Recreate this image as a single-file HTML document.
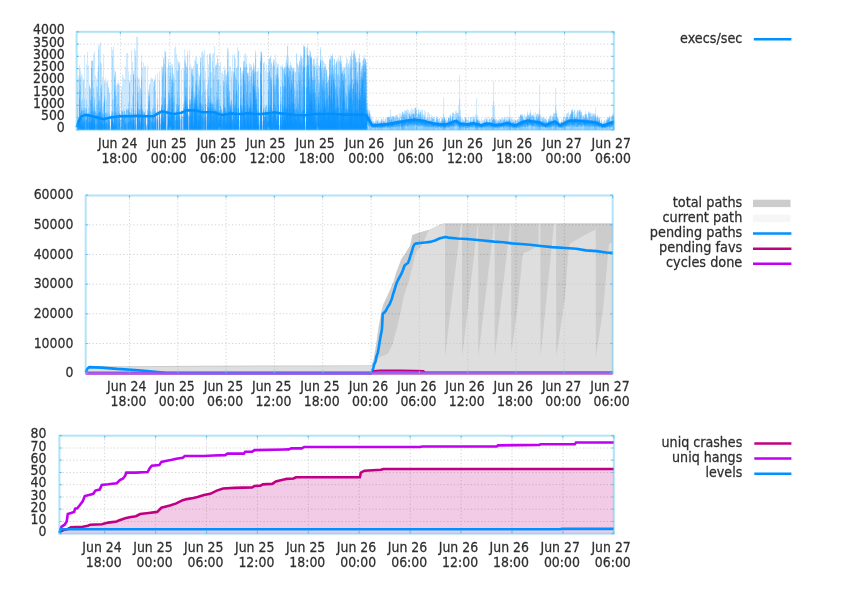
<!DOCTYPE html>
<html><head><meta charset="utf-8"><title>afl plots</title>
<style>html,body{margin:0;padding:0;background:#fff;overflow:hidden}svg{display:block}</style>
</head><body>
<svg width="846" height="592" viewBox="0 0 846 592">
<defs><filter id="tb" x="-5%" y="-20%" width="110%" height="140%"><feGaussianBlur stdDeviation="0.32"/></filter></defs>
<rect width="846" height="592" fill="#fff"/>
<path d="M120.4 31.8V129.8M169.8 31.8V129.8M219.1 31.8V129.8M268.5 31.8V129.8M317.8 31.8V129.8M367.2 31.8V129.8M416.6 31.8V129.8M465.9 31.8V129.8M515.3 31.8V129.8M564.6 31.8V129.8M76.6 117.6H613.8M76.6 105.3H613.8M76.6 93.1H613.8M76.6 80.8H613.8M76.6 68.6H613.8M76.6 56.3H613.8M76.6 44.1H613.8" stroke="#d6d6d6" stroke-width="1" stroke-dasharray="1.3 2.1" fill="none"/>
<path d="M77.1 129.8V78.9H78.1V75.8H79.1V64.7H80.1V70.4H81.1V74.1H82.1V77.2H83.1V79.2H84.1V54.5H85.1V88.1H86.1V64.5H87.1V52H88.1V65.4H89.1V84.5H90.1V87.7H91.1V60.3H92.1V60.3H93.1V54.1H94.1V51.5H95.1V75.5H96.1V78.8H97.1V71.4H98.1V45.6H99.1V44.5H100.1V42.5H101.1V63.4H102.1V77H103.1V54.1H104.1V81.3H105.1V78H106.1V81H107.1V81.3H108.1V87.3H109.1V92.6H110.1V126.3H111.1V47H112.1V50H113.1V46.3H114.1V70.3H115.1V71.5H116.1V85.2H117.1V83.1H118.1V82.1H119.1V85H120.1V118.6H121.1V85.9H122.1V74.1H123.1V77.1H124.1V79.3H125.1V66.3H126.1V53.2H127.1V53.1H128.1V71H129.1V80.5H130.1V74.5H131.1V50.2H132.1V61.7H133.1V70.8H134.1V48.6H135.1V50.7H136.1V36.7H137.1V36.7H138.1V78.3H139.1V79H140.1V88.1H141.1V55.2H142.1V67.5H143.1V62.5H144.1V66.3H145.1V66H146.1V124.8H147.1V65.5H148.1V89.6H149.1V83.6H150.1V78.9H151.1V77.5H152.1V78.5H153.1V81.2H154.1V78.5H155.1V74.9H156.1V116.4H157.1V72.9H158.1V119.2H159.1V71.3H160.1V118.3H161.1V66.1H162.1V67.1H163.1V57H164.1V50.5H165.1V51.5H166.1V113H167.1V67.4H168.1V59.2H169.1V65.5H170.1V61.4H171.1V64.6H172.1V64.2H173.1V74.2H174.1V48.2H175.1V46.1H176.1V54H177.1V59.2H178.1V61.7H179.1V61.6H180.1V115.9H181.1V69.3H182.1V115.7H183.1V68H184.1V48.9H185.1V56.3H186.1V65.9H187.1V50.7H188.1V115.1H189.1V50.1H190.1V64.7H191.1V66.9H192.1V69.3H193.1V66H194.1V59.9H195.1V56.8H196.1V56.4H197.1V63.4H198.1V73.8H199.1V75.5H200.1V57.4H201.1V52.3H202.1V50.5H203.1V53.4H204.1V49.8H205.1V70.9H206.1V114H207.1V54.8H208.1V64.5H209.1V53.5H210.1V53.1H211.1V72.4H212.1V54.3H213.1V52.9H214.1V46.1H215.1V64.8H216.1V63.3H217.1V55.1H218.1V63.7H219.1V66.1H220.1V61.9H221.1V72.9H222.1V71H223.1V74H224.1V66.5H225.1V69.6H226.1V73.7H227.1V47.4H228.1V48.9H229.1V66H230.1V66.6H231.1V71.1H232.1V54.9H233.1V70.7H234.1V53.7H235.1V59.1H236.1V67.9H237.1V47.1H238.1V50.7H239.1V120.5H240.1V67.1H241.1V72.7H242.1V70.7H243.1V61.2H244.1V54.8H245.1V52.9H246.1V57H247.1V72.5H248.1V72.5H249.1V63.2H250.1V64.1H251.1V65H252.1V69.8H253.1V62.3H254.1V66.2H255.1V50H256.1V71.8H257.1V70.9H258.1V67.9H259.1V114.2H260.1V51.1H261.1V51.8H262.1V121.2H263.1V62.7H264.1V61.8H265.1V70.9H266.1V64.4H267.1V72.2H268.1V59.4H269.1V57.6H270.1V55.4H271.1V62.3H272.1V66.5H273.1V58.8H274.1V59.5H275.1V54.6H276.1V62.1H277.1V64.2H278.1V63.8H279.1V125H280.1V65.6H281.1V66.4H282.1V64.3H283.1V68.3H284.1V66.6H285.1V62.8H286.1V55.2H287.1V45.7H288.1V57.1H289.1V65.5H290.1V61.8H291.1V65.2H292.1V67.2H293.1V67.3H294.1V70.2H295.1V71.8H296.1V53.6H297.1V63.2H298.1V65.7H299.1V59.9H300.1V54H301.1V56.2H302.1V58.2H303.1V44.6H304.1V46.2H305.1V121.7H306.1V47.7H307.1V43.8H308.1V56H309.1V49.7H310.1V51.3H311.1V56.9H312.1V64.5H313.1V58.8H314.1V57.5H315.1V63.5H316.1V57.4H317.1V57.1H318.1V64.6H319.1V65.9H320.1V47H321.1V59.6H322.1V56.8H323.1V61.3H324.1V63.2H325.1V64H326.1V69.6H327.1V76.5H328.1V76.3H329.1V58.2H330.1V54.8H331.1V55.9H332.1V53.5H333.1V65.2H334.1V59H335.1V63.6H336.1V60.9H337.1V58.9H338.1V57H339.1V59.8H340.1V55.3H341.1V60.9H342.1V69.8H343.1V66.2H344.1V67.5H345.1V64.6H346.1V56.9H347.1V59.1H348.1V63.2H349.1V60.2H350.1V56H351.1V50.9H352.1V59.3H353.1V50.8H354.1V49.8H355.1V56.7H356.1V61.3H357.1V61.9H358.1V57.9H359.1V53.7H360.1V62.6H361.1V65.5H362.1V60.8H363.1V57.5H364.1V54.9H365.1V58.9H366.1V62.1H367.1V112.9H368.1V115.5H369.1V118.6H370.1V119.8H371.1V121.6H372.1V124.4H373.1V123.9H374.1V124.3H375.1V124H376.1V123.6H377.1V124.1H378.1V124.7H379.1V124.4H380.1V124.8H381.1V123.3H382.1V123.3H383.1V123.9H384.1V123.6H385.1V124.3H386.1V122.9H387.1V123.2H388.1V122.4H389.1V120.3H390.1V109.3H391.1V120.4H392.1V121.6H393.1V122H394.1V122.8H395.1V121.6H396.1V122.3H397.1V121.6H398.1V120.8H399.1V121.4H400.1V121.2H401.1V119.3H402.1V112.2H403.1V120H404.1V119.1H405.1V119.8H406.1V120H407.1V118.8H408.1V118.4H409.1V118.4H410.1V118.7H411.1V120.3H412.1V119.8H413.1V117.4H414.1V118H415.1V118.2H416.1V117.2H417.1V118H418.1V119.6H419.1V118.6H420.1V118.8H421.1V120.3H422.1V118.6H423.1V118.6H424.1V118.8H425.1V120.4H426.1V119.7H427.1V120.7H428.1V122.4H429.1V120.4H430.1V120.9H431.1V121.2H432.1V122.1H433.1V123.2H434.1V122.7H435.1V123H436.1V122.5H437.1V123.2H438.1V123.7H439.1V122.9H440.1V122.8H441.1V124.1H442.1V119.8H443.1V97.4H444.1V116.9H445.1V122.9H446.1V123.5H447.1V122.9H448.1V121.8H449.1V123.1H450.1V122.3H451.1V121H452.1V121.8H453.1V121.4H454.1V119.5H455.1V119.4H456.1V118.4H457.1V119.7H458.1V105.8H459.1V75.3H460.1V110.3H461.1V122.6H462.1V122.1H463.1V122.2H464.1V122.4H465.1V123H466.1V124H467.1V123.2H468.1V123.5H469.1V122.6H470.1V122.7H471.1V122.1H472.1V121.9H473.1V122.9H474.1V121.5H475.1V114.2H476.1V98.3H477.1V115.5H478.1V123H479.1V123.1H480.1V124.5H481.1V124.3H482.1V124.5H483.1V123.1H484.1V122.9H485.1V122.6H486.1V122H487.1V122.1H488.1V122H489.1V122.9H490.1V123.1H491.1V123.5H492.1V105.6H493.1V81.2H494.1V106.3H495.1V124.9H496.1V123.8H497.1V124.3H498.1V124.5H499.1V123.3H500.1V123.9H501.1V123.1H502.1V123.6H503.1V122.6H504.1V123.2H505.1V122.4H506.1V121.4H507.1V121.1H508.1V118.7H509.1V105.4H510.1V120.1H511.1V124.1H512.1V123.7H513.1V124.2H514.1V124.1H515.1V124.9H516.1V124.1H517.1V124.3H518.1V123.4H519.1V122.4H520.1V121.1H521.1V121.4H522.1V122.1H523.1V119.9H524.1V120.2H525.1V120.3H526.1V119.2H527.1V120H528.1V118.4H529.1V119.3H530.1V119.6H531.1V119.4H532.1V119.6H533.1V119.1H534.1V119.9H535.1V120.8H536.1V120.8H537.1V120.7H538.1V113.5H539.1V84.7H540.1V114.7H541.1V122.1H542.1V123.1H543.1V123.7H544.1V124.1H545.1V124H546.1V123.9H547.1V124.3H548.1V123.9H549.1V122H550.1V122H551.1V122.1H552.1V121.5H553.1V121.6H554.1V113.1H555.1V88H556.1V109.5H557.1V122.6H558.1V123.6H559.1V123.6H560.1V124.2H561.1V123.7H562.1V124.2H563.1V122.3H564.1V122.4H565.1V120.8H566.1V121.3H567.1V119.7H568.1V119.1H569.1V120.2H570.1V119H571.1V118H572.1V119H573.1V119.1H574.1V119.2H575.1V118.2H576.1V119.3H577.1V119.2H578.1V118.4H579.1V120.1H580.1V120.6H581.1V119H582.1V118.7H583.1V119.5H584.1V119.9H585.1V119.4H586.1V120.5H587.1V119.3H588.1V120.7H589.1V121.2H590.1V120.7H591.1V120.6H592.1V120.8H593.1V121.6H594.1V119.4H595.1V107.2H596.1V120.2H597.1V121.7H598.1V122.3H599.1V122.5H600.1V124.4H601.1V124H602.1V125H603.1V125.2H604.1V124.1H605.1V124.1H606.1V122.9H607.1V122.4H608.1V122.9H609.1V122H610.1V121.3H611.1V120.9H612.1V120.8H613.1V120.1H614.1V129.8Z" fill="#0090ff" fill-opacity="0.2"/>
<path d="M77.1 129.8V107.7H78.1V118.3H79.1V69H80.1V76.5H81.1V100.9H82.1V99.2H83.1V81.8H84.1V98.6H85.1V108.1H86.1V99.4H87.1V113.8H88.1V107.3H89.1V86H90.1V89.3H91.1V61.1H92.1V61H93.1V88.3H94.1V97.1H95.1V110.8H96.1V86.4H97.1V87H98.1V48.9H99.1V95.8H100.1V62.2H101.1V84H102.1V109.4H103.1V102.5H104.1V83.1H105.1V112.8H106.1V99.4H107.1V83.4H108.1V87.7H109.1V93.3H110.1V129.8H111.1V111H112.1V55.9H113.1V99.5H114.1V76H115.1V72.6H116.1V95.6H117.1V84.5H118.1V84.3H119.1V106.8H120.1V120.1H121.1V91.7H122.1V110.5H123.1V108.8H124.1V111H125.1V114H126.1V108.3H127.1V108.9H128.1V102H129.1V81.9H130.1V112.1H131.1V108.1H132.1V94.8H133.1V74H134.1V113.5H135.1V56.8H136.1V125.2H137.1V76.5H138.1V93.2H139.1V86.7H140.1V89.5H141.1V61.9H142.1V108.2H143.1V110.8H144.1V111.7H145.1V109.4H146.1V125.5H147.1V109.3H148.1V93.7H149.1V85.1H150.1V110.9H151.1V112.2H152.1V108.2H153.1V86.3H154.1V80.4H155.1V91H156.1V119.1H157.1V98.4H158.1V129.8H159.1V81.1H160.1V123.2H161.1V96.9H162.1V68.9H163.1V59.3H164.1V63.8H165.1V52.3H166.1V129.8H167.1V104.2H168.1V63.6H169.1V75.7H170.1V67H171.1V77.8H172.1V67.5H173.1V76.7H174.1V79.3H175.1V111H176.1V69.9H177.1V71.3H178.1V63.3H179.1V64.5H180.1V119.1H181.1V110.2H182.1V116.1H183.1V103.2H184.1V60H185.1V62.5H186.1V67.2H187.1V54.4H188.1V116H189.1V86.2H190.1V99.2H191.1V69H192.1V69.6H193.1V76.3H194.1V92.2H195.1V61.6H196.1V63.7H197.1V64.4H198.1V84.7H199.1V76.8H200.1V57.7H201.1V95.4H202.1V57H203.1V65.9H204.1V79.1H205.1V89.5H206.1V118.7H207.1V84.6H208.1V76.5H209.1V54.3H210.1V57.1H211.1V87.8H212.1V61H213.1V68.5H214.1V75.2H215.1V66.8H216.1V65.2H217.1V59H218.1V79.2H219.1V99.1H220.1V84.8H221.1V108.8H222.1V111.6H223.1V80.9H224.1V70.5H225.1V75.6H226.1V76.1H227.1V51.8H228.1V71.7H229.1V90.3H230.1V100.7H231.1V76.8H232.1V104.2H233.1V71.9H234.1V57.2H235.1V76.2H236.1V68.7H237.1V66.2H238.1V51H239.1V126.6H240.1V67.4H241.1V78.8H242.1V73.8H243.1V61.4H244.1V61.3H245.1V67.1H246.1V64.1H247.1V73H248.1V75.9H249.1V67.7H250.1V75.7H251.1V67.3H252.1V70.5H253.1V64.2H254.1V70.7H255.1V52.9H256.1V86.1H257.1V71.4H258.1V87.3H259.1V121H260.1V58H261.1V52H262.1V125.1H263.1V63.5H264.1V107H265.1V105.2H266.1V105.2H267.1V107.3H268.1V65.5H269.1V59.2H270.1V58.3H271.1V63.7H272.1V108.6H273.1V61.2H274.1V65.3H275.1V75H276.1V68.8H277.1V66.5H278.1V76.7H279.1V129.8H280.1V86.5H281.1V97.1H282.1V67H283.1V70H284.1V68H285.1V66.9H286.1V59.9H287.1V46.2H288.1V68H289.1V67.5H290.1V64.7H291.1V67.6H292.1V68.9H293.1V68.3H294.1V87.4H295.1V72.8H296.1V54.1H297.1V64.2H298.1V68.8H299.1V61.7H300.1V56.2H301.1V58.3H302.1V66.3H303.1V46.8H304.1V46.3H305.1V126H306.1V65.1H307.1V47.8H308.1V56.4H309.1V54.7H310.1V52.6H311.1V57.1H312.1V76.8H313.1V59.5H314.1V65.5H315.1V77H316.1V65.7H317.1V67.9H318.1V80.7H319.1V66.9H320.1V49.8H321.1V68.2H322.1V61.1H323.1V67.2H324.1V66.8H325.1V66.2H326.1V70H327.1V81.7H328.1V80H329.1V60H330.1V59H331.1V56H332.1V56.6H333.1V69H334.1V59.1H335.1V73.4H336.1V61.6H337.1V74H338.1V61.4H339.1V61.4H340.1V55.7H341.1V64.1H342.1V70.8H343.1V69.6H344.1V67.5H345.1V78.2H346.1V63.1H347.1V66.9H348.1V64.4H349.1V69.2H350.1V56.6H351.1V53.8H352.1V79.2H353.1V53.4H354.1V53.5H355.1V57.7H356.1V62.8H357.1V71.8H358.1V65H359.1V58H360.1V71.2H361.1V68.8H362.1V65.3H363.1V59.1H364.1V58H365.1V59.7H366.1V68.7H367.1V117.2H368.1V118.2H369.1V119.6H370.1V119.8H371.1V122.2H372.1V125H373.1V123.9H374.1V125H375.1V124.1H376.1V124.7H377.1V124.7H378.1V124.8H379.1V124.6H380.1V124.9H381.1V123.8H382.1V124.1H383.1V124.6H384.1V124.4H385.1V124.5H386.1V123.1H387.1V123.5H388.1V123.7H389.1V123.4H390.1V121.4H391.1V122.2H392.1V122.4H393.1V122.2H394.1V123H395.1V121.7H396.1V122.9H397.1V122.6H398.1V120.8H399.1V121.7H400.1V121.6H401.1V120.8H402.1V120.9H403.1V121H404.1V120.7H405.1V121.2H406.1V120.6H407.1V120.8H408.1V118.7H409.1V119.5H410.1V118.7H411.1V120.4H412.1V119.8H413.1V118H414.1V118.5H415.1V119.9H416.1V119.1H417.1V120.4H418.1V119.8H419.1V120.1H420.1V119.4H421.1V120.9H422.1V118.9H423.1V119.1H424.1V119.2H425.1V121.8H426.1V121.4H427.1V121.5H428.1V122.6H429.1V120.4H430.1V121.4H431.1V122H432.1V122.9H433.1V123.7H434.1V123.6H435.1V123.6H436.1V123H437.1V123.9H438.1V124H439.1V124.1H440.1V124.1H441.1V124.3H442.1V122.8H443.1V114H444.1V123.6H445.1V123.2H446.1V124.2H447.1V124H448.1V123.8H449.1V123.4H450.1V122.4H451.1V121.3H452.1V122.4H453.1V122H454.1V119.8H455.1V120.6H456.1V119.6H457.1V120.6H458.1V121.8H459.1V99.1H460.1V122.8H461.1V123.6H462.1V122.5H463.1V122.7H464.1V123.5H465.1V123.4H466.1V124.4H467.1V123.9H468.1V124.5H469.1V123.8H470.1V123.5H471.1V123.5H472.1V122.3H473.1V123H474.1V123.5H475.1V123.6H476.1V115H477.1V123.8H478.1V124.5H479.1V124.1H480.1V124.7H481.1V124.9H482.1V124.6H483.1V124.8H484.1V124.2H485.1V124.2H486.1V122.1H487.1V122.4H488.1V123.1H489.1V123.8H490.1V123.3H491.1V124.3H492.1V123.8H493.1V101.1H494.1V123.6H495.1V125H496.1V124.6H497.1V124.9H498.1V124.6H499.1V124.9H500.1V124.6H501.1V123.6H502.1V123.8H503.1V123.6H504.1V123.4H505.1V123.5H506.1V123.2H507.1V121.6H508.1V122.2H509.1V119.1H510.1V123.1H511.1V124.2H512.1V124.6H513.1V124.7H514.1V124.9H515.1V125.4H516.1V124.9H517.1V124.7H518.1V123.9H519.1V123.4H520.1V122.6H521.1V122.3H522.1V122.5H523.1V120.5H524.1V121.6H525.1V120.4H526.1V121.4H527.1V121.2H528.1V120.6H529.1V119.4H530.1V121.1H531.1V120.5H532.1V121.5H533.1V120.6H534.1V121.2H535.1V120.9H536.1V121.6H537.1V120.8H538.1V120.8H539.1V108.7H540.1V121.4H541.1V122.6H542.1V123.5H543.1V124.1H544.1V124.4H545.1V124.4H546.1V124.4H547.1V124.7H548.1V124.1H549.1V123.1H550.1V122.4H551.1V123H552.1V122.6H553.1V122.4H554.1V120.2H555.1V105.4H556.1V122H557.1V123.2H558.1V123.7H559.1V124.6H560.1V124.5H561.1V124.2H562.1V124.6H563.1V122.7H564.1V123.6H565.1V123.1H566.1V122.3H567.1V119.9H568.1V120.2H569.1V120.6H570.1V119.8H571.1V120.6H572.1V120.1H573.1V120.3H574.1V120.6H575.1V118.9H576.1V120.4H577.1V120.1H578.1V119.5H579.1V121H580.1V120.9H581.1V120.7H582.1V119H583.1V120H584.1V120.1H585.1V121.3H586.1V121.3H587.1V119.9H588.1V122H589.1V121.4H590.1V121.6H591.1V120.8H592.1V121.6H593.1V122.5H594.1V121.7H595.1V116.6H596.1V121.1H597.1V122.9H598.1V122.6H599.1V123.7H600.1V124.4H601.1V125.1H602.1V125.1H603.1V125.5H604.1V125.1H605.1V124.8H606.1V124.5H607.1V123.1H608.1V124H609.1V123H610.1V122.8H611.1V121.9H612.1V121.6H613.1V122.2H614.1V129.8Z" fill="#0090ff" fill-opacity="0.2"/>
<path d="M77.1 129.8V124.6H78.1V119.2H79.1V78.3H80.1V85.1H81.1V107.4H82.1V110.2H83.1V107.7H84.1V107.7H85.1V109.9H86.1V107.4H87.1V113.9H88.1V111.7H89.1V87H90.1V99.6H91.1V67.7H92.1V80.8H93.1V106.8H94.1V99.5H95.1V111.7H96.1V104.8H97.1V93.3H98.1V65.8H99.1V99.4H100.1V87.9H101.1V85.7H102.1V112.8H103.1V106H104.1V94.9H105.1V112.8H106.1V112.5H107.1V112.9H108.1V111.6H109.1V114.2H110.1V129.8H111.1V113.2H112.1V99.6H113.1V111.4H114.1V77.4H115.1V90.6H116.1V106.9H117.1V104H118.1V92.5H119.1V112.8H120.1V126.8H121.1V110.9H122.1V111.6H123.1V114.4H124.1V111.1H125.1V114.5H126.1V109.4H127.1V110.6H128.1V108.6H129.1V83.3H130.1V113H131.1V108.2H132.1V113.7H133.1V74.1H134.1V114.6H135.1V77.9H136.1V129.8H137.1V86.3H138.1V108.1H139.1V108.8H140.1V105H141.1V76.5H142.1V110.1H143.1V112.5H144.1V111.9H145.1V114.8H146.1V126.9H147.1V110.3H148.1V96.3H149.1V94.3H150.1V111.2H151.1V115H152.1V109.1H153.1V106.2H154.1V82.2H155.1V107.4H156.1V121.2H157.1V104.8H158.1V129.8H159.1V110H160.1V124.4H161.1V104.8H162.1V72.5H163.1V65.6H164.1V90.4H165.1V56.8H166.1V129.8H167.1V108.8H168.1V91H169.1V91.8H170.1V73.4H171.1V80.2H172.1V72.7H173.1V82.8H174.1V95.2H175.1V113.6H176.1V104.1H177.1V90.9H178.1V70.8H179.1V97.9H180.1V129.8H181.1V114.1H182.1V129.8H183.1V107.4H184.1V70.5H185.1V63.5H186.1V73.5H187.1V68.2H188.1V123.9H189.1V99.2H190.1V99.5H191.1V72.9H192.1V74.7H193.1V95H194.1V96.8H195.1V81.3H196.1V69.6H197.1V94.7H198.1V87.5H199.1V81.5H200.1V62.6H201.1V103.7H202.1V92.7H203.1V81.4H204.1V91.4H205.1V98.8H206.1V129.8H207.1V89.3H208.1V80.7H209.1V96.1H210.1V72.3H211.1V101.8H212.1V102.2H213.1V79.3H214.1V96.4H215.1V102.6H216.1V92.1H217.1V80H218.1V80.5H219.1V111.5H220.1V105.7H221.1V109H222.1V111.8H223.1V81.7H224.1V82H225.1V107H226.1V81.8H227.1V59.5H228.1V76.3H229.1V91.6H230.1V102.7H231.1V99.4H232.1V108.9H233.1V74.3H234.1V67.7H235.1V78H236.1V79.8H237.1V95.6H238.1V82.8H239.1V129.8H240.1V68.5H241.1V85.5H242.1V97.5H243.1V66.2H244.1V67.7H245.1V67.4H246.1V65.7H247.1V73.3H248.1V81.6H249.1V80.6H250.1V83.5H251.1V72.3H252.1V83.7H253.1V68.9H254.1V72.4H255.1V58.6H256.1V92.6H257.1V79.4H258.1V89.1H259.1V125.4H260.1V61.4H261.1V53.2H262.1V129.8H263.1V106.8H264.1V115.7H265.1V107H266.1V105.8H267.1V111.1H268.1V74.5H269.1V70.4H270.1V76.4H271.1V77.6H272.1V110.9H273.1V62.5H274.1V83H275.1V84.9H276.1V74.8H277.1V68.6H278.1V78.6H279.1V129.8H280.1V86.5H281.1V112.9H282.1V67.6H283.1V86.1H284.1V69H285.1V74.6H286.1V66.4H287.1V63.2H288.1V68H289.1V70.6H290.1V68.9H291.1V75.1H292.1V71H293.1V69.3H294.1V89.8H295.1V96H296.1V81.2H297.1V84H298.1V72H299.1V63.7H300.1V65.1H301.1V61.3H302.1V71.7H303.1V55H304.1V46.7H305.1V129.8H306.1V66.2H307.1V54.4H308.1V60.4H309.1V76.4H310.1V56H311.1V58.6H312.1V79.9H313.1V66.3H314.1V67.1H315.1V92.4H316.1V70.5H317.1V75.5H318.1V83.5H319.1V83.2H320.1V60.1H321.1V70.2H322.1V76.7H323.1V70.2H324.1V68.4H325.1V82.9H326.1V70.1H327.1V83.5H328.1V80.7H329.1V60H330.1V60.1H331.1V67H332.1V59.1H333.1V73.2H334.1V65.5H335.1V86.7H336.1V62.5H337.1V75.8H338.1V74.2H339.1V76.8H340.1V62.8H341.1V67H342.1V72.5H343.1V75H344.1V73.5H345.1V92.7H346.1V93.8H347.1V84.8H348.1V74.1H349.1V82.5H350.1V63.8H351.1V59H352.1V88.5H353.1V55.8H354.1V53.8H355.1V58.6H356.1V76.2H357.1V73.5H358.1V83.9H359.1V61.9H360.1V77H361.1V69.1H362.1V65.9H363.1V59.8H364.1V62.2H365.1V59.8H366.1V81.5H367.1V129.8H368.1V129.8H369.1V121.2H370.1V125.7H371.1V124.3H372.1V129.8H373.1V129.8H374.1V126.2H375.1V125.6H376.1V129.8H377.1V124.8H378.1V126.8H379.1V126.4H380.1V126.5H381.1V124.7H382.1V125H383.1V129.8H384.1V129.8H385.1V129.8H386.1V129.8H387.1V124.1H388.1V129.8H389.1V123.7H390.1V122.3H391.1V123H392.1V125.3H393.1V125.8H394.1V129.8H395.1V125.7H396.1V123.3H397.1V123.5H398.1V123.7H399.1V124.7H400.1V129.8H401.1V122.8H402.1V121.8H403.1V121.8H404.1V124.3H405.1V125.1H406.1V129.8H407.1V123.7H408.1V121H409.1V120.7H410.1V124.1H411.1V122.4H412.1V120.1H413.1V123.4H414.1V121.7H415.1V129.8H416.1V121H417.1V123.6H418.1V129.8H419.1V129.8H420.1V124.8H421.1V129.8H422.1V124.1H423.1V125H424.1V123.2H425.1V124.8H426.1V123.5H427.1V124.6H428.1V124.5H429.1V122.3H430.1V129.8H431.1V124.4H432.1V123.6H433.1V124.7H434.1V125.9H435.1V129.8H436.1V129.8H437.1V125.6H438.1V124.4H439.1V129.8H440.1V129.8H441.1V125.4H442.1V124.1H443.1V122.8H444.1V123.7H445.1V126H446.1V129.8H447.1V129.8H448.1V129.8H449.1V124H450.1V125H451.1V122.3H452.1V125.1H453.1V125.1H454.1V129.8H455.1V129.8H456.1V129.8H457.1V124.5H458.1V122.4H459.1V121.5H460.1V122.9H461.1V126.7H462.1V126H463.1V124.7H464.1V129.8H465.1V124.4H466.1V129.8H467.1V129.8H468.1V126.3H469.1V124.2H470.1V129.8H471.1V129.8H472.1V129.8H473.1V129.8H474.1V129.8H475.1V123.9H476.1V122.1H477.1V124H478.1V126.7H479.1V129.8H480.1V126.9H481.1V125.6H482.1V126H483.1V129.8H484.1V126.7H485.1V124.3H486.1V124.1H487.1V126.6H488.1V124.1H489.1V124.4H490.1V125H491.1V126H492.1V124.1H493.1V123.9H494.1V124.8H495.1V129.8H496.1V125.1H497.1V127.1H498.1V124.7H499.1V127.2H500.1V129.8H501.1V129.8H502.1V129.8H503.1V124.4H504.1V126.5H505.1V129.8H506.1V123.7H507.1V125.3H508.1V123.1H509.1V121.8H510.1V123.3H511.1V129.8H512.1V125H513.1V125.8H514.1V126.1H515.1V126H516.1V125.2H517.1V129.8H518.1V124.7H519.1V123.6H520.1V123.9H521.1V124.2H522.1V123.6H523.1V129.8H524.1V124.7H525.1V124.8H526.1V129.8H527.1V121.3H528.1V129.8H529.1V129.8H530.1V129.8H531.1V121.8H532.1V124.3H533.1V129.8H534.1V129.8H535.1V125.6H536.1V125.2H537.1V122.9H538.1V121.5H539.1V121.1H540.1V122.3H541.1V129.8H542.1V124.5H543.1V129.8H544.1V129.8H545.1V126.6H546.1V129.8H547.1V125.3H548.1V126.5H549.1V124.4H550.1V124.8H551.1V126.3H552.1V129.8H553.1V123.5H554.1V121.1H555.1V120.8H556.1V122.4H557.1V129.8H558.1V126.5H559.1V129.8H560.1V129.8H561.1V126.7H562.1V125.9H563.1V124.3H564.1V124.7H565.1V124.9H566.1V129.8H567.1V129.8H568.1V129.8H569.1V129.8H570.1V124.8H571.1V124.5H572.1V123.7H573.1V129.8H574.1V125H575.1V129.8H576.1V129.8H577.1V124.8H578.1V129.8H579.1V129.8H580.1V123.3H581.1V129.8H582.1V129.8H583.1V129.8H584.1V124.7H585.1V121.9H586.1V123.1H587.1V123.9H588.1V122.3H589.1V121.8H590.1V125.7H591.1V129.8H592.1V122.2H593.1V129.8H594.1V121.9H595.1V120.5H596.1V122.5H597.1V126.1H598.1V129.8H599.1V124.1H600.1V129.8H601.1V127.4H602.1V127.2H603.1V129.8H604.1V129.8H605.1V126.4H606.1V129.8H607.1V126.1H608.1V129.8H609.1V123.4H610.1V129.8H611.1V129.8H612.1V129.8H613.1V123.2H614.1V129.8Z" fill="#0090ff" fill-opacity="0.2"/>
<path d="M77.1 129.8V124.8H78.1V119.9H79.1V90.2H80.1V111.5H81.1V109.8H82.1V110.6H83.1V111H84.1V110.4H85.1V116.9H86.1V108.5H87.1V113.9H88.1V114H89.1V112.7H90.1V100.1H91.1V68.4H92.1V96.6H93.1V110.7H94.1V106.7H95.1V111.7H96.1V113.6H97.1V107.1H98.1V100.5H99.1V108.1H100.1V102.2H101.1V92.8H102.1V113.6H103.1V114.7H104.1V97.6H105.1V116.6H106.1V114.3H107.1V116.1H108.1V118.6H109.1V114.7H110.1V129.8H111.1V114.6H112.1V111.2H113.1V117.9H114.1V85.2H115.1V96.1H116.1V111.9H117.1V113.2H118.1V110.9H119.1V113.8H120.1V129.8H121.1V111.3H122.1V112H123.1V116H124.1V111.3H125.1V114.5H126.1V110H127.1V116.8H128.1V108.9H129.1V112H130.1V115.1H131.1V113.7H132.1V115.2H133.1V74.9H134.1V120.2H135.1V110.1H136.1V129.8H137.1V92.6H138.1V111.2H139.1V110.1H140.1V109.5H141.1V81.3H142.1V111.6H143.1V114.7H144.1V113.2H145.1V115.2H146.1V129.8H147.1V112.5H148.1V101.2H149.1V96.8H150.1V111.5H151.1V116.7H152.1V111.8H153.1V111.5H154.1V108.8H155.1V111.3H156.1V129.8H157.1V115.6H158.1V129.8H159.1V110.6H160.1V129.8H161.1V105H162.1V76.2H163.1V100.2H164.1V98.3H165.1V71.3H166.1V129.8H167.1V109.7H168.1V93.1H169.1V95H170.1V98.8H171.1V87H172.1V80.7H173.1V101.6H174.1V112.6H175.1V119.8H176.1V104.6H177.1V98.3H178.1V104.5H179.1V112.5H180.1V129.8H181.1V114.8H182.1V129.8H183.1V107.5H184.1V81.3H185.1V87.6H186.1V87.6H187.1V99.4H188.1V129.8H189.1V101.2H190.1V103.8H191.1V88H192.1V75.9H193.1V102.3H194.1V98.7H195.1V85.6H196.1V80.7H197.1V100.2H198.1V92.4H199.1V90.1H200.1V73.3H201.1V104.9H202.1V105.7H203.1V103.9H204.1V110.7H205.1V103.9H206.1V129.8H207.1V101.9H208.1V95.7H209.1V101.9H210.1V87.9H211.1V103.9H212.1V103.5H213.1V104.2H214.1V104.6H215.1V109H216.1V99.6H217.1V97.1H218.1V102.4H219.1V111.5H220.1V105.9H221.1V110.4H222.1V113.5H223.1V85.9H224.1V98.3H225.1V108.3H226.1V85.2H227.1V72.1H228.1V84.6H229.1V97H230.1V105H231.1V100.6H232.1V113.5H233.1V83.2H234.1V72.9H235.1V94.1H236.1V81.1H237.1V108.1H238.1V85.6H239.1V129.8H240.1V86H241.1V105.1H242.1V105.6H243.1V70.4H244.1V80.3H245.1V84H246.1V91.9H247.1V75.6H248.1V97.1H249.1V92.9H250.1V92.2H251.1V76.5H252.1V86.3H253.1V69.5H254.1V80.3H255.1V72.1H256.1V95.8H257.1V110.5H258.1V93.6H259.1V129.8H260.1V61.8H261.1V55.2H262.1V129.8H263.1V109.2H264.1V115.9H265.1V108.5H266.1V112.4H267.1V113.1H268.1V89.6H269.1V71.5H270.1V77.8H271.1V80.2H272.1V111.6H273.1V65.6H274.1V86.3H275.1V89.1H276.1V78.3H277.1V73.4H278.1V93.2H279.1V129.8H280.1V101.2H281.1V113.3H282.1V81.9H283.1V86.3H284.1V72.7H285.1V75.4H286.1V69.5H287.1V65.3H288.1V76.5H289.1V71.1H290.1V72.1H291.1V80.4H292.1V75H293.1V72.3H294.1V104.1H295.1V98.7H296.1V91.2H297.1V90.1H298.1V101.5H299.1V74.1H300.1V77.1H301.1V84.3H302.1V86.9H303.1V64.4H304.1V49.6H305.1V129.8H306.1V72.7H307.1V55H308.1V64.3H309.1V78.7H310.1V57.5H311.1V59.3H312.1V80H313.1V79.8H314.1V70.2H315.1V94H316.1V84.9H317.1V94.4H318.1V92.4H319.1V86.9H320.1V60.3H321.1V73H322.1V81.7H323.1V79.5H324.1V73.7H325.1V87.7H326.1V72.8H327.1V87.8H328.1V95H329.1V63.8H330.1V75.3H331.1V73.3H332.1V65H333.1V76.2H334.1V78.2H335.1V88.9H336.1V65.2H337.1V85.9H338.1V98.9H339.1V87.3H340.1V64.2H341.1V73.2H342.1V73.5H343.1V76.3H344.1V73.7H345.1V102.3H346.1V95.5H347.1V108.8H348.1V86.4H349.1V85.3H350.1V68.2H351.1V66.7H352.1V88.7H353.1V83.1H354.1V67H355.1V62.1H356.1V80.7H357.1V79.6H358.1V93.1H359.1V62.3H360.1V79.5H361.1V73.2H362.1V71.2H363.1V64.8H364.1V64.2H365.1V64.7H366.1V103.7H367.1V129.8H368.1V129.8H369.1V129.8H370.1V129.8H371.1V129.8H372.1V129.8H373.1V129.8H374.1V129.8H375.1V129.8H376.1V129.8H377.1V129.8H378.1V129.8H379.1V129.8H380.1V129.8H381.1V129.8H382.1V129.8H383.1V129.8H384.1V129.8H385.1V129.8H386.1V129.8H387.1V129.8H388.1V129.8H389.1V129.8H390.1V122.5H391.1V129.8H392.1V129.8H393.1V129.8H394.1V129.8H395.1V129.8H396.1V129.8H397.1V129.8H398.1V129.8H399.1V129.8H400.1V129.8H401.1V124.8H402.1V121.9H403.1V124.2H404.1V129.8H405.1V129.8H406.1V129.8H407.1V129.8H408.1V129.8H409.1V129.8H410.1V129.8H411.1V129.8H412.1V129.8H413.1V129.8H414.1V129.8H415.1V129.8H416.1V129.8H417.1V129.8H418.1V129.8H419.1V129.8H420.1V129.8H421.1V129.8H422.1V129.8H423.1V129.8H424.1V129.8H425.1V129.8H426.1V129.8H427.1V129.8H428.1V129.8H429.1V129.8H430.1V129.8H431.1V129.8H432.1V129.8H433.1V129.8H434.1V129.8H435.1V129.8H436.1V129.8H437.1V129.8H438.1V129.8H439.1V129.8H440.1V129.8H441.1V129.8H442.1V129.8H443.1V124.2H444.1V126.4H445.1V129.8H446.1V129.8H447.1V129.8H448.1V129.8H449.1V129.8H450.1V129.8H451.1V129.8H452.1V129.8H453.1V129.8H454.1V129.8H455.1V129.8H456.1V129.8H457.1V129.8H458.1V129.8H459.1V122.4H460.1V124.1H461.1V129.8H462.1V129.8H463.1V129.8H464.1V129.8H465.1V129.8H466.1V129.8H467.1V129.8H468.1V129.8H469.1V129.8H470.1V129.8H471.1V129.8H472.1V129.8H473.1V129.8H474.1V129.8H475.1V124.4H476.1V123.2H477.1V125.8H478.1V129.8H479.1V129.8H480.1V129.8H481.1V129.8H482.1V129.8H483.1V129.8H484.1V129.8H485.1V129.8H486.1V129.8H487.1V129.8H488.1V129.8H489.1V129.8H490.1V129.8H491.1V129.8H492.1V124.3H493.1V124.1H494.1V129.8H495.1V129.8H496.1V129.8H497.1V129.8H498.1V129.8H499.1V129.8H500.1V129.8H501.1V129.8H502.1V129.8H503.1V129.8H504.1V129.8H505.1V129.8H506.1V129.8H507.1V129.8H508.1V129.8H509.1V122.1H510.1V125.5H511.1V129.8H512.1V129.8H513.1V129.8H514.1V129.8H515.1V129.8H516.1V129.8H517.1V129.8H518.1V129.8H519.1V129.8H520.1V129.8H521.1V129.8H522.1V129.8H523.1V129.8H524.1V129.8H525.1V129.8H526.1V129.8H527.1V129.8H528.1V129.8H529.1V129.8H530.1V129.8H531.1V129.8H532.1V129.8H533.1V129.8H534.1V129.8H535.1V129.8H536.1V129.8H537.1V129.8H538.1V129.8H539.1V121.9H540.1V129.8H541.1V129.8H542.1V129.8H543.1V129.8H544.1V129.8H545.1V129.8H546.1V129.8H547.1V129.8H548.1V129.8H549.1V129.8H550.1V129.8H551.1V129.8H552.1V129.8H553.1V129.8H554.1V129.8H555.1V121.2H556.1V129.8H557.1V129.8H558.1V129.8H559.1V129.8H560.1V129.8H561.1V129.8H562.1V129.8H563.1V129.8H564.1V129.8H565.1V129.8H566.1V129.8H567.1V129.8H568.1V129.8H569.1V129.8H570.1V129.8H571.1V129.8H572.1V129.8H573.1V129.8H574.1V129.8H575.1V129.8H576.1V129.8H577.1V129.8H578.1V129.8H579.1V129.8H580.1V129.8H581.1V129.8H582.1V129.8H583.1V129.8H584.1V129.8H585.1V129.8H586.1V129.8H587.1V129.8H588.1V129.8H589.1V129.8H590.1V129.8H591.1V129.8H592.1V129.8H593.1V129.8H594.1V125.2H595.1V121.7H596.1V129.8H597.1V129.8H598.1V129.8H599.1V129.8H600.1V129.8H601.1V129.8H602.1V129.8H603.1V129.8H604.1V129.8H605.1V129.8H606.1V129.8H607.1V129.8H608.1V129.8H609.1V129.8H610.1V129.8H611.1V129.8H612.1V129.8H613.1V129.8H614.1V129.8Z" fill="#0090ff" fill-opacity="0.2"/>
<path d="M77.1 129.8V126.5H78.1V121.8H79.1V97.8H80.1V113.2H81.1V110.7H82.1V118.5H83.1V111.2H84.1V113.1H85.1V120.8H86.1V119.3H87.1V114.5H88.1V114.5H89.1V114.4H90.1V108.6H91.1V96.1H92.1V102.5H93.1V110.8H94.1V108.6H95.1V116.5H96.1V113.7H97.1V113.9H98.1V101.3H99.1V111.1H100.1V107.5H101.1V106.7H102.1V113.9H103.1V116H104.1V100H105.1V118.6H106.1V119.7H107.1V120.1H108.1V119.4H109.1V121.1H110.1V129.8H111.1V115.2H112.1V113.2H113.1V122H114.1V91.4H115.1V111.6H116.1V115.6H117.1V117H118.1V118.2H119.1V114H120.1V129.8H121.1V119.2H122.1V114.1H123.1V116.5H124.1V113.6H125.1V117.7H126.1V114H127.1V118.1H128.1V110.5H129.1V112.2H130.1V115.8H131.1V115.4H132.1V115.7H133.1V96.7H134.1V120.5H135.1V113.2H136.1V129.8H137.1V101.5H138.1V113.5H139.1V110.4H140.1V121.7H141.1V93.9H142.1V112.5H143.1V116H144.1V113.5H145.1V117.4H146.1V129.8H147.1V114.2H148.1V105.3H149.1V101.4H150.1V117.6H151.1V121.1H152.1V114.7H153.1V114.6H154.1V110.8H155.1V112H156.1V129.8H157.1V117.4H158.1V129.8H159.1V112H160.1V129.8H161.1V106.7H162.1V104.6H163.1V109.9H164.1V98.8H165.1V74H166.1V129.8H167.1V123.3H168.1V100.9H169.1V98H170.1V103.5H171.1V92H172.1V82.3H173.1V102H174.1V115.1H175.1V119.8H176.1V110.4H177.1V105.9H178.1V105.5H179.1V115.1H180.1V129.8H181.1V117H182.1V129.8H183.1V115.1H184.1V100.6H185.1V95.5H186.1V97.2H187.1V103.9H188.1V129.8H189.1V103.8H190.1V104.6H191.1V90.9H192.1V85.4H193.1V105.2H194.1V99.3H195.1V95.1H196.1V84.2H197.1V105H198.1V106.1H199.1V96.7H200.1V80.3H201.1V112H202.1V105.8H203.1V107.9H204.1V112.9H205.1V104H206.1V129.8H207.1V106.2H208.1V99.5H209.1V102.9H210.1V99.5H211.1V104.5H212.1V104.5H213.1V107.2H214.1V108.5H215.1V109.6H216.1V106H217.1V97.6H218.1V107H219.1V112.1H220.1V106.5H221.1V113.7H222.1V115.3H223.1V104.4H224.1V107H225.1V110.9H226.1V111.7H227.1V87.5H228.1V93.4H229.1V105.3H230.1V106H231.1V104.5H232.1V119H233.1V89.6H234.1V105.2H235.1V102.8H236.1V89.8H237.1V113H238.1V106.3H239.1V129.8H240.1V96.9H241.1V106.3H242.1V108.1H243.1V71.4H244.1V82.5H245.1V106.3H246.1V95.1H247.1V84.8H248.1V105.7H249.1V107.5H250.1V93.3H251.1V102H252.1V104H253.1V74.3H254.1V85H255.1V90H256.1V99H257.1V114.1H258.1V108.5H259.1V129.8H260.1V73.4H261.1V57.9H262.1V129.8H263.1V109.4H264.1V116.9H265.1V110.4H266.1V113.7H267.1V113.7H268.1V91H269.1V105H270.1V82.2H271.1V84.1H272.1V112.2H273.1V78.3H274.1V92H275.1V105.3H276.1V79.5H277.1V74H278.1V104.4H279.1V129.8H280.1V104.3H281.1V116.2H282.1V86.8H283.1V107.2H284.1V73.9H285.1V78.3H286.1V87.3H287.1V66.2H288.1V76.5H289.1V79.4H290.1V88.2H291.1V82H292.1V84.5H293.1V72.4H294.1V106.9H295.1V109.6H296.1V106.4H297.1V98.6H298.1V104H299.1V81H300.1V91.5H301.1V111.4H302.1V97.5H303.1V67.6H304.1V67.1H305.1V129.8H306.1V86.4H307.1V55.6H308.1V65.8H309.1V86.5H310.1V58.8H311.1V71.1H312.1V83.3H313.1V81H314.1V79.9H315.1V97H316.1V96.9H317.1V105.8H318.1V97.1H319.1V91.4H320.1V62.6H321.1V83.7H322.1V84.7H323.1V81.1H324.1V87.1H325.1V102.1H326.1V82.8H327.1V91.4H328.1V96.1H329.1V74.8H330.1V89.5H331.1V76.7H332.1V74H333.1V78.8H334.1V83H335.1V98.9H336.1V87.6H337.1V93.9H338.1V106H339.1V88.1H340.1V81.6H341.1V73.6H342.1V80.8H343.1V79.8H344.1V87.4H345.1V108.1H346.1V97H347.1V109.1H348.1V88.8H349.1V89.8H350.1V84H351.1V78.8H352.1V91.9H353.1V83.5H354.1V79.6H355.1V68.6H356.1V93.4H357.1V81.1H358.1V99.4H359.1V63.2H360.1V88.3H361.1V75H362.1V76.4H363.1V68H364.1V72.3H365.1V65.8H366.1V108.1H367.1V129.8H368.1V129.8H369.1V129.8H370.1V129.8H371.1V129.8H372.1V129.8H373.1V129.8H374.1V129.8H375.1V129.8H376.1V129.8H377.1V129.8H378.1V129.8H379.1V129.8H380.1V129.8H381.1V129.8H382.1V129.8H383.1V129.8H384.1V129.8H385.1V129.8H386.1V129.8H387.1V129.8H388.1V129.8H389.1V129.8H390.1V129.8H391.1V129.8H392.1V129.8H393.1V129.8H394.1V129.8H395.1V129.8H396.1V129.8H397.1V129.8H398.1V129.8H399.1V129.8H400.1V129.8H401.1V129.8H402.1V123.1H403.1V129.8H404.1V129.8H405.1V129.8H406.1V129.8H407.1V129.8H408.1V129.8H409.1V129.8H410.1V129.8H411.1V129.8H412.1V129.8H413.1V129.8H414.1V129.8H415.1V129.8H416.1V129.8H417.1V129.8H418.1V129.8H419.1V129.8H420.1V129.8H421.1V129.8H422.1V129.8H423.1V129.8H424.1V129.8H425.1V129.8H426.1V129.8H427.1V129.8H428.1V129.8H429.1V129.8H430.1V129.8H431.1V129.8H432.1V129.8H433.1V129.8H434.1V129.8H435.1V129.8H436.1V129.8H437.1V129.8H438.1V129.8H439.1V129.8H440.1V129.8H441.1V129.8H442.1V129.8H443.1V125.4H444.1V129.8H445.1V129.8H446.1V129.8H447.1V129.8H448.1V129.8H449.1V129.8H450.1V129.8H451.1V129.8H452.1V129.8H453.1V129.8H454.1V129.8H455.1V129.8H456.1V129.8H457.1V129.8H458.1V129.8H459.1V124H460.1V129.8H461.1V129.8H462.1V129.8H463.1V129.8H464.1V129.8H465.1V129.8H466.1V129.8H467.1V129.8H468.1V129.8H469.1V129.8H470.1V129.8H471.1V129.8H472.1V129.8H473.1V129.8H474.1V129.8H475.1V129.8H476.1V129.8H477.1V129.8H478.1V129.8H479.1V129.8H480.1V129.8H481.1V129.8H482.1V129.8H483.1V129.8H484.1V129.8H485.1V129.8H486.1V129.8H487.1V129.8H488.1V129.8H489.1V129.8H490.1V129.8H491.1V129.8H492.1V129.8H493.1V129.8H494.1V129.8H495.1V129.8H496.1V129.8H497.1V129.8H498.1V129.8H499.1V129.8H500.1V129.8H501.1V129.8H502.1V129.8H503.1V129.8H504.1V129.8H505.1V129.8H506.1V129.8H507.1V129.8H508.1V129.8H509.1V123.9H510.1V129.8H511.1V129.8H512.1V129.8H513.1V129.8H514.1V129.8H515.1V129.8H516.1V129.8H517.1V129.8H518.1V129.8H519.1V129.8H520.1V129.8H521.1V129.8H522.1V129.8H523.1V129.8H524.1V129.8H525.1V129.8H526.1V129.8H527.1V129.8H528.1V129.8H529.1V129.8H530.1V129.8H531.1V129.8H532.1V129.8H533.1V129.8H534.1V129.8H535.1V129.8H536.1V129.8H537.1V129.8H538.1V129.8H539.1V123.6H540.1V129.8H541.1V129.8H542.1V129.8H543.1V129.8H544.1V129.8H545.1V129.8H546.1V129.8H547.1V129.8H548.1V129.8H549.1V129.8H550.1V129.8H551.1V129.8H552.1V129.8H553.1V129.8H554.1V129.8H555.1V125.6H556.1V129.8H557.1V129.8H558.1V129.8H559.1V129.8H560.1V129.8H561.1V129.8H562.1V129.8H563.1V129.8H564.1V129.8H565.1V129.8H566.1V129.8H567.1V129.8H568.1V129.8H569.1V129.8H570.1V129.8H571.1V129.8H572.1V129.8H573.1V129.8H574.1V129.8H575.1V129.8H576.1V129.8H577.1V129.8H578.1V129.8H579.1V129.8H580.1V129.8H581.1V129.8H582.1V129.8H583.1V129.8H584.1V129.8H585.1V129.8H586.1V129.8H587.1V129.8H588.1V129.8H589.1V129.8H590.1V129.8H591.1V129.8H592.1V129.8H593.1V129.8H594.1V129.8H595.1V129.8H596.1V129.8H597.1V129.8H598.1V129.8H599.1V129.8H600.1V129.8H601.1V129.8H602.1V129.8H603.1V129.8H604.1V129.8H605.1V129.8H606.1V129.8H607.1V129.8H608.1V129.8H609.1V129.8H610.1V129.8H611.1V129.8H612.1V129.8H613.1V129.8H614.1V129.8Z" fill="#0090ff" fill-opacity="0.2"/>
<path d="M77.1 129.8V126.6H78.1V122.9H79.1V98.9H80.1V113.2H81.1V111.2H82.1V118.5H83.1V118H84.1V118H85.1V121.7H86.1V119.4H87.1V115.4H88.1V121.8H89.1V116.5H90.1V112.2H91.1V103.8H92.1V110.8H93.1V112.5H94.1V112.6H95.1V124.1H96.1V116.6H97.1V114.9H98.1V112.2H99.1V112H100.1V112.1H101.1V116.4H102.1V120H103.1V118.1H104.1V102.1H105.1V122.1H106.1V122.4H107.1V122.7H108.1V119.9H109.1V121.1H110.1V129.8H111.1V116.8H112.1V116H113.1V122.9H114.1V112.5H115.1V112.7H116.1V117.1H117.1V118.6H118.1V118.6H119.1V114.8H120.1V129.8H121.1V120.3H122.1V115.7H123.1V118.5H124.1V115.9H125.1V121.8H126.1V123.5H127.1V121.8H128.1V113.6H129.1V118.7H130.1V115.9H131.1V119.4H132.1V116.7H133.1V109.2H134.1V125.2H135.1V117.6H136.1V129.8H137.1V102.1H138.1V114.8H139.1V113.6H140.1V122.2H141.1V96H142.1V113.8H143.1V116.1H144.1V121.4H145.1V117.5H146.1V129.8H147.1V123.6H148.1V111.5H149.1V108.6H150.1V120H151.1V121.3H152.1V115.2H153.1V115.2H154.1V120.8H155.1V115.4H156.1V129.8H157.1V118.3H158.1V129.8H159.1V112.7H160.1V129.8H161.1V106.9H162.1V111.4H163.1V110.9H164.1V104.8H165.1V97H166.1V129.8H167.1V125.4H168.1V106.9H169.1V99.8H170.1V112.5H171.1V96.4H172.1V96.9H173.1V113.8H174.1V115.8H175.1V120.4H176.1V112.1H177.1V109.3H178.1V107.6H179.1V115.7H180.1V129.8H181.1V118.9H182.1V129.8H183.1V116.5H184.1V102.7H185.1V96.3H186.1V103.3H187.1V106.1H188.1V129.8H189.1V110.7H190.1V104.8H191.1V95.9H192.1V90.9H193.1V111.4H194.1V100.7H195.1V97H196.1V85.8H197.1V109.6H198.1V106.8H199.1V101.7H200.1V102.7H201.1V112.5H202.1V109.5H203.1V117H204.1V116.3H205.1V107.6H206.1V129.8H207.1V106.8H208.1V107.1H209.1V106.8H210.1V102.5H211.1V106.9H212.1V107.2H213.1V108.3H214.1V111.4H215.1V110.5H216.1V110.5H217.1V101.2H218.1V110.6H219.1V113.9H220.1V109.7H221.1V114.9H222.1V117.9H223.1V107.3H224.1V107.5H225.1V111.5H226.1V113.4H227.1V96.7H228.1V102.4H229.1V106.5H230.1V106.4H231.1V107.3H232.1V119.4H233.1V94.9H234.1V105.8H235.1V105.1H236.1V91.2H237.1V116.3H238.1V107.7H239.1V129.8H240.1V99.6H241.1V106.6H242.1V109.9H243.1V75.2H244.1V100.4H245.1V114.7H246.1V99.9H247.1V103.3H248.1V111.6H249.1V107.7H250.1V98.7H251.1V108.2H252.1V108.5H253.1V74.3H254.1V85.5H255.1V92H256.1V99.1H257.1V116.2H258.1V111.7H259.1V129.8H260.1V73.9H261.1V81.2H262.1V129.8H263.1V109.4H264.1V117.1H265.1V112H266.1V115.3H267.1V114H268.1V100.4H269.1V109.6H270.1V94.5H271.1V86.8H272.1V113.9H273.1V85.5H274.1V103H275.1V107H276.1V117.9H277.1V84.6H278.1V104.6H279.1V129.8H280.1V105.4H281.1V119.4H282.1V94.4H283.1V109.3H284.1V86.7H285.1V84.9H286.1V105.8H287.1V72.4H288.1V97H289.1V84.7H290.1V90.7H291.1V83.1H292.1V94.2H293.1V80.8H294.1V108.8H295.1V110.2H296.1V108.6H297.1V107.2H298.1V110H299.1V82.2H300.1V106.7H301.1V112H302.1V109.9H303.1V68.1H304.1V67.6H305.1V129.8H306.1V88H307.1V65.9H308.1V72.2H309.1V90.5H310.1V85.7H311.1V71.7H312.1V88.7H313.1V89.6H314.1V87.2H315.1V105.2H316.1V104.8H317.1V109.4H318.1V98H319.1V103.5H320.1V63.5H321.1V88.5H322.1V86.3H323.1V91H324.1V91.4H325.1V106.4H326.1V82.9H327.1V98.5H328.1V106.3H329.1V75.6H330.1V95H331.1V79.9H332.1V97.9H333.1V80H334.1V85.5H335.1V106.4H336.1V91.1H337.1V95.7H338.1V106.8H339.1V115H340.1V86.1H341.1V74H342.1V81.2H343.1V80.4H344.1V98.4H345.1V109.2H346.1V106.9H347.1V109.8H348.1V92.3H349.1V91.4H350.1V84.3H351.1V79.5H352.1V100.3H353.1V84.8H354.1V92.7H355.1V79.6H356.1V93.8H357.1V83.2H358.1V99.7H359.1V80.5H360.1V95.2H361.1V79.6H362.1V77.8H363.1V71.7H364.1V72.6H365.1V72.5H366.1V108.2H367.1V129.8H368.1V129.8H369.1V129.8H370.1V129.8H371.1V129.8H372.1V129.8H373.1V129.8H374.1V129.8H375.1V129.8H376.1V129.8H377.1V129.8H378.1V129.8H379.1V129.8H380.1V129.8H381.1V129.8H382.1V129.8H383.1V129.8H384.1V129.8H385.1V129.8H386.1V129.8H387.1V129.8H388.1V129.8H389.1V129.8H390.1V129.8H391.1V129.8H392.1V129.8H393.1V129.8H394.1V129.8H395.1V129.8H396.1V129.8H397.1V129.8H398.1V129.8H399.1V129.8H400.1V129.8H401.1V129.8H402.1V129.8H403.1V129.8H404.1V129.8H405.1V129.8H406.1V129.8H407.1V129.8H408.1V129.8H409.1V129.8H410.1V129.8H411.1V129.8H412.1V129.8H413.1V129.8H414.1V129.8H415.1V129.8H416.1V129.8H417.1V129.8H418.1V129.8H419.1V129.8H420.1V129.8H421.1V129.8H422.1V129.8H423.1V129.8H424.1V129.8H425.1V129.8H426.1V129.8H427.1V129.8H428.1V129.8H429.1V129.8H430.1V129.8H431.1V129.8H432.1V129.8H433.1V129.8H434.1V129.8H435.1V129.8H436.1V129.8H437.1V129.8H438.1V129.8H439.1V129.8H440.1V129.8H441.1V129.8H442.1V129.8H443.1V129.8H444.1V129.8H445.1V129.8H446.1V129.8H447.1V129.8H448.1V129.8H449.1V129.8H450.1V129.8H451.1V129.8H452.1V129.8H453.1V129.8H454.1V129.8H455.1V129.8H456.1V129.8H457.1V129.8H458.1V129.8H459.1V129.8H460.1V129.8H461.1V129.8H462.1V129.8H463.1V129.8H464.1V129.8H465.1V129.8H466.1V129.8H467.1V129.8H468.1V129.8H469.1V129.8H470.1V129.8H471.1V129.8H472.1V129.8H473.1V129.8H474.1V129.8H475.1V129.8H476.1V129.8H477.1V129.8H478.1V129.8H479.1V129.8H480.1V129.8H481.1V129.8H482.1V129.8H483.1V129.8H484.1V129.8H485.1V129.8H486.1V129.8H487.1V129.8H488.1V129.8H489.1V129.8H490.1V129.8H491.1V129.8H492.1V129.8H493.1V129.8H494.1V129.8H495.1V129.8H496.1V129.8H497.1V129.8H498.1V129.8H499.1V129.8H500.1V129.8H501.1V129.8H502.1V129.8H503.1V129.8H504.1V129.8H505.1V129.8H506.1V129.8H507.1V129.8H508.1V129.8H509.1V129.8H510.1V129.8H511.1V129.8H512.1V129.8H513.1V129.8H514.1V129.8H515.1V129.8H516.1V129.8H517.1V129.8H518.1V129.8H519.1V129.8H520.1V129.8H521.1V129.8H522.1V129.8H523.1V129.8H524.1V129.8H525.1V129.8H526.1V129.8H527.1V129.8H528.1V129.8H529.1V129.8H530.1V129.8H531.1V129.8H532.1V129.8H533.1V129.8H534.1V129.8H535.1V129.8H536.1V129.8H537.1V129.8H538.1V129.8H539.1V129.8H540.1V129.8H541.1V129.8H542.1V129.8H543.1V129.8H544.1V129.8H545.1V129.8H546.1V129.8H547.1V129.8H548.1V129.8H549.1V129.8H550.1V129.8H551.1V129.8H552.1V129.8H553.1V129.8H554.1V129.8H555.1V129.8H556.1V129.8H557.1V129.8H558.1V129.8H559.1V129.8H560.1V129.8H561.1V129.8H562.1V129.8H563.1V129.8H564.1V129.8H565.1V129.8H566.1V129.8H567.1V129.8H568.1V129.8H569.1V129.8H570.1V129.8H571.1V129.8H572.1V129.8H573.1V129.8H574.1V129.8H575.1V129.8H576.1V129.8H577.1V129.8H578.1V129.8H579.1V129.8H580.1V129.8H581.1V129.8H582.1V129.8H583.1V129.8H584.1V129.8H585.1V129.8H586.1V129.8H587.1V129.8H588.1V129.8H589.1V129.8H590.1V129.8H591.1V129.8H592.1V129.8H593.1V129.8H594.1V129.8H595.1V129.8H596.1V129.8H597.1V129.8H598.1V129.8H599.1V129.8H600.1V129.8H601.1V129.8H602.1V129.8H603.1V129.8H604.1V129.8H605.1V129.8H606.1V129.8H607.1V129.8H608.1V129.8H609.1V129.8H610.1V129.8H611.1V129.8H612.1V129.8H613.1V129.8H614.1V129.8Z" fill="#0090ff" fill-opacity="0.2"/>
<path d="M77.1 129.8V127H78.1V123.2H79.1V107.2H80.1V119H81.1V113.9H82.1V120.3H83.1V120.4H84.1V119.5H85.1V129.8H86.1V119.6H87.1V116H88.1V122.6H89.1V116.6H90.1V121.6H91.1V111.6H92.1V111.3H93.1V117H94.1V115.2H95.1V129.8H96.1V123.6H97.1V116.5H98.1V113.1H99.1V113.2H100.1V112.3H101.1V116.5H102.1V120.5H103.1V120.6H104.1V113.7H105.1V122.3H106.1V122.6H107.1V124.4H108.1V120H109.1V122.7H110.1V129.8H111.1V117.2H112.1V118.2H113.1V123.6H114.1V115.6H115.1V118.3H116.1V118.6H117.1V123.9H118.1V120.5H119.1V118.5H120.1V129.8H121.1V125.5H122.1V116H123.1V119.7H124.1V117.7H125.1V123.4H126.1V129.8H127.1V124.3H128.1V122.2H129.1V118.9H130.1V116.7H131.1V121.6H132.1V119.9H133.1V109.7H134.1V129.8H135.1V123.9H136.1V129.8H137.1V107.7H138.1V120.6H139.1V116.3H140.1V122.8H141.1V103.4H142.1V114.3H143.1V119.1H144.1V129.8H145.1V117.7H146.1V129.8H147.1V124.1H148.1V113.4H149.1V114.6H150.1V123H151.1V121.5H152.1V116H153.1V122.4H154.1V121.7H155.1V116H156.1V129.8H157.1V120.3H158.1V129.8H159.1V114H160.1V129.8H161.1V109.3H162.1V111.6H163.1V117.1H164.1V105.7H165.1V104.1H166.1V129.8H167.1V126.3H168.1V111H169.1V112.2H170.1V114.5H171.1V107.9H172.1V97.9H173.1V115.2H174.1V116.7H175.1V121.3H176.1V113.7H177.1V115.8H178.1V111.3H179.1V117.5H180.1V129.8H181.1V120.5H182.1V129.8H183.1V118.7H184.1V107.7H185.1V99.7H186.1V106.3H187.1V107.2H188.1V129.8H189.1V116.3H190.1V107H191.1V100.6H192.1V99.9H193.1V121.8H194.1V103.2H195.1V99.5H196.1V95.4H197.1V111.5H198.1V108.2H199.1V109.2H200.1V102.9H201.1V115.3H202.1V110.5H203.1V118.4H204.1V118.7H205.1V112.2H206.1V129.8H207.1V109.8H208.1V107.6H209.1V108.9H210.1V103.3H211.1V109.9H212.1V108.8H213.1V112.1H214.1V114.1H215.1V110.6H216.1V110.8H217.1V110.7H218.1V112.8H219.1V118.3H220.1V110.9H221.1V115.2H222.1V119.2H223.1V109.4H224.1V108.2H225.1V119.4H226.1V115H227.1V97.8H228.1V110.9H229.1V107.2H230.1V108H231.1V111.1H232.1V120.3H233.1V107.1H234.1V108.2H235.1V107.7H236.1V92.9H237.1V116.8H238.1V108.3H239.1V129.8H240.1V105H241.1V110.3H242.1V110.9H243.1V75.8H244.1V105.6H245.1V117.2H246.1V110.5H247.1V105H248.1V112.6H249.1V107.8H250.1V100.2H251.1V110.5H252.1V112.3H253.1V83.1H254.1V88.7H255.1V98.8H256.1V104H257.1V116.9H258.1V118.6H259.1V129.8H260.1V105.5H261.1V85H262.1V129.8H263.1V111.6H264.1V119.3H265.1V112.8H266.1V115.9H267.1V121.2H268.1V107.8H269.1V113.4H270.1V106.2H271.1V98H272.1V115.2H273.1V103.2H274.1V109.5H275.1V107.7H276.1V118.5H277.1V114H278.1V105.8H279.1V129.8H280.1V109.6H281.1V120.3H282.1V104.2H283.1V111.8H284.1V88.6H285.1V105.7H286.1V108.1H287.1V75.2H288.1V104H289.1V85.3H290.1V101.8H291.1V86.7H292.1V101.7H293.1V94.7H294.1V110.4H295.1V114.9H296.1V109.8H297.1V108.8H298.1V112.3H299.1V96.7H300.1V106.9H301.1V116H302.1V110H303.1V78.7H304.1V85.9H305.1V129.8H306.1V88.6H307.1V77.8H308.1V80.9H309.1V91.4H310.1V90.9H311.1V77.5H312.1V93.7H313.1V92.4H314.1V93.1H315.1V109H316.1V118.6H317.1V113.7H318.1V101.2H319.1V106.6H320.1V95.7H321.1V107.9H322.1V89.1H323.1V91.1H324.1V96.7H325.1V107.3H326.1V99.3H327.1V98.8H328.1V107.3H329.1V81.9H330.1V98.4H331.1V82.3H332.1V99.8H333.1V81H334.1V88.7H335.1V108.1H336.1V107H337.1V97.3H338.1V107.9H339.1V115.5H340.1V93.5H341.1V90.1H342.1V98.1H343.1V85.2H344.1V99.6H345.1V109.5H346.1V108.5H347.1V111.6H348.1V99.8H349.1V93.8H350.1V87.9H351.1V88.4H352.1V100.7H353.1V85.3H354.1V94.7H355.1V82.7H356.1V98.8H357.1V83.9H358.1V104.7H359.1V91.1H360.1V95.6H361.1V84.8H362.1V78.7H363.1V91.5H364.1V88.5H365.1V93H366.1V110.1H367.1V129.8H368.1V129.8H369.1V129.8H370.1V129.8H371.1V129.8H372.1V129.8H373.1V129.8H374.1V129.8H375.1V129.8H376.1V129.8H377.1V129.8H378.1V129.8H379.1V129.8H380.1V129.8H381.1V129.8H382.1V129.8H383.1V129.8H384.1V129.8H385.1V129.8H386.1V129.8H387.1V129.8H388.1V129.8H389.1V129.8H390.1V129.8H391.1V129.8H392.1V129.8H393.1V129.8H394.1V129.8H395.1V129.8H396.1V129.8H397.1V129.8H398.1V129.8H399.1V129.8H400.1V129.8H401.1V129.8H402.1V129.8H403.1V129.8H404.1V129.8H405.1V129.8H406.1V129.8H407.1V129.8H408.1V129.8H409.1V129.8H410.1V129.8H411.1V129.8H412.1V129.8H413.1V129.8H414.1V129.8H415.1V129.8H416.1V129.8H417.1V129.8H418.1V129.8H419.1V129.8H420.1V129.8H421.1V129.8H422.1V129.8H423.1V129.8H424.1V129.8H425.1V129.8H426.1V129.8H427.1V129.8H428.1V129.8H429.1V129.8H430.1V129.8H431.1V129.8H432.1V129.8H433.1V129.8H434.1V129.8H435.1V129.8H436.1V129.8H437.1V129.8H438.1V129.8H439.1V129.8H440.1V129.8H441.1V129.8H442.1V129.8H443.1V129.8H444.1V129.8H445.1V129.8H446.1V129.8H447.1V129.8H448.1V129.8H449.1V129.8H450.1V129.8H451.1V129.8H452.1V129.8H453.1V129.8H454.1V129.8H455.1V129.8H456.1V129.8H457.1V129.8H458.1V129.8H459.1V129.8H460.1V129.8H461.1V129.8H462.1V129.8H463.1V129.8H464.1V129.8H465.1V129.8H466.1V129.8H467.1V129.8H468.1V129.8H469.1V129.8H470.1V129.8H471.1V129.8H472.1V129.8H473.1V129.8H474.1V129.8H475.1V129.8H476.1V129.8H477.1V129.8H478.1V129.8H479.1V129.8H480.1V129.8H481.1V129.8H482.1V129.8H483.1V129.8H484.1V129.8H485.1V129.8H486.1V129.8H487.1V129.8H488.1V129.8H489.1V129.8H490.1V129.8H491.1V129.8H492.1V129.8H493.1V129.8H494.1V129.8H495.1V129.8H496.1V129.8H497.1V129.8H498.1V129.8H499.1V129.8H500.1V129.8H501.1V129.8H502.1V129.8H503.1V129.8H504.1V129.8H505.1V129.8H506.1V129.8H507.1V129.8H508.1V129.8H509.1V129.8H510.1V129.8H511.1V129.8H512.1V129.8H513.1V129.8H514.1V129.8H515.1V129.8H516.1V129.8H517.1V129.8H518.1V129.8H519.1V129.8H520.1V129.8H521.1V129.8H522.1V129.8H523.1V129.8H524.1V129.8H525.1V129.8H526.1V129.8H527.1V129.8H528.1V129.8H529.1V129.8H530.1V129.8H531.1V129.8H532.1V129.8H533.1V129.8H534.1V129.8H535.1V129.8H536.1V129.8H537.1V129.8H538.1V129.8H539.1V129.8H540.1V129.8H541.1V129.8H542.1V129.8H543.1V129.8H544.1V129.8H545.1V129.8H546.1V129.8H547.1V129.8H548.1V129.8H549.1V129.8H550.1V129.8H551.1V129.8H552.1V129.8H553.1V129.8H554.1V129.8H555.1V129.8H556.1V129.8H557.1V129.8H558.1V129.8H559.1V129.8H560.1V129.8H561.1V129.8H562.1V129.8H563.1V129.8H564.1V129.8H565.1V129.8H566.1V129.8H567.1V129.8H568.1V129.8H569.1V129.8H570.1V129.8H571.1V129.8H572.1V129.8H573.1V129.8H574.1V129.8H575.1V129.8H576.1V129.8H577.1V129.8H578.1V129.8H579.1V129.8H580.1V129.8H581.1V129.8H582.1V129.8H583.1V129.8H584.1V129.8H585.1V129.8H586.1V129.8H587.1V129.8H588.1V129.8H589.1V129.8H590.1V129.8H591.1V129.8H592.1V129.8H593.1V129.8H594.1V129.8H595.1V129.8H596.1V129.8H597.1V129.8H598.1V129.8H599.1V129.8H600.1V129.8H601.1V129.8H602.1V129.8H603.1V129.8H604.1V129.8H605.1V129.8H606.1V129.8H607.1V129.8H608.1V129.8H609.1V129.8H610.1V129.8H611.1V129.8H612.1V129.8H613.1V129.8H614.1V129.8Z" fill="#0090ff" fill-opacity="0.2"/>
<path d="M77.1 129.8V127.4H78.1V124.1H79.1V115.5H80.1V119.1H81.1V115H82.1V121.7H83.1V121.7H84.1V120.2H85.1V129.8H86.1V121.6H87.1V118H88.1V122.6H89.1V118.1H90.1V121.9H91.1V115.9H92.1V116H93.1V117.2H94.1V118.4H95.1V129.8H96.1V124.7H97.1V117.2H98.1V114.4H99.1V114.5H100.1V113.5H101.1V119H102.1V122.1H103.1V125.2H104.1V115.5H105.1V125.1H106.1V122.8H107.1V124.7H108.1V120.1H109.1V129.8H110.1V129.8H111.1V117.5H112.1V120.6H113.1V124H114.1V117.3H115.1V118.9H116.1V119.1H117.1V129.8H118.1V123.3H119.1V122.3H120.1V129.8H121.1V126H122.1V118.3H123.1V129.8H124.1V122.2H125.1V124H126.1V129.8H127.1V129.8H128.1V122.6H129.1V122.2H130.1V118.7H131.1V122.6H132.1V120.5H133.1V119.3H134.1V129.8H135.1V124.1H136.1V129.8H137.1V109H138.1V120.7H139.1V117.1H140.1V125.3H141.1V110H142.1V116.3H143.1V123.5H144.1V129.8H145.1V122.5H146.1V129.8H147.1V129.8H148.1V114H149.1V117.5H150.1V129.8H151.1V123H152.1V122H153.1V125.9H154.1V122.1H155.1V119.4H156.1V129.8H157.1V120.7H158.1V129.8H159.1V115.7H160.1V129.8H161.1V117.6H162.1V112.6H163.1V118.5H164.1V110.3H165.1V107H166.1V129.8H167.1V129.8H168.1V112.2H169.1V116.9H170.1V115.7H171.1V108.8H172.1V103.2H173.1V116.3H174.1V116.8H175.1V129.8H176.1V115.4H177.1V116.5H178.1V115.5H179.1V118.3H180.1V129.8H181.1V129.8H182.1V129.8H183.1V129.8H184.1V108.6H185.1V101.4H186.1V110.2H187.1V110.8H188.1V129.8H189.1V117.2H190.1V113.7H191.1V102.4H192.1V107.2H193.1V122.8H194.1V104.1H195.1V102.5H196.1V97.4H197.1V119.4H198.1V114.8H199.1V111.7H200.1V104H201.1V117.7H202.1V118.5H203.1V129.8H204.1V121.6H205.1V117.7H206.1V129.8H207.1V111.4H208.1V107.7H209.1V111H210.1V104.5H211.1V110.7H212.1V115.6H213.1V112.5H214.1V114.6H215.1V111H216.1V111.3H217.1V112.9H218.1V114.7H219.1V118.9H220.1V111.6H221.1V115.4H222.1V119.3H223.1V113.3H224.1V109.2H225.1V120.8H226.1V115.6H227.1V108.6H228.1V113H229.1V111H230.1V108.7H231.1V111.5H232.1V120.5H233.1V114.8H234.1V109.6H235.1V111.8H236.1V106.5H237.1V119.2H238.1V109.2H239.1V129.8H240.1V105.5H241.1V110.6H242.1V118.2H243.1V86H244.1V106.7H245.1V117.7H246.1V113.6H247.1V107.8H248.1V113.6H249.1V108.1H250.1V105.8H251.1V111H252.1V112.5H253.1V86.7H254.1V92.8H255.1V99.7H256.1V107.6H257.1V117.1H258.1V123.6H259.1V129.8H260.1V111.3H261.1V95H262.1V129.8H263.1V112.5H264.1V120H265.1V116.1H266.1V117.7H267.1V121.3H268.1V115.5H269.1V113.6H270.1V106.5H271.1V108.3H272.1V115.4H273.1V104.7H274.1V110.6H275.1V110.6H276.1V118.9H277.1V114.2H278.1V114.3H279.1V129.8H280.1V117.1H281.1V121.9H282.1V106.1H283.1V117.4H284.1V97.2H285.1V108.9H286.1V108.4H287.1V82.5H288.1V111.8H289.1V93.5H290.1V104.2H291.1V89.4H292.1V102.3H293.1V99.9H294.1V111.1H295.1V115.3H296.1V116.9H297.1V111.9H298.1V113.1H299.1V116.3H300.1V112.9H301.1V116.2H302.1V111.2H303.1V106.5H304.1V87.2H305.1V129.8H306.1V104.6H307.1V86H308.1V80.9H309.1V95.6H310.1V93H311.1V93.7H312.1V100.2H313.1V93.6H314.1V99.2H315.1V109.3H316.1V122.7H317.1V114H318.1V104.1H319.1V111.2H320.1V106.7H321.1V110.9H322.1V98.4H323.1V106.5H324.1V99H325.1V110.4H326.1V99.4H327.1V104.3H328.1V108.4H329.1V86.6H330.1V101.4H331.1V84.1H332.1V101H333.1V84.1H334.1V91.5H335.1V110H336.1V107.8H337.1V98.8H338.1V108.6H339.1V115.6H340.1V96.6H341.1V108.1H342.1V100.5H343.1V89.1H344.1V103.1H345.1V112H346.1V110.7H347.1V114.5H348.1V105.9H349.1V94.3H350.1V94.2H351.1V96.8H352.1V104.5H353.1V89.2H354.1V97.6H355.1V83H356.1V108.4H357.1V96.6H358.1V109.3H359.1V91.3H360.1V97.5H361.1V86.5H362.1V79.8H363.1V97.2H364.1V92.6H365.1V98.8H366.1V114.8H367.1V129.8H368.1V129.8H369.1V129.8H370.1V129.8H371.1V129.8H372.1V129.8H373.1V129.8H374.1V129.8H375.1V129.8H376.1V129.8H377.1V129.8H378.1V129.8H379.1V129.8H380.1V129.8H381.1V129.8H382.1V129.8H383.1V129.8H384.1V129.8H385.1V129.8H386.1V129.8H387.1V129.8H388.1V129.8H389.1V129.8H390.1V129.8H391.1V129.8H392.1V129.8H393.1V129.8H394.1V129.8H395.1V129.8H396.1V129.8H397.1V129.8H398.1V129.8H399.1V129.8H400.1V129.8H401.1V129.8H402.1V129.8H403.1V129.8H404.1V129.8H405.1V129.8H406.1V129.8H407.1V129.8H408.1V129.8H409.1V129.8H410.1V129.8H411.1V129.8H412.1V129.8H413.1V129.8H414.1V129.8H415.1V129.8H416.1V129.8H417.1V129.8H418.1V129.8H419.1V129.8H420.1V129.8H421.1V129.8H422.1V129.8H423.1V129.8H424.1V129.8H425.1V129.8H426.1V129.8H427.1V129.8H428.1V129.8H429.1V129.8H430.1V129.8H431.1V129.8H432.1V129.8H433.1V129.8H434.1V129.8H435.1V129.8H436.1V129.8H437.1V129.8H438.1V129.8H439.1V129.8H440.1V129.8H441.1V129.8H442.1V129.8H443.1V129.8H444.1V129.8H445.1V129.8H446.1V129.8H447.1V129.8H448.1V129.8H449.1V129.8H450.1V129.8H451.1V129.8H452.1V129.8H453.1V129.8H454.1V129.8H455.1V129.8H456.1V129.8H457.1V129.8H458.1V129.8H459.1V129.8H460.1V129.8H461.1V129.8H462.1V129.8H463.1V129.8H464.1V129.8H465.1V129.8H466.1V129.8H467.1V129.8H468.1V129.8H469.1V129.8H470.1V129.8H471.1V129.8H472.1V129.8H473.1V129.8H474.1V129.8H475.1V129.8H476.1V129.8H477.1V129.8H478.1V129.8H479.1V129.8H480.1V129.8H481.1V129.8H482.1V129.8H483.1V129.8H484.1V129.8H485.1V129.8H486.1V129.8H487.1V129.8H488.1V129.8H489.1V129.8H490.1V129.8H491.1V129.8H492.1V129.8H493.1V129.8H494.1V129.8H495.1V129.8H496.1V129.8H497.1V129.8H498.1V129.8H499.1V129.8H500.1V129.8H501.1V129.8H502.1V129.8H503.1V129.8H504.1V129.8H505.1V129.8H506.1V129.8H507.1V129.8H508.1V129.8H509.1V129.8H510.1V129.8H511.1V129.8H512.1V129.8H513.1V129.8H514.1V129.8H515.1V129.8H516.1V129.8H517.1V129.8H518.1V129.8H519.1V129.8H520.1V129.8H521.1V129.8H522.1V129.8H523.1V129.8H524.1V129.8H525.1V129.8H526.1V129.8H527.1V129.8H528.1V129.8H529.1V129.8H530.1V129.8H531.1V129.8H532.1V129.8H533.1V129.8H534.1V129.8H535.1V129.8H536.1V129.8H537.1V129.8H538.1V129.8H539.1V129.8H540.1V129.8H541.1V129.8H542.1V129.8H543.1V129.8H544.1V129.8H545.1V129.8H546.1V129.8H547.1V129.8H548.1V129.8H549.1V129.8H550.1V129.8H551.1V129.8H552.1V129.8H553.1V129.8H554.1V129.8H555.1V129.8H556.1V129.8H557.1V129.8H558.1V129.8H559.1V129.8H560.1V129.8H561.1V129.8H562.1V129.8H563.1V129.8H564.1V129.8H565.1V129.8H566.1V129.8H567.1V129.8H568.1V129.8H569.1V129.8H570.1V129.8H571.1V129.8H572.1V129.8H573.1V129.8H574.1V129.8H575.1V129.8H576.1V129.8H577.1V129.8H578.1V129.8H579.1V129.8H580.1V129.8H581.1V129.8H582.1V129.8H583.1V129.8H584.1V129.8H585.1V129.8H586.1V129.8H587.1V129.8H588.1V129.8H589.1V129.8H590.1V129.8H591.1V129.8H592.1V129.8H593.1V129.8H594.1V129.8H595.1V129.8H596.1V129.8H597.1V129.8H598.1V129.8H599.1V129.8H600.1V129.8H601.1V129.8H602.1V129.8H603.1V129.8H604.1V129.8H605.1V129.8H606.1V129.8H607.1V129.8H608.1V129.8H609.1V129.8H610.1V129.8H611.1V129.8H612.1V129.8H613.1V129.8H614.1V129.8Z" fill="#0090ff" fill-opacity="0.2"/>
<path d="M77.1 129.8V127.7H78.1V125.1H79.1V117.7H80.1V119.6H81.1V119.1H82.1V121.9H83.1V123.7H84.1V120.6H85.1V129.8H86.1V123.2H87.1V118.9H88.1V129.8H89.1V118.5H90.1V122.2H91.1V119.1H92.1V116.2H93.1V120.5H94.1V119.7H95.1V129.8H96.1V129.8H97.1V122.7H98.1V116.6H99.1V120.8H100.1V121.6H101.1V121.3H102.1V123.6H103.1V129.8H104.1V117.4H105.1V127H106.1V122.9H107.1V129.8H108.1V124.4H109.1V129.8H110.1V129.8H111.1V118.5H112.1V121H113.1V124.9H114.1V119H115.1V124.3H116.1V121.9H117.1V129.8H118.1V129.8H119.1V123.3H120.1V129.8H121.1V129.8H122.1V119.1H123.1V129.8H124.1V123.4H125.1V124.4H126.1V129.8H127.1V129.8H128.1V122.6H129.1V129.8H130.1V119.7H131.1V122.8H132.1V125.9H133.1V119.4H134.1V129.8H135.1V129.8H136.1V129.8H137.1V111.4H138.1V129.8H139.1V118H140.1V126.2H141.1V110.4H142.1V116.5H143.1V129.8H144.1V129.8H145.1V124.2H146.1V129.8H147.1V129.8H148.1V115.1H149.1V120.5H150.1V129.8H151.1V129.8H152.1V122.7H153.1V126.6H154.1V126.8H155.1V119.7H156.1V129.8H157.1V122.4H158.1V129.8H159.1V119.6H160.1V129.8H161.1V118.2H162.1V117.2H163.1V120.4H164.1V114.3H165.1V110.9H166.1V129.8H167.1V129.8H168.1V114.8H169.1V118.4H170.1V116.3H171.1V113.5H172.1V108.6H173.1V122.5H174.1V121.6H175.1V129.8H176.1V117.5H177.1V120H178.1V117.1H179.1V120H180.1V129.8H181.1V129.8H182.1V129.8H183.1V129.8H184.1V109.2H185.1V105.2H186.1V114.1H187.1V114H188.1V129.8H189.1V119.5H190.1V115.4H191.1V111.7H192.1V111H193.1V125.1H194.1V106.7H195.1V104.6H196.1V102.7H197.1V120.9H198.1V115.3H199.1V116H200.1V105.7H201.1V121.9H202.1V119.7H203.1V129.8H204.1V129.8H205.1V120H206.1V129.8H207.1V112.3H208.1V108.9H209.1V119.6H210.1V107.3H211.1V115.8H212.1V119.2H213.1V113.7H214.1V115.3H215.1V111.1H216.1V114.7H217.1V118.1H218.1V118.4H219.1V119.1H220.1V115.1H221.1V119.8H222.1V123.8H223.1V114.2H224.1V111.5H225.1V121.3H226.1V116H227.1V112.6H228.1V113.1H229.1V112.3H230.1V109.5H231.1V117.3H232.1V121.5H233.1V114.8H234.1V116.2H235.1V112.9H236.1V108.1H237.1V120.2H238.1V109.3H239.1V129.8H240.1V114.1H241.1V111.7H242.1V120.4H243.1V94.9H244.1V107.7H245.1V118.1H246.1V114.3H247.1V108.7H248.1V114.5H249.1V108.4H250.1V106.3H251.1V117.9H252.1V119.4H253.1V86.9H254.1V99H255.1V104H256.1V108.9H257.1V118.6H258.1V125.3H259.1V129.8H260.1V114.8H261.1V95.1H262.1V129.8H263.1V112.7H264.1V121.6H265.1V116.1H266.1V118H267.1V122H268.1V116.9H269.1V114.1H270.1V106.7H271.1V114.2H272.1V116.9H273.1V111.8H274.1V111.1H275.1V113.5H276.1V121.4H277.1V117.5H278.1V114.5H279.1V129.8H280.1V117.5H281.1V124.9H282.1V106.7H283.1V120H284.1V106.2H285.1V113.5H286.1V109H287.1V93.5H288.1V111.9H289.1V105.3H290.1V108.7H291.1V108.8H292.1V102.6H293.1V103.3H294.1V113H295.1V116.5H296.1V117.6H297.1V115.3H298.1V115.5H299.1V118.2H300.1V113.2H301.1V120.7H302.1V112.2H303.1V109H304.1V100.8H305.1V129.8H306.1V107.8H307.1V99H308.1V109.4H309.1V98.2H310.1V99.9H311.1V95.3H312.1V108.7H313.1V104.9H314.1V99.4H315.1V117.8H316.1V122.8H317.1V114.8H318.1V109.2H319.1V111.8H320.1V108.9H321.1V112.9H322.1V103.7H323.1V107.1H324.1V100.9H325.1V118.3H326.1V106.3H327.1V113.7H328.1V111.8H329.1V86.6H330.1V102.9H331.1V85.3H332.1V104H333.1V92.8H334.1V92.9H335.1V110.3H336.1V109.2H337.1V105H338.1V115.2H339.1V120.4H340.1V108H341.1V111.6H342.1V102.9H343.1V91.3H344.1V113.2H345.1V112.4H346.1V111.8H347.1V115.7H348.1V109.6H349.1V97.9H350.1V96.5H351.1V98.3H352.1V109.5H353.1V113.3H354.1V109.8H355.1V91.1H356.1V109.5H357.1V106.5H358.1V112H359.1V97.5H360.1V100.1H361.1V90.3H362.1V80.4H363.1V97.8H364.1V94.7H365.1V110.9H366.1V116.4H367.1V129.8H368.1V129.8H369.1V129.8H370.1V129.8H371.1V129.8H372.1V129.8H373.1V129.8H374.1V129.8H375.1V129.8H376.1V129.8H377.1V129.8H378.1V129.8H379.1V129.8H380.1V129.8H381.1V129.8H382.1V129.8H383.1V129.8H384.1V129.8H385.1V129.8H386.1V129.8H387.1V129.8H388.1V129.8H389.1V129.8H390.1V129.8H391.1V129.8H392.1V129.8H393.1V129.8H394.1V129.8H395.1V129.8H396.1V129.8H397.1V129.8H398.1V129.8H399.1V129.8H400.1V129.8H401.1V129.8H402.1V129.8H403.1V129.8H404.1V129.8H405.1V129.8H406.1V129.8H407.1V129.8H408.1V129.8H409.1V129.8H410.1V129.8H411.1V129.8H412.1V129.8H413.1V129.8H414.1V129.8H415.1V129.8H416.1V129.8H417.1V129.8H418.1V129.8H419.1V129.8H420.1V129.8H421.1V129.8H422.1V129.8H423.1V129.8H424.1V129.8H425.1V129.8H426.1V129.8H427.1V129.8H428.1V129.8H429.1V129.8H430.1V129.8H431.1V129.8H432.1V129.8H433.1V129.8H434.1V129.8H435.1V129.8H436.1V129.8H437.1V129.8H438.1V129.8H439.1V129.8H440.1V129.8H441.1V129.8H442.1V129.8H443.1V129.8H444.1V129.8H445.1V129.8H446.1V129.8H447.1V129.8H448.1V129.8H449.1V129.8H450.1V129.8H451.1V129.8H452.1V129.8H453.1V129.8H454.1V129.8H455.1V129.8H456.1V129.8H457.1V129.8H458.1V129.8H459.1V129.8H460.1V129.8H461.1V129.8H462.1V129.8H463.1V129.8H464.1V129.8H465.1V129.8H466.1V129.8H467.1V129.8H468.1V129.8H469.1V129.8H470.1V129.8H471.1V129.8H472.1V129.8H473.1V129.8H474.1V129.8H475.1V129.8H476.1V129.8H477.1V129.8H478.1V129.8H479.1V129.8H480.1V129.8H481.1V129.8H482.1V129.8H483.1V129.8H484.1V129.8H485.1V129.8H486.1V129.8H487.1V129.8H488.1V129.8H489.1V129.8H490.1V129.8H491.1V129.8H492.1V129.8H493.1V129.8H494.1V129.8H495.1V129.8H496.1V129.8H497.1V129.8H498.1V129.8H499.1V129.8H500.1V129.8H501.1V129.8H502.1V129.8H503.1V129.8H504.1V129.8H505.1V129.8H506.1V129.8H507.1V129.8H508.1V129.8H509.1V129.8H510.1V129.8H511.1V129.8H512.1V129.8H513.1V129.8H514.1V129.8H515.1V129.8H516.1V129.8H517.1V129.8H518.1V129.8H519.1V129.8H520.1V129.8H521.1V129.8H522.1V129.8H523.1V129.8H524.1V129.8H525.1V129.8H526.1V129.8H527.1V129.8H528.1V129.8H529.1V129.8H530.1V129.8H531.1V129.8H532.1V129.8H533.1V129.8H534.1V129.8H535.1V129.8H536.1V129.8H537.1V129.8H538.1V129.8H539.1V129.8H540.1V129.8H541.1V129.8H542.1V129.8H543.1V129.8H544.1V129.8H545.1V129.8H546.1V129.8H547.1V129.8H548.1V129.8H549.1V129.8H550.1V129.8H551.1V129.8H552.1V129.8H553.1V129.8H554.1V129.8H555.1V129.8H556.1V129.8H557.1V129.8H558.1V129.8H559.1V129.8H560.1V129.8H561.1V129.8H562.1V129.8H563.1V129.8H564.1V129.8H565.1V129.8H566.1V129.8H567.1V129.8H568.1V129.8H569.1V129.8H570.1V129.8H571.1V129.8H572.1V129.8H573.1V129.8H574.1V129.8H575.1V129.8H576.1V129.8H577.1V129.8H578.1V129.8H579.1V129.8H580.1V129.8H581.1V129.8H582.1V129.8H583.1V129.8H584.1V129.8H585.1V129.8H586.1V129.8H587.1V129.8H588.1V129.8H589.1V129.8H590.1V129.8H591.1V129.8H592.1V129.8H593.1V129.8H594.1V129.8H595.1V129.8H596.1V129.8H597.1V129.8H598.1V129.8H599.1V129.8H600.1V129.8H601.1V129.8H602.1V129.8H603.1V129.8H604.1V129.8H605.1V129.8H606.1V129.8H607.1V129.8H608.1V129.8H609.1V129.8H610.1V129.8H611.1V129.8H612.1V129.8H613.1V129.8H614.1V129.8Z" fill="#0090ff" fill-opacity="0.2"/>
<path d="M77.1 129.8V128H78.1V126.1H79.1V118.1H80.1V123.7H81.1V120.3H82.1V123.5H83.1V124H84.1V123.5H85.1V129.8H86.1V126.2H87.1V123.8H88.1V129.8H89.1V123H90.1V123.1H91.1V120.2H92.1V117H93.1V121.8H94.1V123.1H95.1V129.8H96.1V129.8H97.1V124H98.1V117.4H99.1V125H100.1V122.6H101.1V125.7H102.1V124.3H103.1V129.8H104.1V118.5H105.1V129.8H106.1V129.8H107.1V129.8H108.1V129.8H109.1V129.8H110.1V129.8H111.1V121.3H112.1V121.3H113.1V125.4H114.1V124.2H115.1V126.2H116.1V123.8H117.1V129.8H118.1V129.8H119.1V129.8H120.1V129.8H121.1V129.8H122.1V129.8H123.1V129.8H124.1V124.2H125.1V129.8H126.1V129.8H127.1V129.8H128.1V123.3H129.1V129.8H130.1V129.8H131.1V129.8H132.1V129.8H133.1V119.8H134.1V129.8H135.1V129.8H136.1V129.8H137.1V112.7H138.1V129.8H139.1V120.2H140.1V129.8H141.1V115.3H142.1V129.8H143.1V129.8H144.1V129.8H145.1V129.8H146.1V129.8H147.1V129.8H148.1V120.2H149.1V126.8H150.1V129.8H151.1V129.8H152.1V123.9H153.1V129.8H154.1V129.8H155.1V123.3H156.1V129.8H157.1V123.7H158.1V129.8H159.1V119.7H160.1V129.8H161.1V121.1H162.1V119.7H163.1V122.1H164.1V121.8H165.1V111.1H166.1V129.8H167.1V129.8H168.1V115.8H169.1V118.7H170.1V118.6H171.1V114.4H172.1V109.3H173.1V123.7H174.1V129.8H175.1V129.8H176.1V118.2H177.1V121.3H178.1V125.5H179.1V120.7H180.1V129.8H181.1V129.8H182.1V129.8H183.1V129.8H184.1V109.2H185.1V106.7H186.1V114.2H187.1V116H188.1V129.8H189.1V122.4H190.1V116.3H191.1V112.4H192.1V112H193.1V125.5H194.1V106.9H195.1V110.9H196.1V103.7H197.1V124.5H198.1V115.4H199.1V120.2H200.1V108.9H201.1V129.8H202.1V121.2H203.1V129.8H204.1V129.8H205.1V120.3H206.1V129.8H207.1V117.3H208.1V122.6H209.1V121.5H210.1V109.1H211.1V120.2H212.1V122.2H213.1V113.7H214.1V119.6H215.1V118.1H216.1V115.2H217.1V119.9H218.1V122.6H219.1V120.1H220.1V116.5H221.1V123H222.1V129.8H223.1V115.5H224.1V112.9H225.1V123.5H226.1V121.5H227.1V118.4H228.1V116.2H229.1V113.9H230.1V109.9H231.1V120H232.1V129.8H233.1V123H234.1V118.8H235.1V119.5H236.1V112.9H237.1V120.5H238.1V112.9H239.1V129.8H240.1V115.8H241.1V113.6H242.1V122H243.1V95H244.1V111.8H245.1V122.3H246.1V120.9H247.1V109.1H248.1V118.1H249.1V121.5H250.1V108H251.1V118.4H252.1V125.2H253.1V89.5H254.1V114.6H255.1V105.3H256.1V110.1H257.1V120.1H258.1V125.8H259.1V129.8H260.1V116.2H261.1V95.7H262.1V129.8H263.1V115.8H264.1V129.8H265.1V117.6H266.1V122.1H267.1V122.1H268.1V120.4H269.1V115.2H270.1V111.7H271.1V118H272.1V122H273.1V112.5H274.1V111.5H275.1V114.3H276.1V121.4H277.1V117.6H278.1V122.2H279.1V129.8H280.1V118.1H281.1V125.7H282.1V111.5H283.1V120.2H284.1V106.7H285.1V114.6H286.1V109.9H287.1V106.5H288.1V117.1H289.1V105.9H290.1V112H291.1V112H292.1V105.6H293.1V103.9H294.1V113.3H295.1V118.5H296.1V119.1H297.1V116.8H298.1V117.1H299.1V119.9H300.1V121.1H301.1V120.9H302.1V121.2H303.1V110.7H304.1V108.8H305.1V129.8H306.1V111.7H307.1V103.7H308.1V109.4H309.1V98.2H310.1V102.6H311.1V95.6H312.1V112.4H313.1V109.5H314.1V115.4H315.1V118.5H316.1V129.8H317.1V122.7H318.1V111H319.1V115.6H320.1V110.3H321.1V113.5H322.1V113.9H323.1V108.4H324.1V105.5H325.1V118.4H326.1V113.1H327.1V116.2H328.1V111.9H329.1V95.9H330.1V114.5H331.1V88.5H332.1V108.6H333.1V95H334.1V108.3H335.1V112.8H336.1V113.4H337.1V107.9H338.1V117.1H339.1V121.9H340.1V114.2H341.1V115.1H342.1V113.4H343.1V94.9H344.1V117H345.1V120.8H346.1V114.3H347.1V117.2H348.1V111.7H349.1V106.7H350.1V110.5H351.1V105.7H352.1V115.7H353.1V115.8H354.1V111.3H355.1V97.8H356.1V110.4H357.1V114.4H358.1V118.2H359.1V99.9H360.1V107.3H361.1V100.4H362.1V81H363.1V102.6H364.1V100.6H365.1V115.6H366.1V117.1H367.1V129.8H368.1V129.8H369.1V129.8H370.1V129.8H371.1V129.8H372.1V129.8H373.1V129.8H374.1V129.8H375.1V129.8H376.1V129.8H377.1V129.8H378.1V129.8H379.1V129.8H380.1V129.8H381.1V129.8H382.1V129.8H383.1V129.8H384.1V129.8H385.1V129.8H386.1V129.8H387.1V129.8H388.1V129.8H389.1V129.8H390.1V129.8H391.1V129.8H392.1V129.8H393.1V129.8H394.1V129.8H395.1V129.8H396.1V129.8H397.1V129.8H398.1V129.8H399.1V129.8H400.1V129.8H401.1V129.8H402.1V129.8H403.1V129.8H404.1V129.8H405.1V129.8H406.1V129.8H407.1V129.8H408.1V129.8H409.1V129.8H410.1V129.8H411.1V129.8H412.1V129.8H413.1V129.8H414.1V129.8H415.1V129.8H416.1V129.8H417.1V129.8H418.1V129.8H419.1V129.8H420.1V129.8H421.1V129.8H422.1V129.8H423.1V129.8H424.1V129.8H425.1V129.8H426.1V129.8H427.1V129.8H428.1V129.8H429.1V129.8H430.1V129.8H431.1V129.8H432.1V129.8H433.1V129.8H434.1V129.8H435.1V129.8H436.1V129.8H437.1V129.8H438.1V129.8H439.1V129.8H440.1V129.8H441.1V129.8H442.1V129.8H443.1V129.8H444.1V129.8H445.1V129.8H446.1V129.8H447.1V129.8H448.1V129.8H449.1V129.8H450.1V129.8H451.1V129.8H452.1V129.8H453.1V129.8H454.1V129.8H455.1V129.8H456.1V129.8H457.1V129.8H458.1V129.8H459.1V129.8H460.1V129.8H461.1V129.8H462.1V129.8H463.1V129.8H464.1V129.8H465.1V129.8H466.1V129.8H467.1V129.8H468.1V129.8H469.1V129.8H470.1V129.8H471.1V129.8H472.1V129.8H473.1V129.8H474.1V129.8H475.1V129.8H476.1V129.8H477.1V129.8H478.1V129.8H479.1V129.8H480.1V129.8H481.1V129.8H482.1V129.8H483.1V129.8H484.1V129.8H485.1V129.8H486.1V129.8H487.1V129.8H488.1V129.8H489.1V129.8H490.1V129.8H491.1V129.8H492.1V129.8H493.1V129.8H494.1V129.8H495.1V129.8H496.1V129.8H497.1V129.8H498.1V129.8H499.1V129.8H500.1V129.8H501.1V129.8H502.1V129.8H503.1V129.8H504.1V129.8H505.1V129.8H506.1V129.8H507.1V129.8H508.1V129.8H509.1V129.8H510.1V129.8H511.1V129.8H512.1V129.8H513.1V129.8H514.1V129.8H515.1V129.8H516.1V129.8H517.1V129.8H518.1V129.8H519.1V129.8H520.1V129.8H521.1V129.8H522.1V129.8H523.1V129.8H524.1V129.8H525.1V129.8H526.1V129.8H527.1V129.8H528.1V129.8H529.1V129.8H530.1V129.8H531.1V129.8H532.1V129.8H533.1V129.8H534.1V129.8H535.1V129.8H536.1V129.8H537.1V129.8H538.1V129.8H539.1V129.8H540.1V129.8H541.1V129.8H542.1V129.8H543.1V129.8H544.1V129.8H545.1V129.8H546.1V129.8H547.1V129.8H548.1V129.8H549.1V129.8H550.1V129.8H551.1V129.8H552.1V129.8H553.1V129.8H554.1V129.8H555.1V129.8H556.1V129.8H557.1V129.8H558.1V129.8H559.1V129.8H560.1V129.8H561.1V129.8H562.1V129.8H563.1V129.8H564.1V129.8H565.1V129.8H566.1V129.8H567.1V129.8H568.1V129.8H569.1V129.8H570.1V129.8H571.1V129.8H572.1V129.8H573.1V129.8H574.1V129.8H575.1V129.8H576.1V129.8H577.1V129.8H578.1V129.8H579.1V129.8H580.1V129.8H581.1V129.8H582.1V129.8H583.1V129.8H584.1V129.8H585.1V129.8H586.1V129.8H587.1V129.8H588.1V129.8H589.1V129.8H590.1V129.8H591.1V129.8H592.1V129.8H593.1V129.8H594.1V129.8H595.1V129.8H596.1V129.8H597.1V129.8H598.1V129.8H599.1V129.8H600.1V129.8H601.1V129.8H602.1V129.8H603.1V129.8H604.1V129.8H605.1V129.8H606.1V129.8H607.1V129.8H608.1V129.8H609.1V129.8H610.1V129.8H611.1V129.8H612.1V129.8H613.1V129.8H614.1V129.8Z" fill="#0090ff" fill-opacity="0.2"/>
<path d="M77.1 129.8V129.8H78.1V129.8H79.1V121.4H80.1V124.1H81.1V126.8H82.1V126H83.1V127.1H84.1V129.8H85.1V129.8H86.1V129.8H87.1V129.8H88.1V129.8H89.1V123.7H90.1V126.3H91.1V120.8H92.1V120.1H93.1V122.4H94.1V123.9H95.1V129.8H96.1V129.8H97.1V129.8H98.1V117.8H99.1V125.3H100.1V122.7H101.1V125.7H102.1V124.3H103.1V129.8H104.1V123.9H105.1V129.8H106.1V129.8H107.1V129.8H108.1V129.8H109.1V129.8H110.1V129.8H111.1V122.5H112.1V121.4H113.1V129.8H114.1V126.3H115.1V129.8H116.1V129.8H117.1V129.8H118.1V129.8H119.1V129.8H120.1V129.8H121.1V129.8H122.1V129.8H123.1V129.8H124.1V129.8H125.1V129.8H126.1V129.8H127.1V129.8H128.1V129.8H129.1V129.8H130.1V129.8H131.1V129.8H132.1V129.8H133.1V121.9H134.1V129.8H135.1V129.8H136.1V129.8H137.1V117.2H138.1V129.8H139.1V124.2H140.1V129.8H141.1V116.1H142.1V129.8H143.1V129.8H144.1V129.8H145.1V129.8H146.1V129.8H147.1V129.8H148.1V123.4H149.1V129.8H150.1V129.8H151.1V129.8H152.1V129.8H153.1V129.8H154.1V129.8H155.1V125.1H156.1V129.8H157.1V129.8H158.1V129.8H159.1V122.7H160.1V129.8H161.1V124.9H162.1V121H163.1V122.1H164.1V122.4H165.1V116.9H166.1V129.8H167.1V129.8H168.1V117.6H169.1V120.4H170.1V121.9H171.1V122.7H172.1V114.6H173.1V125.3H174.1V129.8H175.1V129.8H176.1V120.3H177.1V123H178.1V129.8H179.1V122.5H180.1V129.8H181.1V129.8H182.1V129.8H183.1V129.8H184.1V116.1H185.1V118.5H186.1V114.3H187.1V118H188.1V129.8H189.1V129.8H190.1V125.8H191.1V115.6H192.1V116.7H193.1V126H194.1V107.9H195.1V116H196.1V110.5H197.1V125.7H198.1V119.9H199.1V120.8H200.1V116.6H201.1V129.8H202.1V129.8H203.1V129.8H204.1V129.8H205.1V121.2H206.1V129.8H207.1V122.5H208.1V124.4H209.1V121.9H210.1V110.8H211.1V121.3H212.1V129.8H213.1V116.4H214.1V124.1H215.1V120.6H216.1V115.5H217.1V121.8H218.1V123.7H219.1V120.7H220.1V116.7H221.1V129.8H222.1V129.8H223.1V119.4H224.1V115.8H225.1V124.9H226.1V123H227.1V121.9H228.1V119.9H229.1V120.5H230.1V111.8H231.1V122H232.1V129.8H233.1V123.9H234.1V119.5H235.1V123.7H236.1V117.7H237.1V129.8H238.1V113.6H239.1V129.8H240.1V119.5H241.1V121.7H242.1V124.4H243.1V111.8H244.1V118.9H245.1V122.6H246.1V124.4H247.1V117.8H248.1V119.1H249.1V123.6H250.1V109.6H251.1V120.2H252.1V126.4H253.1V92.1H254.1V118.7H255.1V113.4H256.1V110.7H257.1V122H258.1V126.4H259.1V129.8H260.1V117.3H261.1V105.5H262.1V129.8H263.1V115.9H264.1V129.8H265.1V118.4H266.1V123.1H267.1V129.8H268.1V122.3H269.1V115.6H270.1V113.5H271.1V119.4H272.1V123.4H273.1V112.7H274.1V112.4H275.1V118.7H276.1V124.6H277.1V120.2H278.1V124.9H279.1V129.8H280.1V118.7H281.1V125.9H282.1V114.2H283.1V121.3H284.1V116.8H285.1V121.2H286.1V115.4H287.1V107.6H288.1V118.9H289.1V107.4H290.1V112H291.1V113.3H292.1V121.9H293.1V109H294.1V118.8H295.1V120H296.1V120.5H297.1V121.9H298.1V117.4H299.1V122H300.1V123.6H301.1V121.9H302.1V122.5H303.1V110.9H304.1V119.2H305.1V129.8H306.1V111.7H307.1V106.5H308.1V111.9H309.1V103.7H310.1V103.7H311.1V101.8H312.1V114.1H313.1V115.9H314.1V116.2H315.1V119H316.1V129.8H317.1V129.8H318.1V111.7H319.1V121.2H320.1V114.1H321.1V117.7H322.1V117.9H323.1V110.8H324.1V105.6H325.1V118.8H326.1V117.7H327.1V116.6H328.1V113H329.1V96.4H330.1V118H331.1V102.5H332.1V113.1H333.1V109.1H334.1V116.1H335.1V113.4H336.1V114.4H337.1V118.9H338.1V117.1H339.1V129.8H340.1V116.4H341.1V117.5H342.1V114.6H343.1V102.2H344.1V118.9H345.1V122.6H346.1V119.3H347.1V118.9H348.1V118H349.1V109.1H350.1V117.8H351.1V111.2H352.1V117.8H353.1V119.8H354.1V111.6H355.1V116.5H356.1V110.8H357.1V114.5H358.1V121.4H359.1V100.2H360.1V108.5H361.1V102.4H362.1V110.9H363.1V108.3H364.1V104.5H365.1V115.8H366.1V117.9H367.1V129.8H368.1V129.8H369.1V129.8H370.1V129.8H371.1V129.8H372.1V129.8H373.1V129.8H374.1V129.8H375.1V129.8H376.1V129.8H377.1V129.8H378.1V129.8H379.1V129.8H380.1V129.8H381.1V129.8H382.1V129.8H383.1V129.8H384.1V129.8H385.1V129.8H386.1V129.8H387.1V129.8H388.1V129.8H389.1V129.8H390.1V129.8H391.1V129.8H392.1V129.8H393.1V129.8H394.1V129.8H395.1V129.8H396.1V129.8H397.1V129.8H398.1V129.8H399.1V129.8H400.1V129.8H401.1V129.8H402.1V129.8H403.1V129.8H404.1V129.8H405.1V129.8H406.1V129.8H407.1V129.8H408.1V129.8H409.1V129.8H410.1V129.8H411.1V129.8H412.1V129.8H413.1V129.8H414.1V129.8H415.1V129.8H416.1V129.8H417.1V129.8H418.1V129.8H419.1V129.8H420.1V129.8H421.1V129.8H422.1V129.8H423.1V129.8H424.1V129.8H425.1V129.8H426.1V129.8H427.1V129.8H428.1V129.8H429.1V129.8H430.1V129.8H431.1V129.8H432.1V129.8H433.1V129.8H434.1V129.8H435.1V129.8H436.1V129.8H437.1V129.8H438.1V129.8H439.1V129.8H440.1V129.8H441.1V129.8H442.1V129.8H443.1V129.8H444.1V129.8H445.1V129.8H446.1V129.8H447.1V129.8H448.1V129.8H449.1V129.8H450.1V129.8H451.1V129.8H452.1V129.8H453.1V129.8H454.1V129.8H455.1V129.8H456.1V129.8H457.1V129.8H458.1V129.8H459.1V129.8H460.1V129.8H461.1V129.8H462.1V129.8H463.1V129.8H464.1V129.8H465.1V129.8H466.1V129.8H467.1V129.8H468.1V129.8H469.1V129.8H470.1V129.8H471.1V129.8H472.1V129.8H473.1V129.8H474.1V129.8H475.1V129.8H476.1V129.8H477.1V129.8H478.1V129.8H479.1V129.8H480.1V129.8H481.1V129.8H482.1V129.8H483.1V129.8H484.1V129.8H485.1V129.8H486.1V129.8H487.1V129.8H488.1V129.8H489.1V129.8H490.1V129.8H491.1V129.8H492.1V129.8H493.1V129.8H494.1V129.8H495.1V129.8H496.1V129.8H497.1V129.8H498.1V129.8H499.1V129.8H500.1V129.8H501.1V129.8H502.1V129.8H503.1V129.8H504.1V129.8H505.1V129.8H506.1V129.8H507.1V129.8H508.1V129.8H509.1V129.8H510.1V129.8H511.1V129.8H512.1V129.8H513.1V129.8H514.1V129.8H515.1V129.8H516.1V129.8H517.1V129.8H518.1V129.8H519.1V129.8H520.1V129.8H521.1V129.8H522.1V129.8H523.1V129.8H524.1V129.8H525.1V129.8H526.1V129.8H527.1V129.8H528.1V129.8H529.1V129.8H530.1V129.8H531.1V129.8H532.1V129.8H533.1V129.8H534.1V129.8H535.1V129.8H536.1V129.8H537.1V129.8H538.1V129.8H539.1V129.8H540.1V129.8H541.1V129.8H542.1V129.8H543.1V129.8H544.1V129.8H545.1V129.8H546.1V129.8H547.1V129.8H548.1V129.8H549.1V129.8H550.1V129.8H551.1V129.8H552.1V129.8H553.1V129.8H554.1V129.8H555.1V129.8H556.1V129.8H557.1V129.8H558.1V129.8H559.1V129.8H560.1V129.8H561.1V129.8H562.1V129.8H563.1V129.8H564.1V129.8H565.1V129.8H566.1V129.8H567.1V129.8H568.1V129.8H569.1V129.8H570.1V129.8H571.1V129.8H572.1V129.8H573.1V129.8H574.1V129.8H575.1V129.8H576.1V129.8H577.1V129.8H578.1V129.8H579.1V129.8H580.1V129.8H581.1V129.8H582.1V129.8H583.1V129.8H584.1V129.8H585.1V129.8H586.1V129.8H587.1V129.8H588.1V129.8H589.1V129.8H590.1V129.8H591.1V129.8H592.1V129.8H593.1V129.8H594.1V129.8H595.1V129.8H596.1V129.8H597.1V129.8H598.1V129.8H599.1V129.8H600.1V129.8H601.1V129.8H602.1V129.8H603.1V129.8H604.1V129.8H605.1V129.8H606.1V129.8H607.1V129.8H608.1V129.8H609.1V129.8H610.1V129.8H611.1V129.8H612.1V129.8H613.1V129.8H614.1V129.8Z" fill="#0090ff" fill-opacity="0.2"/>
<path d="M77.1 129.8V129.8H78.1V129.8H79.1V129.8H80.1V125.7H81.1V129.8H82.1V126.1H83.1V129.8H84.1V129.8H85.1V129.8H86.1V129.8H87.1V129.8H88.1V129.8H89.1V129.8H90.1V127.4H91.1V121.5H92.1V125.8H93.1V125H94.1V124.4H95.1V129.8H96.1V129.8H97.1V129.8H98.1V125.4H99.1V129.8H100.1V124.6H101.1V129.8H102.1V124.6H103.1V129.8H104.1V124.6H105.1V129.8H106.1V129.8H107.1V129.8H108.1V129.8H109.1V129.8H110.1V129.8H111.1V123.8H112.1V123.8H113.1V129.8H114.1V126.4H115.1V129.8H116.1V129.8H117.1V129.8H118.1V129.8H119.1V129.8H120.1V129.8H121.1V129.8H122.1V129.8H123.1V129.8H124.1V129.8H125.1V129.8H126.1V129.8H127.1V129.8H128.1V129.8H129.1V129.8H130.1V129.8H131.1V129.8H132.1V129.8H133.1V123.1H134.1V129.8H135.1V129.8H136.1V129.8H137.1V117.5H138.1V129.8H139.1V129.8H140.1V129.8H141.1V121.9H142.1V129.8H143.1V129.8H144.1V129.8H145.1V129.8H146.1V129.8H147.1V129.8H148.1V124.7H149.1V129.8H150.1V129.8H151.1V129.8H152.1V129.8H153.1V129.8H154.1V129.8H155.1V129.8H156.1V129.8H157.1V129.8H158.1V129.8H159.1V129.8H160.1V129.8H161.1V125.1H162.1V121.9H163.1V129.8H164.1V122.4H165.1V129.8H166.1V129.8H167.1V129.8H168.1V117.8H169.1V124.6H170.1V122H171.1V129.8H172.1V115.7H173.1V129.8H174.1V129.8H175.1V129.8H176.1V129.8H177.1V129.8H178.1V129.8H179.1V129.8H180.1V129.8H181.1V129.8H182.1V129.8H183.1V129.8H184.1V120H185.1V129.8H186.1V120.3H187.1V119.4H188.1V129.8H189.1V129.8H190.1V129.8H191.1V116.7H192.1V121H193.1V129.8H194.1V112.2H195.1V117.8H196.1V118.3H197.1V125.8H198.1V120.5H199.1V126H200.1V125.8H201.1V129.8H202.1V129.8H203.1V129.8H204.1V129.8H205.1V126.2H206.1V129.8H207.1V124.9H208.1V129.8H209.1V122.2H210.1V110.8H211.1V129.8H212.1V129.8H213.1V120.4H214.1V124.8H215.1V129.8H216.1V116.7H217.1V129.8H218.1V124.3H219.1V126.3H220.1V117.5H221.1V129.8H222.1V129.8H223.1V121.6H224.1V122.8H225.1V125H226.1V123.3H227.1V123.1H228.1V124.3H229.1V121.9H230.1V120.3H231.1V125.2H232.1V129.8H233.1V129.8H234.1V121.7H235.1V126.1H236.1V121.6H237.1V129.8H238.1V116.6H239.1V129.8H240.1V122.3H241.1V125.9H242.1V129.8H243.1V115H244.1V119.3H245.1V125.4H246.1V125.8H247.1V118.4H248.1V124.9H249.1V124.7H250.1V117H251.1V129.8H252.1V129.8H253.1V98.4H254.1V119.6H255.1V117.4H256.1V112.9H257.1V125.2H258.1V129.8H259.1V129.8H260.1V121.5H261.1V106.3H262.1V129.8H263.1V122H264.1V129.8H265.1V129.8H266.1V129.8H267.1V129.8H268.1V122.5H269.1V119.8H270.1V115.3H271.1V121.8H272.1V125.3H273.1V119H274.1V113.5H275.1V119.5H276.1V124.7H277.1V123.3H278.1V125.1H279.1V129.8H280.1V126H281.1V129.8H282.1V117.9H283.1V124.9H284.1V118.2H285.1V121.8H286.1V117.6H287.1V109.7H288.1V123.1H289.1V109.7H290.1V112.7H291.1V120H292.1V122H293.1V119.1H294.1V119.6H295.1V120.3H296.1V121.6H297.1V122.6H298.1V117.5H299.1V125H300.1V123.8H301.1V122.9H302.1V123.9H303.1V113.3H304.1V120.2H305.1V129.8H306.1V118.4H307.1V109.9H308.1V111.9H309.1V111.3H310.1V106H311.1V105.5H312.1V120.3H313.1V119.6H314.1V124.9H315.1V120H316.1V129.8H317.1V129.8H318.1V112.2H319.1V122.2H320.1V114.7H321.1V119.9H322.1V118.8H323.1V114.9H324.1V107.9H325.1V119.7H326.1V119.5H327.1V117.9H328.1V116.4H329.1V115.9H330.1V120.1H331.1V108.9H332.1V114.8H333.1V110.2H334.1V118.6H335.1V116.3H336.1V114.5H337.1V121.2H338.1V118.4H339.1V129.8H340.1V120.4H341.1V119H342.1V117.3H343.1V111.2H344.1V121H345.1V122.9H346.1V120H347.1V122.2H348.1V122.7H349.1V117H350.1V118.2H351.1V111.6H352.1V121.5H353.1V129.8H354.1V115.3H355.1V117.4H356.1V115.5H357.1V115.6H358.1V123.1H359.1V104.6H360.1V112.8H361.1V107.3H362.1V112.1H363.1V117.2H364.1V121.9H365.1V117.1H366.1V118.5H367.1V129.8H368.1V129.8H369.1V129.8H370.1V129.8H371.1V129.8H372.1V129.8H373.1V129.8H374.1V129.8H375.1V129.8H376.1V129.8H377.1V129.8H378.1V129.8H379.1V129.8H380.1V129.8H381.1V129.8H382.1V129.8H383.1V129.8H384.1V129.8H385.1V129.8H386.1V129.8H387.1V129.8H388.1V129.8H389.1V129.8H390.1V129.8H391.1V129.8H392.1V129.8H393.1V129.8H394.1V129.8H395.1V129.8H396.1V129.8H397.1V129.8H398.1V129.8H399.1V129.8H400.1V129.8H401.1V129.8H402.1V129.8H403.1V129.8H404.1V129.8H405.1V129.8H406.1V129.8H407.1V129.8H408.1V129.8H409.1V129.8H410.1V129.8H411.1V129.8H412.1V129.8H413.1V129.8H414.1V129.8H415.1V129.8H416.1V129.8H417.1V129.8H418.1V129.8H419.1V129.8H420.1V129.8H421.1V129.8H422.1V129.8H423.1V129.8H424.1V129.8H425.1V129.8H426.1V129.8H427.1V129.8H428.1V129.8H429.1V129.8H430.1V129.8H431.1V129.8H432.1V129.8H433.1V129.8H434.1V129.8H435.1V129.8H436.1V129.8H437.1V129.8H438.1V129.8H439.1V129.8H440.1V129.8H441.1V129.8H442.1V129.8H443.1V129.8H444.1V129.8H445.1V129.8H446.1V129.8H447.1V129.8H448.1V129.8H449.1V129.8H450.1V129.8H451.1V129.8H452.1V129.8H453.1V129.8H454.1V129.8H455.1V129.8H456.1V129.8H457.1V129.8H458.1V129.8H459.1V129.8H460.1V129.8H461.1V129.8H462.1V129.8H463.1V129.8H464.1V129.8H465.1V129.8H466.1V129.8H467.1V129.8H468.1V129.8H469.1V129.8H470.1V129.8H471.1V129.8H472.1V129.8H473.1V129.8H474.1V129.8H475.1V129.8H476.1V129.8H477.1V129.8H478.1V129.8H479.1V129.8H480.1V129.8H481.1V129.8H482.1V129.8H483.1V129.8H484.1V129.8H485.1V129.8H486.1V129.8H487.1V129.8H488.1V129.8H489.1V129.8H490.1V129.8H491.1V129.8H492.1V129.8H493.1V129.8H494.1V129.8H495.1V129.8H496.1V129.8H497.1V129.8H498.1V129.8H499.1V129.8H500.1V129.8H501.1V129.8H502.1V129.8H503.1V129.8H504.1V129.8H505.1V129.8H506.1V129.8H507.1V129.8H508.1V129.8H509.1V129.8H510.1V129.8H511.1V129.8H512.1V129.8H513.1V129.8H514.1V129.8H515.1V129.8H516.1V129.8H517.1V129.8H518.1V129.8H519.1V129.8H520.1V129.8H521.1V129.8H522.1V129.8H523.1V129.8H524.1V129.8H525.1V129.8H526.1V129.8H527.1V129.8H528.1V129.8H529.1V129.8H530.1V129.8H531.1V129.8H532.1V129.8H533.1V129.8H534.1V129.8H535.1V129.8H536.1V129.8H537.1V129.8H538.1V129.8H539.1V129.8H540.1V129.8H541.1V129.8H542.1V129.8H543.1V129.8H544.1V129.8H545.1V129.8H546.1V129.8H547.1V129.8H548.1V129.8H549.1V129.8H550.1V129.8H551.1V129.8H552.1V129.8H553.1V129.8H554.1V129.8H555.1V129.8H556.1V129.8H557.1V129.8H558.1V129.8H559.1V129.8H560.1V129.8H561.1V129.8H562.1V129.8H563.1V129.8H564.1V129.8H565.1V129.8H566.1V129.8H567.1V129.8H568.1V129.8H569.1V129.8H570.1V129.8H571.1V129.8H572.1V129.8H573.1V129.8H574.1V129.8H575.1V129.8H576.1V129.8H577.1V129.8H578.1V129.8H579.1V129.8H580.1V129.8H581.1V129.8H582.1V129.8H583.1V129.8H584.1V129.8H585.1V129.8H586.1V129.8H587.1V129.8H588.1V129.8H589.1V129.8H590.1V129.8H591.1V129.8H592.1V129.8H593.1V129.8H594.1V129.8H595.1V129.8H596.1V129.8H597.1V129.8H598.1V129.8H599.1V129.8H600.1V129.8H601.1V129.8H602.1V129.8H603.1V129.8H604.1V129.8H605.1V129.8H606.1V129.8H607.1V129.8H608.1V129.8H609.1V129.8H610.1V129.8H611.1V129.8H612.1V129.8H613.1V129.8H614.1V129.8Z" fill="#0090ff" fill-opacity="0.2"/>
<path d="M77.1 129.8V129.8H78.1V129.8H79.1V129.8H80.1V129.8H81.1V129.8H82.1V129.8H83.1V129.8H84.1V129.8H85.1V129.8H86.1V129.8H87.1V129.8H88.1V129.8H89.1V129.8H90.1V129.8H91.1V122.6H92.1V125.9H93.1V129.8H94.1V125.6H95.1V129.8H96.1V129.8H97.1V129.8H98.1V129.8H99.1V129.8H100.1V129.8H101.1V129.8H102.1V129.8H103.1V129.8H104.1V129.8H105.1V129.8H106.1V129.8H107.1V129.8H108.1V129.8H109.1V129.8H110.1V129.8H111.1V129.8H112.1V129.8H113.1V129.8H114.1V129.8H115.1V129.8H116.1V129.8H117.1V129.8H118.1V129.8H119.1V129.8H120.1V129.8H121.1V129.8H122.1V129.8H123.1V129.8H124.1V129.8H125.1V129.8H126.1V129.8H127.1V129.8H128.1V129.8H129.1V129.8H130.1V129.8H131.1V129.8H132.1V129.8H133.1V123.5H134.1V129.8H135.1V129.8H136.1V129.8H137.1V123.2H138.1V129.8H139.1V129.8H140.1V129.8H141.1V122H142.1V129.8H143.1V129.8H144.1V129.8H145.1V129.8H146.1V129.8H147.1V129.8H148.1V126.6H149.1V129.8H150.1V129.8H151.1V129.8H152.1V129.8H153.1V129.8H154.1V129.8H155.1V129.8H156.1V129.8H157.1V129.8H158.1V129.8H159.1V129.8H160.1V129.8H161.1V129.8H162.1V122.3H163.1V129.8H164.1V125H165.1V129.8H166.1V129.8H167.1V129.8H168.1V120.5H169.1V129.8H170.1V129.8H171.1V129.8H172.1V115.9H173.1V129.8H174.1V129.8H175.1V129.8H176.1V129.8H177.1V129.8H178.1V129.8H179.1V129.8H180.1V129.8H181.1V129.8H182.1V129.8H183.1V129.8H184.1V125.4H185.1V129.8H186.1V129.8H187.1V129.8H188.1V129.8H189.1V129.8H190.1V129.8H191.1V124.4H192.1V126.1H193.1V129.8H194.1V122H195.1V118.7H196.1V129.8H197.1V129.8H198.1V126.9H199.1V126.7H200.1V125.9H201.1V129.8H202.1V129.8H203.1V129.8H204.1V129.8H205.1V126.7H206.1V129.8H207.1V125.2H208.1V129.8H209.1V125.6H210.1V112.1H211.1V129.8H212.1V129.8H213.1V122.3H214.1V129.8H215.1V129.8H216.1V126.3H217.1V129.8H218.1V124.8H219.1V129.8H220.1V125.5H221.1V129.8H222.1V129.8H223.1V122.9H224.1V129.8H225.1V129.8H226.1V129.8H227.1V129.8H228.1V124.9H229.1V123.1H230.1V120.6H231.1V129.8H232.1V129.8H233.1V129.8H234.1V129.8H235.1V126.2H236.1V123.9H237.1V129.8H238.1V129.8H239.1V129.8H240.1V126.4H241.1V129.8H242.1V129.8H243.1V120.1H244.1V122.1H245.1V129.8H246.1V129.8H247.1V119.8H248.1V125.5H249.1V129.8H250.1V121.2H251.1V129.8H252.1V129.8H253.1V106.6H254.1V120.6H255.1V123.1H256.1V119.9H257.1V125.3H258.1V129.8H259.1V129.8H260.1V125.5H261.1V119.5H262.1V129.8H263.1V122.1H264.1V129.8H265.1V129.8H266.1V129.8H267.1V129.8H268.1V129.8H269.1V121.8H270.1V120.5H271.1V122.5H272.1V129.8H273.1V129.8H274.1V129.8H275.1V123H276.1V125.9H277.1V125.4H278.1V126.1H279.1V129.8H280.1V129.8H281.1V129.8H282.1V124.1H283.1V125.1H284.1V120.9H285.1V122.7H286.1V123H287.1V115.2H288.1V123.8H289.1V115.1H290.1V120.1H291.1V120.2H292.1V123.4H293.1V123H294.1V129.8H295.1V120.4H296.1V123.8H297.1V129.8H298.1V119H299.1V125H300.1V124.9H301.1V129.8H302.1V129.8H303.1V114H304.1V122.9H305.1V129.8H306.1V119.1H307.1V123.4H308.1V116H309.1V119.1H310.1V119.9H311.1V106H312.1V121.7H313.1V121.6H314.1V124.9H315.1V120.8H316.1V129.8H317.1V129.8H318.1V117.2H319.1V122.3H320.1V120.1H321.1V121.4H322.1V118.9H323.1V116.6H324.1V109.5H325.1V123.6H326.1V121.3H327.1V121.9H328.1V117H329.1V116.9H330.1V122.1H331.1V118H332.1V115.3H333.1V119.7H334.1V121.5H335.1V119.3H336.1V123.3H337.1V124H338.1V119H339.1V129.8H340.1V121.8H341.1V120.7H342.1V120.8H343.1V114.3H344.1V126.3H345.1V123.7H346.1V120.1H347.1V129.8H348.1V122.8H349.1V121.3H350.1V119H351.1V114.1H352.1V121.9H353.1V129.8H354.1V115.5H355.1V122.1H356.1V123.7H357.1V115.8H358.1V123.5H359.1V119.9H360.1V123.7H361.1V113H362.1V117.1H363.1V120.5H364.1V123.8H365.1V119H366.1V120.5H367.1V129.8H368.1V129.8H369.1V129.8H370.1V129.8H371.1V129.8H372.1V129.8H373.1V129.8H374.1V129.8H375.1V129.8H376.1V129.8H377.1V129.8H378.1V129.8H379.1V129.8H380.1V129.8H381.1V129.8H382.1V129.8H383.1V129.8H384.1V129.8H385.1V129.8H386.1V129.8H387.1V129.8H388.1V129.8H389.1V129.8H390.1V129.8H391.1V129.8H392.1V129.8H393.1V129.8H394.1V129.8H395.1V129.8H396.1V129.8H397.1V129.8H398.1V129.8H399.1V129.8H400.1V129.8H401.1V129.8H402.1V129.8H403.1V129.8H404.1V129.8H405.1V129.8H406.1V129.8H407.1V129.8H408.1V129.8H409.1V129.8H410.1V129.8H411.1V129.8H412.1V129.8H413.1V129.8H414.1V129.8H415.1V129.8H416.1V129.8H417.1V129.8H418.1V129.8H419.1V129.8H420.1V129.8H421.1V129.8H422.1V129.8H423.1V129.8H424.1V129.8H425.1V129.8H426.1V129.8H427.1V129.8H428.1V129.8H429.1V129.8H430.1V129.8H431.1V129.8H432.1V129.8H433.1V129.8H434.1V129.8H435.1V129.8H436.1V129.8H437.1V129.8H438.1V129.8H439.1V129.8H440.1V129.8H441.1V129.8H442.1V129.8H443.1V129.8H444.1V129.8H445.1V129.8H446.1V129.8H447.1V129.8H448.1V129.8H449.1V129.8H450.1V129.8H451.1V129.8H452.1V129.8H453.1V129.8H454.1V129.8H455.1V129.8H456.1V129.8H457.1V129.8H458.1V129.8H459.1V129.8H460.1V129.8H461.1V129.8H462.1V129.8H463.1V129.8H464.1V129.8H465.1V129.8H466.1V129.8H467.1V129.8H468.1V129.8H469.1V129.8H470.1V129.8H471.1V129.8H472.1V129.8H473.1V129.8H474.1V129.8H475.1V129.8H476.1V129.8H477.1V129.8H478.1V129.8H479.1V129.8H480.1V129.8H481.1V129.8H482.1V129.8H483.1V129.8H484.1V129.8H485.1V129.8H486.1V129.8H487.1V129.8H488.1V129.8H489.1V129.8H490.1V129.8H491.1V129.8H492.1V129.8H493.1V129.8H494.1V129.8H495.1V129.8H496.1V129.8H497.1V129.8H498.1V129.8H499.1V129.8H500.1V129.8H501.1V129.8H502.1V129.8H503.1V129.8H504.1V129.8H505.1V129.8H506.1V129.8H507.1V129.8H508.1V129.8H509.1V129.8H510.1V129.8H511.1V129.8H512.1V129.8H513.1V129.8H514.1V129.8H515.1V129.8H516.1V129.8H517.1V129.8H518.1V129.8H519.1V129.8H520.1V129.8H521.1V129.8H522.1V129.8H523.1V129.8H524.1V129.8H525.1V129.8H526.1V129.8H527.1V129.8H528.1V129.8H529.1V129.8H530.1V129.8H531.1V129.8H532.1V129.8H533.1V129.8H534.1V129.8H535.1V129.8H536.1V129.8H537.1V129.8H538.1V129.8H539.1V129.8H540.1V129.8H541.1V129.8H542.1V129.8H543.1V129.8H544.1V129.8H545.1V129.8H546.1V129.8H547.1V129.8H548.1V129.8H549.1V129.8H550.1V129.8H551.1V129.8H552.1V129.8H553.1V129.8H554.1V129.8H555.1V129.8H556.1V129.8H557.1V129.8H558.1V129.8H559.1V129.8H560.1V129.8H561.1V129.8H562.1V129.8H563.1V129.8H564.1V129.8H565.1V129.8H566.1V129.8H567.1V129.8H568.1V129.8H569.1V129.8H570.1V129.8H571.1V129.8H572.1V129.8H573.1V129.8H574.1V129.8H575.1V129.8H576.1V129.8H577.1V129.8H578.1V129.8H579.1V129.8H580.1V129.8H581.1V129.8H582.1V129.8H583.1V129.8H584.1V129.8H585.1V129.8H586.1V129.8H587.1V129.8H588.1V129.8H589.1V129.8H590.1V129.8H591.1V129.8H592.1V129.8H593.1V129.8H594.1V129.8H595.1V129.8H596.1V129.8H597.1V129.8H598.1V129.8H599.1V129.8H600.1V129.8H601.1V129.8H602.1V129.8H603.1V129.8H604.1V129.8H605.1V129.8H606.1V129.8H607.1V129.8H608.1V129.8H609.1V129.8H610.1V129.8H611.1V129.8H612.1V129.8H613.1V129.8H614.1V129.8Z" fill="#0090ff" fill-opacity="0.2"/>
<path d="M77.1 129.8V129.8H78.1V129.8H79.1V129.8H80.1V129.8H81.1V129.8H82.1V129.8H83.1V129.8H84.1V129.8H85.1V129.8H86.1V129.8H87.1V129.8H88.1V129.8H89.1V129.8H90.1V129.8H91.1V124.7H92.1V129.8H93.1V129.8H94.1V129.8H95.1V129.8H96.1V129.8H97.1V129.8H98.1V129.8H99.1V129.8H100.1V129.8H101.1V129.8H102.1V129.8H103.1V129.8H104.1V129.8H105.1V129.8H106.1V129.8H107.1V129.8H108.1V129.8H109.1V129.8H110.1V129.8H111.1V129.8H112.1V129.8H113.1V129.8H114.1V129.8H115.1V129.8H116.1V129.8H117.1V129.8H118.1V129.8H119.1V129.8H120.1V129.8H121.1V129.8H122.1V129.8H123.1V129.8H124.1V129.8H125.1V129.8H126.1V129.8H127.1V129.8H128.1V129.8H129.1V129.8H130.1V129.8H131.1V129.8H132.1V129.8H133.1V124.1H134.1V129.8H135.1V129.8H136.1V129.8H137.1V129.8H138.1V129.8H139.1V129.8H140.1V129.8H141.1V123.3H142.1V129.8H143.1V129.8H144.1V129.8H145.1V129.8H146.1V129.8H147.1V129.8H148.1V129.8H149.1V129.8H150.1V129.8H151.1V129.8H152.1V129.8H153.1V129.8H154.1V129.8H155.1V129.8H156.1V129.8H157.1V129.8H158.1V129.8H159.1V129.8H160.1V129.8H161.1V129.8H162.1V129.8H163.1V129.8H164.1V129.8H165.1V129.8H166.1V129.8H167.1V129.8H168.1V129.8H169.1V129.8H170.1V129.8H171.1V129.8H172.1V129.8H173.1V129.8H174.1V129.8H175.1V129.8H176.1V129.8H177.1V129.8H178.1V129.8H179.1V129.8H180.1V129.8H181.1V129.8H182.1V129.8H183.1V129.8H184.1V129.8H185.1V129.8H186.1V129.8H187.1V129.8H188.1V129.8H189.1V129.8H190.1V129.8H191.1V129.8H192.1V129.8H193.1V129.8H194.1V129.8H195.1V122.1H196.1V129.8H197.1V129.8H198.1V129.8H199.1V126.9H200.1V129.8H201.1V129.8H202.1V129.8H203.1V129.8H204.1V129.8H205.1V129.8H206.1V129.8H207.1V129.8H208.1V129.8H209.1V129.8H210.1V129.8H211.1V129.8H212.1V129.8H213.1V129.8H214.1V129.8H215.1V129.8H216.1V129.8H217.1V129.8H218.1V129.8H219.1V129.8H220.1V129.8H221.1V129.8H222.1V129.8H223.1V126.1H224.1V129.8H225.1V129.8H226.1V129.8H227.1V129.8H228.1V129.8H229.1V129.8H230.1V123.4H231.1V129.8H232.1V129.8H233.1V129.8H234.1V129.8H235.1V129.8H236.1V126H237.1V129.8H238.1V129.8H239.1V129.8H240.1V129.8H241.1V129.8H242.1V129.8H243.1V124.3H244.1V123.3H245.1V129.8H246.1V129.8H247.1V120.6H248.1V126.2H249.1V129.8H250.1V122.7H251.1V129.8H252.1V129.8H253.1V121.9H254.1V126.4H255.1V124.9H256.1V129.8H257.1V129.8H258.1V129.8H259.1V129.8H260.1V129.8H261.1V120.7H262.1V129.8H263.1V129.8H264.1V129.8H265.1V129.8H266.1V129.8H267.1V129.8H268.1V129.8H269.1V129.8H270.1V125.5H271.1V124.8H272.1V129.8H273.1V129.8H274.1V129.8H275.1V129.8H276.1V126H277.1V125.6H278.1V129.8H279.1V129.8H280.1V129.8H281.1V129.8H282.1V129.8H283.1V126H284.1V124H285.1V123.2H286.1V129.8H287.1V121.6H288.1V125.3H289.1V120.6H290.1V123.4H291.1V129.8H292.1V129.8H293.1V126.2H294.1V129.8H295.1V123.9H296.1V124.3H297.1V129.8H298.1V129.8H299.1V129.8H300.1V125.3H301.1V129.8H302.1V129.8H303.1V129.8H304.1V129.8H305.1V129.8H306.1V121.7H307.1V129.8H308.1V121H309.1V122.1H310.1V120.2H311.1V115.1H312.1V122.6H313.1V129.8H314.1V125.1H315.1V121.6H316.1V129.8H317.1V129.8H318.1V120.9H319.1V123.5H320.1V120.9H321.1V121.8H322.1V125H323.1V124.6H324.1V125.5H325.1V124.5H326.1V121.6H327.1V123H328.1V126.6H329.1V129.8H330.1V125.7H331.1V120.4H332.1V122.5H333.1V120.3H334.1V122.8H335.1V121.9H336.1V126H337.1V129.8H338.1V129.8H339.1V129.8H340.1V129.8H341.1V123.3H342.1V125.5H343.1V129.8H344.1V129.8H345.1V129.8H346.1V129.8H347.1V129.8H348.1V129.8H349.1V125.3H350.1V129.8H351.1V114.8H352.1V124.2H353.1V129.8H354.1V120.1H355.1V129.8H356.1V124.3H357.1V124H358.1V125.7H359.1V129.8H360.1V125.2H361.1V118.4H362.1V129.8H363.1V121.6H364.1V129.8H365.1V123.5H366.1V125.4H367.1V129.8H368.1V129.8H369.1V129.8H370.1V129.8H371.1V129.8H372.1V129.8H373.1V129.8H374.1V129.8H375.1V129.8H376.1V129.8H377.1V129.8H378.1V129.8H379.1V129.8H380.1V129.8H381.1V129.8H382.1V129.8H383.1V129.8H384.1V129.8H385.1V129.8H386.1V129.8H387.1V129.8H388.1V129.8H389.1V129.8H390.1V129.8H391.1V129.8H392.1V129.8H393.1V129.8H394.1V129.8H395.1V129.8H396.1V129.8H397.1V129.8H398.1V129.8H399.1V129.8H400.1V129.8H401.1V129.8H402.1V129.8H403.1V129.8H404.1V129.8H405.1V129.8H406.1V129.8H407.1V129.8H408.1V129.8H409.1V129.8H410.1V129.8H411.1V129.8H412.1V129.8H413.1V129.8H414.1V129.8H415.1V129.8H416.1V129.8H417.1V129.8H418.1V129.8H419.1V129.8H420.1V129.8H421.1V129.8H422.1V129.8H423.1V129.8H424.1V129.8H425.1V129.8H426.1V129.8H427.1V129.8H428.1V129.8H429.1V129.8H430.1V129.8H431.1V129.8H432.1V129.8H433.1V129.8H434.1V129.8H435.1V129.8H436.1V129.8H437.1V129.8H438.1V129.8H439.1V129.8H440.1V129.8H441.1V129.8H442.1V129.8H443.1V129.8H444.1V129.8H445.1V129.8H446.1V129.8H447.1V129.8H448.1V129.8H449.1V129.8H450.1V129.8H451.1V129.8H452.1V129.8H453.1V129.8H454.1V129.8H455.1V129.8H456.1V129.8H457.1V129.8H458.1V129.8H459.1V129.8H460.1V129.8H461.1V129.8H462.1V129.8H463.1V129.8H464.1V129.8H465.1V129.8H466.1V129.8H467.1V129.8H468.1V129.8H469.1V129.8H470.1V129.8H471.1V129.8H472.1V129.8H473.1V129.8H474.1V129.8H475.1V129.8H476.1V129.8H477.1V129.8H478.1V129.8H479.1V129.8H480.1V129.8H481.1V129.8H482.1V129.8H483.1V129.8H484.1V129.8H485.1V129.8H486.1V129.8H487.1V129.8H488.1V129.8H489.1V129.8H490.1V129.8H491.1V129.8H492.1V129.8H493.1V129.8H494.1V129.8H495.1V129.8H496.1V129.8H497.1V129.8H498.1V129.8H499.1V129.8H500.1V129.8H501.1V129.8H502.1V129.8H503.1V129.8H504.1V129.8H505.1V129.8H506.1V129.8H507.1V129.8H508.1V129.8H509.1V129.8H510.1V129.8H511.1V129.8H512.1V129.8H513.1V129.8H514.1V129.8H515.1V129.8H516.1V129.8H517.1V129.8H518.1V129.8H519.1V129.8H520.1V129.8H521.1V129.8H522.1V129.8H523.1V129.8H524.1V129.8H525.1V129.8H526.1V129.8H527.1V129.8H528.1V129.8H529.1V129.8H530.1V129.8H531.1V129.8H532.1V129.8H533.1V129.8H534.1V129.8H535.1V129.8H536.1V129.8H537.1V129.8H538.1V129.8H539.1V129.8H540.1V129.8H541.1V129.8H542.1V129.8H543.1V129.8H544.1V129.8H545.1V129.8H546.1V129.8H547.1V129.8H548.1V129.8H549.1V129.8H550.1V129.8H551.1V129.8H552.1V129.8H553.1V129.8H554.1V129.8H555.1V129.8H556.1V129.8H557.1V129.8H558.1V129.8H559.1V129.8H560.1V129.8H561.1V129.8H562.1V129.8H563.1V129.8H564.1V129.8H565.1V129.8H566.1V129.8H567.1V129.8H568.1V129.8H569.1V129.8H570.1V129.8H571.1V129.8H572.1V129.8H573.1V129.8H574.1V129.8H575.1V129.8H576.1V129.8H577.1V129.8H578.1V129.8H579.1V129.8H580.1V129.8H581.1V129.8H582.1V129.8H583.1V129.8H584.1V129.8H585.1V129.8H586.1V129.8H587.1V129.8H588.1V129.8H589.1V129.8H590.1V129.8H591.1V129.8H592.1V129.8H593.1V129.8H594.1V129.8H595.1V129.8H596.1V129.8H597.1V129.8H598.1V129.8H599.1V129.8H600.1V129.8H601.1V129.8H602.1V129.8H603.1V129.8H604.1V129.8H605.1V129.8H606.1V129.8H607.1V129.8H608.1V129.8H609.1V129.8H610.1V129.8H611.1V129.8H612.1V129.8H613.1V129.8H614.1V129.8Z" fill="#0090ff" fill-opacity="0.2"/>
<path d="M367.1 124.5V117.4h1V124.5zM368.1 125.5V117.4h1V125.5zM369.1 126.7V120.1h1V126.7zM370.1 125.4V120.9h1V125.4zM371.1 127.5V122.8h1V127.5zM372.1 128.1V125.1h1V128.1zM373.1 128.3V124.6h1V128.3zM374.1 128V124.6h1V128zM375.1 128.2V124.5h1V128.2zM376.1 127.9V124.6h1V127.9zM377.1 128.2V124.9h1V128.2zM378.1 127.7V125.2h1V127.7zM379.1 128.2V124.6h1V128.2zM380.1 127.5V124h1V127.5zM381.1 127.7V124.3h1V127.7zM382.1 128V123.9h1V128zM383.1 127.4V123.7h1V127.4zM384.1 128.1V124.5h1V128.1zM385.1 127V123.8h1V127zM386.1 126.8V124h1V126.8zM387.1 128V123.6h1V128zM388.1 127.4V123.3h1V127.4zM389.1 127.8V122.8h1V127.8zM390.1 126.8V123.3h1V126.8zM391.1 127V122.8h1V127zM392.1 127V123.7h1V127zM393.1 127.1V122.9h1V127.1zM394.1 127V121.7h1V127zM395.1 127.6V121.6h1V127.6zM396.1 126.3V121.3h1V126.3zM397.1 127.3V121.8h1V127.3zM398.1 125.9V120.8h1V125.9zM399.1 127.4V121.8h1V127.4zM400.1 126.2V121.8h1V126.2zM401.1 127.4V122h1V127.4zM402.1 126.4V120.9h1V126.4zM403.1 125.2V120.8h1V125.2zM404.1 126.7V121.8h1V126.7zM405.1 126.7V119.8h1V126.7zM406.1 125.2V120.4h1V125.2zM407.1 126.6V119.9h1V126.6zM408.1 127V119.8h1V127zM409.1 125.2V120.1h1V125.2zM410.1 126.4V120.8h1V126.4zM411.1 124.8V120.9h1V124.8zM412.1 125.3V119.3h1V125.3zM413.1 126V120.5h1V126zM414.1 124.7V119.9h1V124.7zM415.1 125.1V118h1V125.1zM416.1 125.5V119.4h1V125.5zM417.1 126.2V118.3h1V126.2zM418.1 125.8V119.4h1V125.8zM419.1 126.6V118.5h1V126.6zM420.1 125.3V121.2h1V125.3zM421.1 126.5V119.9h1V126.5zM422.1 125V121.2h1V125zM423.1 125.7V119.8h1V125.7zM424.1 126.8V120.3h1V126.8zM425.1 127.2V120.4h1V127.2zM426.1 125.6V120.3h1V125.6zM427.1 126.7V122.2h1V126.7zM428.1 127.1V122.6h1V127.1zM429.1 126.9V121.7h1V126.9zM430.1 127.3V123.2h1V127.3zM431.1 127.5V123.1h1V127.5zM432.1 126.5V123h1V126.5zM433.1 126.7V123h1V126.7zM434.1 126.4V122.6h1V126.4zM435.1 127.2V122.5h1V127.2zM436.1 127.9V123.6h1V127.9zM437.1 128V123.9h1V128zM438.1 127.8V123.1h1V127.8zM439.1 127V124.1h1V127zM440.1 128.2V123.5h1V128.2zM441.1 127.1V123.6h1V127.1zM442.1 127.2V124h1V127.2zM443.1 127.9V124.3h1V127.9zM444.1 128.1V124.8h1V128.1zM445.1 127.2V124.8h1V127.2zM446.1 127.8V124.2h1V127.8zM447.1 127.6V123.4h1V127.6zM448.1 127.2V122.6h1V127.2zM449.1 127.5V123.3h1V127.5zM450.1 126V121.7h1V126zM451.1 127.1V121.6h1V127.1zM452.1 126.7V120.7h1V126.7zM453.1 126.8V121.2h1V126.8zM454.1 125.8V122.2h1V125.8zM455.1 125.6V120.6h1V125.6zM456.1 126.5V120.9h1V126.5zM457.1 126.3V120.4h1V126.3zM458.1 126.5V122.2h1V126.5zM459.1 127.5V122.7h1V127.5zM460.1 126.7V123.3h1V126.7zM461.1 127.6V122.8h1V127.6zM462.1 127.9V122.9h1V127.9zM463.1 126.9V123.3h1V126.9zM464.1 127.4V122.9h1V127.4zM465.1 128.1V124.4h1V128.1zM466.1 127.7V123.3h1V127.7zM467.1 128.1V124.8h1V128.1zM468.1 127.4V123.3h1V127.4zM469.1 126.7V124.5h1V126.7zM470.1 126.7V122.9h1V126.7zM471.1 127.8V122.8h1V127.8zM472.1 127.4V122.7h1V127.4zM473.1 126.5V123.2h1V126.5zM474.1 127.4V123.7h1V127.4zM475.1 127.5V123.4h1V127.5zM476.1 127.6V123.9h1V127.6zM477.1 127.2V124.4h1V127.2zM478.1 126.9V124.5h1V126.9zM479.1 127.3V125.1h1V127.3zM480.1 127.2V125h1V127.2zM481.1 127.8V125.2h1V127.8zM482.1 127.3V124.6h1V127.3zM483.1 127.3V124.7h1V127.3zM484.1 127.8V123.6h1V127.8zM485.1 127.8V123.5h1V127.8zM486.1 127.5V123.3h1V127.5zM487.1 127V122.9h1V127zM488.1 127.5V122.6h1V127.5zM489.1 127V122.6h1V127zM490.1 127.5V124.1h1V127.5zM491.1 127V123.8h1V127zM492.1 126.9V123.7h1V126.9zM493.1 127.2V123.8h1V127.2zM494.1 127.2V124.2h1V127.2zM495.1 128.3V125.4h1V128.3zM496.1 127.2V124h1V127.2zM497.1 128V124.6h1V128zM498.1 127.6V125.1h1V127.6zM499.1 127.5V123.8h1V127.5zM500.1 127.1V125.1h1V127.1zM501.1 127.1V124.6h1V127.1zM502.1 127.3V124.2h1V127.3zM503.1 127.9V124.2h1V127.9zM504.1 126.6V123h1V126.6zM505.1 127.8V122.8h1V127.8zM506.1 126.5V123h1V126.5zM507.1 127.3V122.5h1V127.3zM508.1 127.1V123.6h1V127.1zM509.1 126.8V122.7h1V126.8zM510.1 127.4V123.2h1V127.4zM511.1 127.4V123.4h1V127.4zM512.1 128.1V124.5h1V128.1zM513.1 127.4V124.2h1V127.4zM514.1 127.3V125.3h1V127.3zM515.1 128.1V124.5h1V128.1zM516.1 127.7V125.3h1V127.7zM517.1 127.6V125h1V127.6zM518.1 127.1V123.3h1V127.1zM519.1 127.9V122.7h1V127.9zM520.1 127.2V123.2h1V127.2zM521.1 126.7V121.7h1V126.7zM522.1 126.5V121.3h1V126.5zM523.1 127V121.2h1V127zM524.1 126.8V120.6h1V126.8zM525.1 126.4V121.6h1V126.4zM526.1 126.6V121h1V126.6zM527.1 126.2V121.5h1V126.2zM528.1 126.5V120.2h1V126.5zM529.1 125V121.7h1V125zM530.1 126.3V120.4h1V126.3zM531.1 125.7V121.2h1V125.7zM532.1 126.2V120.4h1V126.2zM533.1 126.6V119.9h1V126.6zM534.1 126.7V122.2h1V126.7zM535.1 125.4V121.5h1V125.4zM536.1 125.6V121.7h1V125.6zM537.1 127.2V122.7h1V127.2zM538.1 126.9V121.3h1V126.9zM539.1 126.1V121.9h1V126.1zM540.1 127.4V121.7h1V127.4zM541.1 127.2V122.7h1V127.2zM542.1 126.6V122.8h1V126.6zM543.1 127.8V123.9h1V127.8zM544.1 127.1V124.2h1V127.1zM545.1 128.1V124h1V128.1zM546.1 127.9V124.7h1V127.9zM547.1 127V123.5h1V127zM548.1 127.5V124.4h1V127.5zM549.1 127.2V123.8h1V127.2zM550.1 127.8V123h1V127.8zM551.1 126.8V122.2h1V126.8zM552.1 126.9V122.4h1V126.9zM553.1 125.8V122.6h1V125.8zM554.1 126.1V122h1V126.1zM555.1 126.8V122.1h1V126.8zM556.1 127.4V121.6h1V127.4zM557.1 127.6V121.9h1V127.6zM558.1 127.8V123.8h1V127.8zM559.1 128.1V125.1h1V128.1zM560.1 128.1V125.1h1V128.1zM561.1 128.3V125h1V128.3zM562.1 127.2V123.9h1V127.2zM563.1 127.2V123.3h1V127.2zM564.1 126.6V122.5h1V126.6zM565.1 127.2V123.3h1V127.2zM566.1 126V123h1V126zM567.1 125.9V121.9h1V125.9zM568.1 126.8V120.8h1V126.8zM569.1 126.8V120.5h1V126.8zM570.1 125.1V121.5h1V125.1zM571.1 125V121.4h1V125zM572.1 127.1V119.9h1V127.1zM573.1 127V120.3h1V127zM574.1 126.3V120.4h1V126.3zM575.1 126.2V120.8h1V126.2zM576.1 126.8V119h1V126.8zM577.1 127V119.3h1V127zM578.1 127V119.4h1V127zM579.1 127.1V120h1V127.1zM580.1 125.9V119.6h1V125.9zM581.1 126.8V120.2h1V126.8zM582.1 126.5V120.2h1V126.5zM583.1 125.1V120.6h1V125.1zM584.1 126.1V121h1V126.1zM585.1 125.3V121.5h1V125.3zM586.1 125.7V120.4h1V125.7zM587.1 126.9V121.6h1V126.9zM588.1 126.7V122.1h1V126.7zM589.1 126.9V120.8h1V126.9zM590.1 125.9V122.2h1V125.9zM591.1 127V120.4h1V127zM592.1 126.6V122.5h1V126.6zM593.1 126.4V122.4h1V126.4zM594.1 127.2V122.4h1V127.2zM595.1 126.6V121.8h1V126.6zM596.1 126.9V122.9h1V126.9zM597.1 126.4V122.5h1V126.4zM598.1 126.7V122.4h1V126.7zM599.1 127.1V123.3h1V127.1zM600.1 127.4V123.8h1V127.4zM601.1 128.2V124.2h1V128.2zM602.1 127.8V125.3h1V127.8zM603.1 128.2V126.1h1V128.2zM604.1 128V125.4h1V128zM605.1 127.6V124.7h1V127.6zM606.1 127.9V123.7h1V127.9zM607.1 127V124.3h1V127zM608.1 126.5V123.6h1V126.5zM609.1 127.4V122.4h1V127.4zM610.1 127.4V122h1V127.4zM611.1 127V122.8h1V127zM612.1 126.6V121.3h1V126.6zM613.1 127.1V120.5h1V127.1z" fill="#0090ff" fill-opacity="0.2"/>
<path d="M367.1 124.3V117.7h1V124.3zM368.1 126.1V119.1h1V126.1zM369.1 126.6V120h1V126.6zM370.1 126V121h1V126zM371.1 127.1V122.1h1V127.1zM372.1 128.2V125.2h1V128.2zM373.1 127.5V124.6h1V127.5zM374.1 127.3V125.5h1V127.3zM375.1 127.4V124.6h1V127.4zM376.1 127.8V124.2h1V127.8zM377.1 127.6V125h1V127.6zM378.1 127.5V124.7h1V127.5zM379.1 127.3V125h1V127.3zM380.1 127.7V124.9h1V127.7zM381.1 127.6V124.8h1V127.6zM382.1 127.7V123.8h1V127.7zM383.1 127.9V124.4h1V127.9zM384.1 128.2V124h1V128.2zM385.1 126.9V123.4h1V126.9zM386.1 127.8V123.5h1V127.8zM387.1 126.9V123.4h1V126.9zM388.1 127.6V123.3h1V127.6zM389.1 126.5V122.9h1V126.5zM390.1 127V123.2h1V127zM391.1 126.7V122.4h1V126.7zM392.1 126.3V123.2h1V126.3zM393.1 127.5V123.2h1V127.5zM394.1 127.3V123.5h1V127.3zM395.1 126.6V122h1V126.6zM396.1 126.9V121.4h1V126.9zM397.1 126.3V122.4h1V126.3zM398.1 126.4V121.7h1V126.4zM399.1 125.7V120.9h1V125.7zM400.1 126.3V120.4h1V126.3zM401.1 126.5V121.9h1V126.5zM402.1 126.6V121h1V126.6zM403.1 125.5V122.1h1V125.5zM404.1 126.3V119.7h1V126.3zM405.1 125.3V121.7h1V125.3zM406.1 126V120.4h1V126zM407.1 126.7V119.1h1V126.7zM408.1 125.6V120.3h1V125.6zM409.1 125V121.1h1V125zM410.1 124.6V120.2h1V124.6zM411.1 125.2V121.1h1V125.2zM412.1 124.9V119.4h1V124.9zM413.1 125.6V120h1V125.6zM414.1 124.6V120.5h1V124.6zM415.1 125.6V118.1h1V125.6zM416.1 124.4V119h1V124.4zM417.1 125.9V119h1V125.9zM418.1 126.7V120.2h1V126.7zM419.1 125.7V118.8h1V125.7zM420.1 125.9V120.9h1V125.9zM421.1 125V119.9h1V125zM422.1 125.2V121.4h1V125.2zM423.1 126.9V120.6h1V126.9zM424.1 127.2V121.7h1V127.2zM425.1 126.7V120.5h1V126.7zM426.1 127.2V122.2h1V127.2zM427.1 127.3V121.7h1V127.3zM428.1 126.8V122.1h1V126.8zM429.1 127.3V122h1V127.3zM430.1 127.5V121.8h1V127.5zM431.1 127.1V122.9h1V127.1zM432.1 127.6V122.1h1V127.6zM433.1 127.5V123.2h1V127.5zM434.1 126.6V122.8h1V126.6zM435.1 128V123.3h1V128zM436.1 126.9V124.1h1V126.9zM437.1 126.7V123.1h1V126.7zM438.1 126.8V124.3h1V126.8zM439.1 127.2V123.6h1V127.2zM440.1 128.1V123.5h1V128.1zM441.1 127.3V124.9h1V127.3zM442.1 127.7V123.8h1V127.7zM443.1 127.1V123.5h1V127.1zM444.1 128V124.1h1V128zM445.1 127.6V124.6h1V127.6zM446.1 127V124.1h1V127zM447.1 127.8V122.8h1V127.8zM448.1 127.9V123.3h1V127.9zM449.1 127V123.6h1V127zM450.1 126.1V122.3h1V126.1zM451.1 125.8V121.6h1V125.8zM452.1 125.7V120.7h1V125.7zM453.1 126.6V122.3h1V126.6zM454.1 127.1V121.7h1V127.1zM455.1 127.1V120.7h1V127.1zM456.1 125.6V120.9h1V125.6zM457.1 126.9V120.1h1V126.9zM458.1 126.1V121.5h1V126.1zM459.1 126.6V122.3h1V126.6zM460.1 127.8V122.7h1V127.8zM461.1 127.7V123h1V127.7zM462.1 126.9V124.1h1V126.9zM463.1 127.9V124.3h1V127.9zM464.1 126.7V124.3h1V126.7zM465.1 126.9V124.2h1V126.9zM466.1 127.7V123.6h1V127.7zM467.1 128V123.4h1V128zM468.1 127.8V124.8h1V127.8zM469.1 127.6V123.1h1V127.6zM470.1 127.1V124.1h1V127.1zM471.1 127.2V123.6h1V127.2zM472.1 127.5V123.1h1V127.5zM473.1 126.6V122.7h1V126.6zM474.1 127V122.6h1V127zM475.1 126.5V122.7h1V126.5zM476.1 127.2V123.2h1V127.2zM477.1 127.9V124.2h1V127.9zM478.1 127.8V124.7h1V127.8zM479.1 128V124.2h1V128zM480.1 127.5V124.2h1V127.5zM481.1 127.9V124.7h1V127.9zM482.1 127.7V124h1V127.7zM483.1 128.1V124.7h1V128.1zM484.1 127V124.2h1V127zM485.1 127V123.2h1V127zM486.1 126.5V122.7h1V126.5zM487.1 127V123.7h1V127zM488.1 127.7V123.9h1V127.7zM489.1 126.8V123.1h1V126.8zM490.1 127.4V124.2h1V127.4zM491.1 127.7V124h1V127.7zM492.1 127V124.1h1V127zM493.1 127.9V123.8h1V127.9zM494.1 128.3V124.6h1V128.3zM495.1 127.7V125.4h1V127.7zM496.1 127.4V125.3h1V127.4zM497.1 127.2V125.1h1V127.2zM498.1 127.8V124h1V127.8zM499.1 128.1V123.9h1V128.1zM500.1 127.7V125h1V127.7zM501.1 127.3V124.3h1V127.3zM502.1 127V123.8h1V127zM503.1 127.6V122.9h1V127.6zM504.1 127.6V124.2h1V127.6zM505.1 127.7V122.5h1V127.7zM506.1 126.8V122.6h1V126.8zM507.1 127.6V123.7h1V127.6zM508.1 126.9V123.5h1V126.9zM509.1 127.4V124h1V127.4zM510.1 127.5V124.1h1V127.5zM511.1 126.9V124h1V126.9zM512.1 127.9V124.6h1V127.9zM513.1 127.5V124.6h1V127.5zM514.1 127.5V125.4h1V127.5zM515.1 127.7V125.1h1V127.7zM516.1 128.3V125.4h1V128.3zM517.1 127.8V123.5h1V127.8zM518.1 128V124.2h1V128zM519.1 126.4V122.8h1V126.4zM520.1 127V122.4h1V127zM521.1 127.4V121.2h1V127.4zM522.1 126.7V122h1V126.7zM523.1 125.7V122.1h1V125.7zM524.1 126.9V122.5h1V126.9zM525.1 127.2V120.5h1V127.2zM526.1 125.2V121.6h1V125.2zM527.1 126.2V120.1h1V126.2zM528.1 125.9V119.6h1V125.9zM529.1 125.6V121.5h1V125.6zM530.1 125V121h1V125zM531.1 125.5V120.4h1V125.5zM532.1 125.9V121h1V125.9zM533.1 126.6V121.7h1V126.6zM534.1 125.9V120.1h1V125.9zM535.1 127.2V122.1h1V127.2zM536.1 125.9V121.9h1V125.9zM537.1 127.4V121.5h1V127.4zM538.1 127V121.8h1V127zM539.1 127.1V122.8h1V127.1zM540.1 126.7V123.2h1V126.7zM541.1 126.6V122.6h1V126.6zM542.1 127.1V123.2h1V127.1zM543.1 126.7V123.8h1V126.7zM544.1 127.5V124.4h1V127.5zM545.1 128.1V125.3h1V128.1zM546.1 127.3V124.2h1V127.3zM547.1 127.7V124.9h1V127.7zM548.1 126.8V123h1V126.8zM549.1 127.1V122.3h1V127.1zM550.1 126.9V123.6h1V126.9zM551.1 127.2V122.8h1V127.2zM552.1 125.9V122.5h1V125.9zM553.1 127.3V120.7h1V127.3zM554.1 127.1V122.1h1V127.1zM555.1 126.1V122.1h1V126.1zM556.1 126.2V122.2h1V126.2zM557.1 126.6V122.3h1V126.6zM558.1 127.8V123.8h1V127.8zM559.1 127.1V124.3h1V127.1zM560.1 127.4V124.6h1V127.4zM561.1 127.8V123.9h1V127.8zM562.1 127.5V124.7h1V127.5zM563.1 126.8V124.3h1V126.8zM564.1 126.3V123.7h1V126.3zM565.1 126.6V122.6h1V126.6zM566.1 125.9V121.7h1V125.9zM567.1 126.9V121.8h1V126.9zM568.1 126.7V120h1V126.7zM569.1 126.3V119.5h1V126.3zM570.1 124.9V120.1h1V124.9zM571.1 125.4V121.1h1V125.4zM572.1 125.7V119.4h1V125.7zM573.1 126.4V119.4h1V126.4zM574.1 125.6V119.7h1V125.6zM575.1 126.2V119h1V126.2zM576.1 126.7V121.4h1V126.7zM577.1 126.8V121.1h1V126.8zM578.1 125.6V120.1h1V125.6zM579.1 125.1V120.3h1V125.1zM580.1 125V119.6h1V125zM581.1 127V120.5h1V127zM582.1 127.1V121.1h1V127.1zM583.1 125.8V121.4h1V125.8zM584.1 126.4V119.6h1V126.4zM585.1 127.1V121.1h1V127.1zM586.1 126.1V121.8h1V126.1zM587.1 126.2V121.7h1V126.2zM588.1 127.3V120.1h1V127.3zM589.1 125.9V122.5h1V125.9zM590.1 127.2V121.1h1V127.2zM591.1 127.1V120.8h1V127.1zM592.1 126.1V121.7h1V126.1zM593.1 126.9V122.6h1V126.9zM594.1 125.9V121.1h1V125.9zM595.1 126.6V121.7h1V126.6zM596.1 126.3V121.8h1V126.3zM597.1 127.2V122.2h1V127.2zM598.1 127.2V123.2h1V127.2zM599.1 127.7V124.1h1V127.7zM600.1 127.8V124.2h1V127.8zM601.1 128.2V124.4h1V128.2zM602.1 128V125.2h1V128zM603.1 127.6V125.8h1V127.6zM604.1 127.8V124.5h1V127.8zM605.1 127.2V124.3h1V127.2zM606.1 127.7V123.6h1V127.7zM607.1 126.9V123.6h1V126.9zM608.1 127.1V124.1h1V127.1zM609.1 127.2V122.4h1V127.2zM610.1 127.6V123h1V127.6zM611.1 127.3V121.6h1V127.3zM612.1 127.2V121h1V127.2zM613.1 126.3V121.1h1V126.3z" fill="#0090ff" fill-opacity="0.2"/>
<path d="M367.1 122.7V115.4h1V122.7zM368.1 126.2V118h1V126.2zM369.1 126.6V120.3h1V126.6zM370.1 127.2V121.1h1V127.2zM371.1 127.3V123.3h1V127.3zM372.1 127.7V124.3h1V127.7zM373.1 128.3V125.2h1V128.3zM374.1 127.4V124.8h1V127.4zM375.1 127.4V125.1h1V127.4zM376.1 127.4V124.5h1V127.4zM377.1 127.7V124.8h1V127.7zM378.1 127.3V124.9h1V127.3zM379.1 127.4V125.3h1V127.4zM380.1 127.9V124h1V127.9zM381.1 127.7V124.9h1V127.7zM382.1 127.6V123.7h1V127.6zM383.1 127.2V124h1V127.2zM384.1 127.6V124.9h1V127.6zM385.1 127.8V123.8h1V127.8zM386.1 127.5V123.8h1V127.5zM387.1 127.3V123h1V127.3zM388.1 127.7V123.5h1V127.7zM389.1 127.2V123.3h1V127.2zM390.1 127.9V123.3h1V127.9zM391.1 126.6V123h1V126.6zM392.1 126.9V123.7h1V126.9zM393.1 127.6V123.2h1V127.6zM394.1 126.5V123.1h1V126.5zM395.1 126.5V122.5h1V126.5zM396.1 127.4V121.4h1V127.4zM397.1 126.4V121.5h1V126.4zM398.1 126.5V121.8h1V126.5zM399.1 126.7V121.1h1V126.7zM400.1 126.6V120.8h1V126.6zM401.1 126.7V121.2h1V126.7zM402.1 126.8V122.1h1V126.8zM403.1 125.6V120.1h1V125.6zM404.1 125.9V121.5h1V125.9zM405.1 125.7V120.8h1V125.7zM406.1 125.4V121.4h1V125.4zM407.1 126.6V119.2h1V126.6zM408.1 125.7V121.1h1V125.7zM409.1 124.9V120.7h1V124.9zM410.1 124.9V120.3h1V124.9zM411.1 126.8V120.8h1V126.8zM412.1 125.3V118.9h1V125.3zM413.1 125.4V118.9h1V125.4zM414.1 125.7V120.5h1V125.7zM415.1 126.3V120.4h1V126.3zM416.1 126.5V119h1V126.5zM417.1 125.2V118.6h1V125.2zM418.1 126.6V119h1V126.6zM419.1 126.3V120.2h1V126.3zM420.1 126.9V119.1h1V126.9zM421.1 125.7V119.2h1V125.7zM422.1 126.4V120.9h1V126.4zM423.1 126.1V120h1V126.1zM424.1 125.6V120.3h1V125.6zM425.1 126.5V121.3h1V126.5zM426.1 127.1V122.5h1V127.1zM427.1 125.9V122.5h1V125.9zM428.1 126.8V122.8h1V126.8zM429.1 127V123h1V127zM430.1 126.7V122.7h1V126.7zM431.1 126.5V122.7h1V126.5zM432.1 126.8V122.6h1V126.8zM433.1 127.1V123.2h1V127.1zM434.1 127V123.7h1V127zM435.1 127.7V123.7h1V127.7zM436.1 127.3V123.5h1V127.3zM437.1 127V122.9h1V127zM438.1 127.3V124.5h1V127.3zM439.1 127.1V124.7h1V127.1zM440.1 127.9V124.3h1V127.9zM441.1 128.1V123.6h1V128.1zM442.1 127V124.9h1V127zM443.1 126.9V124.6h1V126.9zM444.1 128.2V124.2h1V128.2zM445.1 127.9V123.8h1V127.9zM446.1 128.2V124.3h1V128.2zM447.1 127.2V123.1h1V127.2zM448.1 127.8V122.7h1V127.8zM449.1 127.1V123.7h1V127.1zM450.1 126.1V123h1V126.1zM451.1 126.1V121.7h1V126.1zM452.1 126.9V122.5h1V126.9zM453.1 126.4V121.6h1V126.4zM454.1 125.5V121.8h1V125.5zM455.1 126.1V120.5h1V126.1zM456.1 125.5V121.6h1V125.5zM457.1 126.1V120.4h1V126.1zM458.1 127V122.1h1V127zM459.1 127.7V122h1V127.7zM460.1 126.9V123.4h1V126.9zM461.1 126.8V122.7h1V126.8zM462.1 126.7V124.4h1V126.7zM463.1 126.9V123.5h1V126.9zM464.1 127.4V124.3h1V127.4zM465.1 127.9V123.8h1V127.9zM466.1 128V123.4h1V128zM467.1 127.9V123.3h1V127.9zM468.1 127.5V123.7h1V127.5zM469.1 126.7V124.6h1V126.7zM470.1 127.2V123.2h1V127.2zM471.1 127.2V124.1h1V127.2zM472.1 127.6V123.6h1V127.6zM473.1 127.7V122.8h1V127.7zM474.1 127.5V122.5h1V127.5zM475.1 127.6V124.2h1V127.6zM476.1 127.9V123.2h1V127.9zM477.1 127.9V123.9h1V127.9zM478.1 126.9V124.2h1V126.9zM479.1 127.8V124h1V127.8zM480.1 128V125.1h1V128zM481.1 128.4V124.9h1V128.4zM482.1 127.5V125.4h1V127.5zM483.1 127V124.6h1V127zM484.1 127.6V123.4h1V127.6zM485.1 127.8V123.8h1V127.8zM486.1 127.6V123.6h1V127.6zM487.1 127V123.9h1V127zM488.1 127V124h1V127zM489.1 127.6V124.3h1V127.6zM490.1 126.8V124.2h1V126.8zM491.1 127.4V124.5h1V127.4zM492.1 127.5V124.4h1V127.5zM493.1 127.3V124.1h1V127.3zM494.1 127.2V124.1h1V127.2zM495.1 128.1V124.5h1V128.1zM496.1 127.7V124h1V127.7zM497.1 128.1V124.4h1V128.1zM498.1 127.3V124.7h1V127.3zM499.1 127.9V124.5h1V127.9zM500.1 127V124.9h1V127zM501.1 127.7V124.1h1V127.7zM502.1 127V124.2h1V127zM503.1 127.3V124.3h1V127.3zM504.1 126.6V122.8h1V126.6zM505.1 126.8V122.7h1V126.8zM506.1 126.7V122.3h1V126.7zM507.1 126.6V122.5h1V126.6zM508.1 126.8V123h1V126.8zM509.1 126.4V122.9h1V126.4zM510.1 127V123.7h1V127zM511.1 127.5V123.3h1V127.5zM512.1 127.8V123.8h1V127.8zM513.1 127.7V123.7h1V127.7zM514.1 128V125.5h1V128zM515.1 127.6V125.1h1V127.6zM516.1 128V124.4h1V128zM517.1 127.1V124.2h1V127.1zM518.1 127.9V123.5h1V127.9zM519.1 127.5V123.2h1V127.5zM520.1 126.9V121.8h1V126.9zM521.1 125.9V123.1h1V125.9zM522.1 126.9V122.5h1V126.9zM523.1 126.4V121h1V126.4zM524.1 126.2V122.1h1V126.2zM525.1 126.4V121.8h1V126.4zM526.1 126.7V121h1V126.7zM527.1 127.1V119.6h1V127.1zM528.1 126.8V120.5h1V126.8zM529.1 125.5V119.1h1V125.5zM530.1 125.7V120.4h1V125.7zM531.1 126V119.6h1V126zM532.1 127.1V120.1h1V127.1zM533.1 126.6V120.9h1V126.6zM534.1 126.5V120.2h1V126.5zM535.1 125.9V122.4h1V125.9zM536.1 126.7V121.7h1V126.7zM537.1 127.3V120.7h1V127.3zM538.1 126.1V122.4h1V126.1zM539.1 127.1V121.6h1V127.1zM540.1 125.9V121.7h1V125.9zM541.1 127.2V123.1h1V127.2zM542.1 126.9V123.9h1V126.9zM543.1 126.8V123.7h1V126.8zM544.1 126.9V124.8h1V126.9zM545.1 127.8V124.9h1V127.8zM546.1 127.7V125.2h1V127.7zM547.1 128V124.1h1V128zM548.1 127.1V122.8h1V127.1zM549.1 127.8V123.2h1V127.8zM550.1 126.7V122.8h1V126.7zM551.1 127V121.5h1V127zM552.1 127.1V121.8h1V127.1zM553.1 126.2V120.7h1V126.2zM554.1 125.7V121.3h1V125.7zM555.1 125.6V121.3h1V125.6zM556.1 126V121.6h1V126zM557.1 127.3V122.8h1V127.3zM558.1 127V123.9h1V127zM559.1 127.5V124.3h1V127.5zM560.1 127.9V125.4h1V127.9zM561.1 127.2V124.3h1V127.2zM562.1 126.9V124.4h1V126.9zM563.1 127.9V122.7h1V127.9zM564.1 127.6V122.7h1V127.6zM565.1 126.9V121.7h1V126.9zM566.1 126.2V122.6h1V126.2zM567.1 126.7V122.5h1V126.7zM568.1 125.9V120.9h1V125.9zM569.1 125.9V120.3h1V125.9zM570.1 126.3V118.9h1V126.3zM571.1 127V121.2h1V127zM572.1 125.3V121.2h1V125.3zM573.1 125.6V120.3h1V125.6zM574.1 126.7V118.9h1V126.7zM575.1 126.7V119.8h1V126.7zM576.1 127.1V119.3h1V127.1zM577.1 126.2V120.8h1V126.2zM578.1 126.8V121.3h1V126.8zM579.1 125.5V121.4h1V125.5zM580.1 126.4V121.5h1V126.4zM581.1 126.1V119.8h1V126.1zM582.1 125.7V119.9h1V125.7zM583.1 125.3V121.9h1V125.3zM584.1 126.9V121.9h1V126.9zM585.1 125.3V120.5h1V125.3zM586.1 126.3V120.4h1V126.3zM587.1 125.7V120.3h1V125.7zM588.1 125.4V121.2h1V125.4zM589.1 125.5V121.1h1V125.5zM590.1 127V120.4h1V127zM591.1 125.6V121.4h1V125.6zM592.1 125.6V120.8h1V125.6zM593.1 125.9V120.7h1V125.9zM594.1 127.1V122.1h1V127.1zM595.1 126V122.6h1V126zM596.1 126.3V123h1V126.3zM597.1 126.7V122.9h1V126.7zM598.1 127.6V122.5h1V127.6zM599.1 127.6V123h1V127.6zM600.1 127V123.9h1V127zM601.1 128.1V125.2h1V128.1zM602.1 127.9V125.5h1V127.9zM603.1 128.2V126.1h1V128.2zM604.1 128.4V125.6h1V128.4zM605.1 127.9V124.3h1V127.9zM606.1 127.4V125h1V127.4zM607.1 127V123.6h1V127zM608.1 126.8V122.7h1V126.8zM609.1 127.2V122.5h1V127.2zM610.1 127.2V122.3h1V127.2zM611.1 126.8V123.1h1V126.8zM612.1 127.4V121.8h1V127.4zM613.1 126.4V120.4h1V126.4z" fill="#0090ff" fill-opacity="0.2"/>
<path d="M367.1 121.6V113.3h1V121.6zM368.1 122.4V112.8h1V122.4zM372.1 127.1V122.9h1V127.1zM373.1 127.1V123.8h1V127.1zM375.1 127.2V119.5h1V127.2zM377.1 126V121.9h1V126zM378.1 126.4V123.5h1V126.4zM379.1 126.6V123.6h1V126.6zM382.1 127.1V123.9h1V127.1zM383.1 126.1V121.5h1V126.1zM384.1 126.1V124h1V126.1zM385.1 125.7V118.2h1V125.7zM387.1 126.8V117.6h1V126.8zM388.1 126.1V117.3h1V126.1zM389.1 125.6V116.2h1V125.6zM391.1 126.1V121.4h1V126.1zM392.1 126.4V118h1V126.4zM393.1 125.7V116.4h1V125.7zM394.1 125.7V117.3h1V125.7zM395.1 124.3V120.3h1V124.3zM401.1 124.4V114.5h1V124.4zM403.1 124.6V112.2h1V124.6zM404.1 125.3V114.9h1V125.3zM406.1 123.1V117.3h1V123.1zM409.1 122.7V114.2h1V122.7zM410.1 123.6V110.3h1V123.6zM412.1 122.8V119.2h1V122.8zM413.1 124.6V114.1h1V124.6zM414.1 121.9V107.8h1V121.9zM415.1 123.5V111.2h1V123.5zM417.1 124.9V114.1h1V124.9zM418.1 123.9V113h1V123.9zM419.1 124V114.5h1V124zM420.1 122.8V109.7h1V122.8zM422.1 124.9V119.2h1V124.9zM425.1 125.5V111.7h1V125.5zM427.1 123.9V119.1h1V123.9zM428.1 125.9V118.6h1V125.9zM430.1 124.2V120h1V124.2zM431.1 124.6V117.5h1V124.6zM432.1 126V119.1h1V126zM433.1 126.5V122.3h1V126.5zM434.1 125.4V121.9h1V125.4zM435.1 125.8V122.7h1V125.8zM436.1 126V118.3h1V126zM437.1 125.4V120.3h1V125.4zM439.1 126.2V118.1h1V126.2zM441.1 125.9V124h1V125.9zM444.1 126.2V117.9h1V126.2zM447.1 125.7V123.9h1V125.7zM448.1 126.6V118.1h1V126.6zM450.1 124.6V115.5h1V124.6zM452.1 123.7V116.1h1V123.7zM453.1 124.2V111.7h1V124.2zM455.1 122.9V114h1V122.9zM457.1 123.9V113.1h1V123.9zM458.1 124V118.8h1V124zM460.1 125.9V120.9h1V125.9zM461.1 126V123.7h1V126zM463.1 126.6V120h1V126.6zM465.1 126V118.3h1V126zM467.1 126.6V122.8h1V126.6zM468.1 126.1V123.9h1V126.1zM469.1 125.5V123.9h1V125.5zM473.1 125.2V118.9h1V125.2zM476.1 126.4V123.5h1V126.4zM477.1 125.8V119.5h1V125.8zM478.1 126.3V120.2h1V126.3zM479.1 125.9V120.9h1V125.9zM481.1 126.8V124.2h1V126.8zM482.1 126.7V124.1h1V126.7zM483.1 127.1V120h1V127.1zM484.1 125.4V119.1h1V125.4zM485.1 125.9V118.8h1V125.9zM486.1 126.6V120.1h1V126.6zM488.1 125.3V119.8h1V125.3zM489.1 125.5V119.2h1V125.5zM492.1 125.7V118.2h1V125.7zM493.1 126.5V119.6h1V126.5zM495.1 127.3V119.4h1V127.3zM496.1 126.1V119h1V126.1zM497.1 127.2V121.7h1V127.2zM498.1 126.1V122.4h1V126.1zM499.1 126.1V122.8h1V126.1zM500.1 126.6V119.2h1V126.6zM501.1 126.5V123.8h1V126.5zM503.1 125.7V118.2h1V125.7zM504.1 126.1V119.4h1V126.1zM505.1 125.1V122.9h1V125.1zM506.1 124.7V116.9h1V124.7zM508.1 125V121.1h1V125zM509.1 125.8V119.1h1V125.8zM510.1 125.3V116.6h1V125.3zM512.1 127V118.7h1V127zM514.1 126.5V121.4h1V126.5zM515.1 127.5V122.5h1V127.5zM516.1 126.1V124.5h1V126.1zM517.1 127V123.1h1V127zM518.1 126.5V121h1V126.5zM519.1 125.5V122.2h1V125.5zM521.1 126.1V115.7h1V126.1zM522.1 124.8V118.8h1V124.8zM523.1 125.3V116h1V125.3zM524.1 124.6V119.4h1V124.6zM526.1 124.1V118.8h1V124.1zM527.1 124.7V111.4h1V124.7zM529.1 123.1V112.7h1V123.1zM530.1 124.3V112h1V124.3zM531.1 124V114.8h1V124zM532.1 123.3V121.3h1V123.3zM533.1 125.2V112.6h1V125.2zM535.1 125V112.2h1V125zM536.1 125.7V117.8h1V125.7zM537.1 124.7V119.3h1V124.7zM538.1 124.8V116.1h1V124.8zM539.1 125.9V117.8h1V125.9zM541.1 125.6V123.1h1V125.6zM542.1 125.4V118.7h1V125.4zM543.1 126V120.4h1V126zM545.1 127.2V122h1V127.2zM546.1 126.9V122.1h1V126.9zM548.1 125.4V118.4h1V125.4zM549.1 126.2V122.9h1V126.2zM551.1 125.6V122h1V125.6zM552.1 124.1V116.8h1V124.1zM553.1 125V121.7h1V125zM554.1 125.1V113.5h1V125.1zM555.1 123.5V117.3h1V123.5zM556.1 125.6V113.4h1V125.6zM558.1 126.1V122.1h1V126.1zM559.1 127.2V122.3h1V127.2zM560.1 127.3V122.8h1V127.3zM561.1 126.2V118.4h1V126.2zM562.1 126.5V119.9h1V126.5zM563.1 125.1V120.9h1V125.1zM564.1 126.5V120.8h1V126.5zM565.1 125.6V117.6h1V125.6zM567.1 123.7V117.1h1V123.7zM568.1 123.8V121.1h1V123.8zM569.1 124.7V118.4h1V124.7zM572.1 124.9V111.9h1V124.9zM573.1 124.3V111.9h1V124.3zM574.1 123.8V110.1h1V123.8zM575.1 123.8V119.1h1V123.8zM576.1 125.2V117h1V125.2zM577.1 122.7V112.4h1V122.7zM579.1 123.8V110h1V123.8zM580.1 123.5V116.1h1V123.5zM582.1 123.1V115.3h1V123.1zM583.1 125.1V116h1V125.1zM584.1 123.6V113.9h1V123.6zM585.1 123.8V117.3h1V123.8zM586.1 125.1V119.1h1V125.1zM587.1 123.4V119.3h1V123.4zM588.1 123.3V112.8h1V123.3zM590.1 125.1V114h1V125.1zM591.1 124.6V113.3h1V124.6zM593.1 125.5V113.4h1V125.5zM594.1 125.3V115.6h1V125.3zM595.1 124.4V116.2h1V124.4zM596.1 124.5V117.8h1V124.5zM597.1 125.3V121.5h1V125.3zM598.1 126.1V120.9h1V126.1zM599.1 126.2V117.1h1V126.2zM600.1 125.9V122.8h1V125.9zM601.1 126.1V118.7h1V126.1zM603.1 127.6V124.7h1V127.6zM604.1 127.4V123.8h1V127.4zM605.1 126.5V122.4h1V126.5zM606.1 126.5V120.3h1V126.5zM607.1 126.5V120.3h1V126.5zM608.1 125.7V117.7h1V125.7zM609.1 126.4V116.3h1V126.4zM610.1 125.1V117.5h1V125.1zM611.1 124.5V119.6h1V124.5zM612.1 124.6V121.1h1V124.6zM613.1 124.6V120.8h1V124.6z" fill="#0090ff" fill-opacity="0.2"/>
<path d="M367.1 121.5V110.9h1V121.5zM368.1 121.7V109.2h1V121.7zM369.1 122.5V110.8h1V122.5zM370.1 125.3V118.2h1V125.3zM371.1 126.5V119.3h1V126.5zM372.1 127.2V124.4h1V127.2zM374.1 126.5V121.4h1V126.5zM376.1 126.5V119h1V126.5zM377.1 126.6V119.9h1V126.6zM378.1 126.7V124.6h1V126.7zM379.1 125.9V120.5h1V125.9zM380.1 127V123.5h1V127zM381.1 127.2V120.6h1V127.2zM383.1 127.1V120.8h1V127.1zM384.1 126.3V121h1V126.3zM387.1 126.5V117.1h1V126.5zM388.1 126.6V117.8h1V126.6zM390.1 125.6V116.9h1V125.6zM391.1 126.2V117.3h1V126.2zM393.1 125.3V119.3h1V125.3zM397.1 124.8V117.2h1V124.8zM399.1 124.4V120.4h1V124.4zM401.1 125.6V116h1V125.6zM402.1 123.7V112.5h1V123.7zM403.1 125.1V114.1h1V125.1zM404.1 124.4V110.1h1V124.4zM405.1 125.1V111.3h1V125.1zM406.1 125V118.9h1V125zM408.1 123.9V114h1V123.9zM409.1 122.5V115.9h1V122.5zM410.1 124.2V120.2h1V124.2zM411.1 123.2V115.1h1V123.2zM413.1 122.4V113.9h1V122.4zM415.1 122.9V107.5h1V122.9zM417.1 123.1V118.2h1V123.1zM419.1 123.7V117.7h1V123.7zM420.1 122.9V112.4h1V122.9zM421.1 125.2V118.4h1V125.2zM423.1 124.6V120.2h1V124.6zM424.1 125.1V115h1V125.1zM425.1 124.5V120.9h1V124.5zM426.1 123.8V119.3h1V123.8zM427.1 124.7V117.2h1V124.7zM428.1 126V120.9h1V126zM431.1 126.2V121.8h1V126.2zM432.1 125.8V119.3h1V125.8zM433.1 125.3V116.5h1V125.3zM436.1 126.5V116.2h1V126.5zM437.1 126.1V118.7h1V126.1zM438.1 125.9V121.8h1V125.9zM440.1 126.8V121.5h1V126.8zM441.1 125.6V119.2h1V125.6zM443.1 126.9V118.9h1V126.9zM444.1 126.4V118.6h1V126.4zM445.1 126.1V123.8h1V126.1zM446.1 126.3V118.4h1V126.3zM447.1 125.5V120.8h1V125.5zM448.1 125.8V117.3h1V125.8zM449.1 126.4V119.2h1V126.4zM450.1 124.6V120.6h1V124.6zM451.1 124.5V117.9h1V124.5zM452.1 124.7V112.7h1V124.7zM453.1 125.8V121h1V125.8zM456.1 122.8V117.4h1V122.8zM457.1 123.5V120.3h1V123.5zM459.1 126.4V123h1V126.4zM462.1 126.5V123.4h1V126.5zM464.1 125.4V118.2h1V125.4zM465.1 126V123.2h1V126zM466.1 125.5V119.8h1V125.5zM467.1 126.8V123.1h1V126.8zM468.1 125.7V123.4h1V125.7zM469.1 125.8V121.8h1V125.8zM470.1 125.9V120.4h1V125.9zM471.1 125.1V117.7h1V125.1zM472.1 125.2V122.8h1V125.2zM473.1 125.3V120.6h1V125.3zM474.1 126.3V119.9h1V126.3zM476.1 126.6V119.7h1V126.6zM477.1 125.3V120.7h1V125.3zM479.1 126.7V122.7h1V126.7zM480.1 127.2V120.6h1V127.2zM481.1 126.5V119.1h1V126.5zM482.1 126.7V120.6h1V126.7zM483.1 126.3V123.2h1V126.3zM486.1 126.3V119.4h1V126.3zM488.1 125V122.7h1V125zM491.1 126.4V122.2h1V126.4zM492.1 125.6V119.5h1V125.6zM493.1 126.1V120.2h1V126.1zM494.1 126V124.4h1V126zM495.1 126.9V120.5h1V126.9zM496.1 126.2V120.8h1V126.2zM497.1 126.9V120.2h1V126.9zM498.1 126.1V122.9h1V126.1zM500.1 126.5V123.9h1V126.5zM501.1 126.2V118.1h1V126.2zM502.1 126.2V117.9h1V126.2zM503.1 125.7V120.6h1V125.7zM504.1 125.2V116.2h1V125.2zM505.1 125.5V118.3h1V125.5zM506.1 125.9V122.5h1V125.9zM507.1 126.2V115.9h1V126.2zM508.1 126.2V121.8h1V126.2zM509.1 126.2V121.2h1V126.2zM510.1 126.1V121.6h1V126.1zM511.1 126.3V117.3h1V126.3zM512.1 126V123.1h1V126zM513.1 127V122.4h1V127zM514.1 126.9V123.8h1V126.9zM515.1 127.2V124h1V127.2zM516.1 127.4V124h1V127.4zM518.1 126.3V117.1h1V126.3zM520.1 125.9V115.3h1V125.9zM521.1 125.4V119.6h1V125.4zM522.1 124.6V117.3h1V124.6zM523.1 123.9V120.2h1V123.9zM524.1 123.7V120.7h1V123.7zM525.1 124.6V116.4h1V124.6zM526.1 124.1V116.4h1V124.1zM527.1 125V118.9h1V125zM528.1 125.1V115.4h1V125.1zM529.1 122.9V117.7h1V122.9zM530.1 124.3V114.2h1V124.3zM531.1 123.1V115.9h1V123.1zM533.1 124.6V118.3h1V124.6zM535.1 123.7V118.5h1V123.7zM536.1 124.6V121.2h1V124.6zM537.1 123.7V119.1h1V123.7zM538.1 125.6V119.8h1V125.6zM539.1 123.8V114.1h1V123.8zM541.1 125.9V121.8h1V125.9zM542.1 126.4V121h1V126.4zM544.1 126.9V121.6h1V126.9zM545.1 127V119.3h1V127zM546.1 126.7V118.6h1V126.7zM547.1 127V122.4h1V127zM548.1 125.4V119.2h1V125.4zM549.1 126.1V118.7h1V126.1zM550.1 125.2V116.5h1V125.2zM553.1 123.8V118.3h1V123.8zM554.1 125.3V117.6h1V125.3zM557.1 125.6V118.3h1V125.6zM558.1 125.2V122.1h1V125.2zM561.1 126.8V122.1h1V126.8zM563.1 125.3V122.4h1V125.3zM565.1 125.4V117.6h1V125.4zM566.1 124.4V117.8h1V124.4zM567.1 124.2V114.1h1V124.2zM569.1 125.2V114.6h1V125.2zM570.1 123.3V116.1h1V123.3zM571.1 125V110.6h1V125zM572.1 122.6V117.5h1V122.6zM573.1 125.1V120.3h1V125.1zM574.1 125.1V117.5h1V125.1zM577.1 124.4V117.9h1V124.4zM579.1 124.2V118.1h1V124.2zM583.1 124.9V117.4h1V124.9zM584.1 124.8V117.9h1V124.8zM585.1 124.2V114.8h1V124.2zM586.1 124.7V118.3h1V124.7zM587.1 124.6V120.8h1V124.6zM589.1 123.6V117.7h1V123.6zM590.1 123.5V112.4h1V123.5zM591.1 123.5V120h1V123.5zM592.1 124.1V118.8h1V124.1zM594.1 126V115h1V126zM595.1 124.2V121.5h1V124.2zM597.1 126.4V114.8h1V126.4zM598.1 125.2V120.4h1V125.2zM599.1 126.5V120.7h1V126.5zM601.1 127.2V123.6h1V127.2zM602.1 126.7V124.3h1V126.7zM603.1 127V122.5h1V127zM604.1 126.4V125h1V126.4zM607.1 126.9V117.8h1V126.9zM608.1 125.1V117.6h1V125.1zM609.1 125.1V122.5h1V125.1zM610.1 126.2V121.4h1V126.2zM611.1 125.4V121.3h1V125.4zM612.1 124.7V116.1h1V124.7zM613.1 125.6V114.7h1V125.6z" fill="#0090ff" fill-opacity="0.2"/>
<path d="M367.1 121.8V102.2h1V121.8zM368.1 123.5V118.3h1V123.5zM369.1 123.3V112.7h1V123.3zM370.1 124.2V117.3h1V124.2zM371.1 125.3V116.6h1V125.3zM372.1 126.1V122.4h1V126.1zM373.1 126.9V121.5h1V126.9zM374.1 126.8V122.6h1V126.8zM375.1 127.4V123.3h1V127.4zM376.1 127.1V123.7h1V127.1zM377.1 126.8V121.2h1V126.8zM378.1 127.2V122.8h1V127.2zM379.1 125.9V123.5h1V125.9zM380.1 126.4V123.6h1V126.4zM381.1 126.8V121.6h1V126.8zM382.1 127V118.9h1V127zM383.1 126.6V118.4h1V126.6zM384.1 126.7V122.5h1V126.7zM385.1 126.9V123.1h1V126.9zM387.1 126.1V117.9h1V126.1zM388.1 125.4V116.5h1V125.4zM389.1 125.6V118.1h1V125.6zM390.1 125.8V119.5h1V125.8zM391.1 125.9V119h1V125.9zM392.1 126.4V121.9h1V126.4zM393.1 126.3V116.7h1V126.3zM394.1 125V122.6h1V125zM395.1 124.3V118h1V124.3zM396.1 124.1V115h1V124.1zM397.1 125V114.4h1V125zM398.1 125V118.2h1V125zM399.1 123.9V118.1h1V123.9zM400.1 124.1V113.5h1V124.1zM401.1 124.8V115.8h1V124.8zM402.1 125.1V119.7h1V125.1zM405.1 123V118h1V123zM406.1 122.8V110.8h1V122.8zM407.1 123V120.1h1V123zM409.1 123.2V113.3h1V123.2zM410.1 122.3V117.9h1V122.3zM411.1 124V112.4h1V124zM412.1 123V109.4h1V123zM413.1 122V114.3h1V122zM414.1 124.2V114.8h1V124.2zM415.1 122.1V119.7h1V122.1zM418.1 122.3V109.1h1V122.3zM419.1 124.6V111.5h1V124.6zM420.1 123.8V113.6h1V123.8zM422.1 123.3V115.5h1V123.3zM423.1 124.6V118.6h1V124.6zM424.1 123.2V120.3h1V123.2zM425.1 124.5V117.5h1V124.5zM426.1 125.4V118.7h1V125.4zM427.1 124.9V121.8h1V124.9zM428.1 124.5V121.4h1V124.5zM432.1 125.7V122.4h1V125.7zM434.1 126V117.3h1V126zM435.1 125.1V122.7h1V125.1zM436.1 126.7V122.3h1V126.7zM437.1 125.5V117.6h1V125.5zM438.1 126V121.7h1V126zM439.1 125.8V118.3h1V125.8zM441.1 126.5V120.9h1V126.5zM442.1 125.9V117.9h1V125.9zM443.1 126.3V124.1h1V126.3zM444.1 126.7V117.6h1V126.7zM445.1 126.5V120.2h1V126.5zM446.1 125.8V122.9h1V125.8zM447.1 125.3V122.7h1V125.3zM448.1 125.4V117.9h1V125.4zM449.1 126.1V117.7h1V126.1zM450.1 126.3V118.4h1V126.3zM451.1 125.2V121h1V125.2zM452.1 125.6V118.9h1V125.6zM453.1 124.8V121.1h1V124.8zM454.1 125.2V120.6h1V125.2zM456.1 123.2V113.3h1V123.2zM457.1 123.6V112.4h1V123.6zM458.1 124.3V120.8h1V124.3zM459.1 125.6V116.7h1V125.6zM460.1 126V119.7h1V126zM461.1 126.3V123.1h1V126.3zM462.1 126.7V119.2h1V126.7zM463.1 126.4V120.5h1V126.4zM464.1 125.8V122.5h1V125.8zM467.1 126.1V119.4h1V126.1zM468.1 125.7V120.3h1V125.7zM469.1 126.9V124h1V126.9zM470.1 125.4V117h1V125.4zM471.1 125.4V120.7h1V125.4zM473.1 125.4V115.7h1V125.4zM474.1 125V118.7h1V125zM475.1 125.1V122.9h1V125.1zM476.1 126V123.8h1V126zM477.1 125.3V119.5h1V125.3zM478.1 126.2V122.1h1V126.2zM479.1 127.2V123.6h1V127.2zM481.1 126.8V123.9h1V126.8zM482.1 127.3V120.6h1V127.3zM484.1 126.5V122.1h1V126.5zM485.1 125.8V122.4h1V125.8zM486.1 125.1V118.9h1V125.1zM487.1 125.4V122.9h1V125.4zM491.1 126.8V121.3h1V126.8zM492.1 126.8V123.7h1V126.8zM493.1 126.4V123.5h1V126.4zM494.1 127.1V119.6h1V127.1zM495.1 126.2V119.1h1V126.2zM497.1 126V121.8h1V126zM498.1 127V119.9h1V127zM499.1 125.9V120.8h1V125.9zM500.1 125.7V118.8h1V125.7zM501.1 126.3V122.4h1V126.3zM503.1 125.6V119.7h1V125.6zM505.1 126.1V121.5h1V126.1zM506.1 125.9V119.4h1V125.9zM507.1 124.5V120.2h1V124.5zM509.1 125.4V117.7h1V125.4zM511.1 127V118.8h1V127zM512.1 126.6V124.2h1V126.6zM513.1 127.1V119.4h1V127.1zM514.1 126.5V122.5h1V126.5zM515.1 126.2V121.1h1V126.2zM516.1 126.7V119.9h1V126.7zM520.1 126V115h1V126zM521.1 125.4V115.8h1V125.4zM522.1 125.2V118.8h1V125.2zM523.1 124.9V120.3h1V124.9zM525.1 125.4V118.1h1V125.4zM526.1 123.9V119.4h1V123.9zM527.1 123.9V116.1h1V123.9zM528.1 123.1V115.1h1V123.1zM529.1 123.2V116.3h1V123.2zM530.1 124.9V117.5h1V124.9zM531.1 125.4V116.5h1V125.4zM532.1 124.5V115.8h1V124.5zM533.1 124.2V116.9h1V124.2zM534.1 123.8V115.4h1V123.8zM536.1 125.1V119.2h1V125.1zM537.1 123.9V114.3h1V123.9zM538.1 124.1V118.2h1V124.1zM540.1 125.9V122.4h1V125.9zM541.1 125.7V118.7h1V125.7zM542.1 126.2V118.1h1V126.2zM543.1 126.4V117.7h1V126.4zM544.1 127V123.3h1V127zM545.1 126.1V118.9h1V126.1zM548.1 126.1V122h1V126.1zM549.1 125V120.9h1V125zM551.1 125.5V120.2h1V125.5zM552.1 124.8V118.4h1V124.8zM553.1 125.4V112.7h1V125.4zM555.1 124.7V120.3h1V124.7zM556.1 124.4V116.6h1V124.4zM557.1 125.1V117.4h1V125.1zM558.1 125.7V119.2h1V125.7zM559.1 125.8V124.2h1V125.8zM560.1 126.6V122.8h1V126.6zM561.1 126.6V122.8h1V126.6zM562.1 126.7V123.2h1V126.7zM563.1 125.9V118.2h1V125.9zM565.1 126.1V118.9h1V126.1zM566.1 125.3V113.4h1V125.3zM567.1 124V112.8h1V124zM568.1 125.1V111.7h1V125.1zM570.1 122.7V113.1h1V122.7zM571.1 122.8V114.1h1V122.8zM572.1 122.9V109.6h1V122.9zM573.1 123.2V119.8h1V123.2zM574.1 124.6V110.1h1V124.6zM576.1 122.6V115.6h1V122.6zM577.1 124.5V110.6h1V124.5zM578.1 124.8V110.3h1V124.8zM579.1 125.2V110.9h1V125.2zM582.1 124.4V117.2h1V124.4zM583.1 124.3V118.9h1V124.3zM584.1 125.1V117.4h1V125.1zM585.1 123.5V114.1h1V123.5zM586.1 124.6V116.3h1V124.6zM587.1 123.4V118.4h1V123.4zM588.1 123.8V111.1h1V123.8zM589.1 123.9V115.9h1V123.9zM591.1 123.8V120.5h1V123.8zM594.1 124.7V113.6h1V124.7zM596.1 125V122h1V125zM597.1 125.4V116.5h1V125.4zM598.1 125.1V117.6h1V125.1zM600.1 125.7V123.4h1V125.7zM602.1 127.3V122.5h1V127.3zM605.1 126.7V124h1V126.7zM606.1 126.4V124.5h1V126.4zM607.1 126.8V120.4h1V126.8zM608.1 126.3V119.2h1V126.3zM609.1 126.3V117.2h1V126.3zM612.1 126V114.6h1V126zM613.1 124.7V113.2h1V124.7z" fill="#0090ff" fill-opacity="0.2"/>
<path d="M369.1 124.3V114.2h1V124.3zM370.1 124.9V119.6h1V124.9zM371.1 126V122.7h1V126zM372.1 126.8V118.6h1V126.8zM373.1 127.5V121.1h1V127.5zM374.1 126.6V123.9h1V126.6zM377.1 127.1V121.9h1V127.1zM378.1 126.6V119.3h1V126.6zM380.1 127.2V120.5h1V127.2zM381.1 125.9V121.9h1V125.9zM382.1 126.9V121.2h1V126.9zM383.1 126.5V123.8h1V126.5zM384.1 126.4V122.3h1V126.4zM386.1 125.8V124.2h1V125.8zM387.1 126.4V122.6h1V126.4zM388.1 126.2V123.6h1V126.2zM389.1 125.1V123.1h1V125.1zM391.1 126V121.4h1V126zM392.1 125V116.1h1V125zM393.1 125.2V115.7h1V125.2zM394.1 124.9V122.1h1V124.9zM395.1 125.7V116.6h1V125.7zM396.1 124.4V120.5h1V124.4zM397.1 124.8V122.1h1V124.8zM398.1 124.3V116.9h1V124.3zM399.1 123.7V118.9h1V123.7zM400.1 123.9V121.6h1V123.9zM402.1 123.7V111.5h1V123.7zM403.1 125.3V116.7h1V125.3zM405.1 123.9V110.9h1V123.9zM406.1 124.3V114.4h1V124.3zM407.1 125.2V112.6h1V125.2zM409.1 123.7V112.2h1V123.7zM410.1 122.4V117.6h1V122.4zM411.1 123.7V107.7h1V123.7zM412.1 124.5V113.4h1V124.5zM414.1 123.6V116.7h1V123.6zM415.1 123.2V107.7h1V123.2zM416.1 124.1V117.6h1V124.1zM417.1 123.6V119.3h1V123.6zM418.1 124.1V118.8h1V124.1zM419.1 122.4V114.9h1V122.4zM420.1 124.5V120.5h1V124.5zM421.1 124.5V109.9h1V124.5zM422.1 125.1V109.4h1V125.1zM423.1 124V120.6h1V124zM424.1 124.9V110.3h1V124.9zM425.1 124.6V120.9h1V124.6zM426.1 124.9V118.6h1V124.9zM427.1 125.8V121.5h1V125.8zM429.1 124.1V116.9h1V124.1zM431.1 124.4V114.7h1V124.4zM432.1 124.6V117.9h1V124.6zM433.1 126.6V118.4h1V126.6zM434.1 125.7V122h1V125.7zM435.1 126.4V120.2h1V126.4zM437.1 126V118.8h1V126zM438.1 125.3V121.2h1V125.3zM439.1 125.5V123.5h1V125.5zM440.1 126.5V122.5h1V126.5zM441.1 127V123h1V127zM442.1 126V120.7h1V126zM443.1 126.5V121.1h1V126.5zM444.1 126.1V120.8h1V126.1zM445.1 125.9V119.6h1V125.9zM446.1 125.8V122.4h1V125.8zM448.1 125V119.3h1V125zM449.1 126.1V122.3h1V126.1zM450.1 124.7V113.9h1V124.7zM451.1 125.9V120.1h1V125.9zM452.1 125.8V115.9h1V125.8zM456.1 124.6V110.7h1V124.6zM457.1 124.3V116.7h1V124.3zM458.1 124.7V113.1h1V124.7zM459.1 125.9V121.3h1V125.9zM460.1 125.1V122.6h1V125.1zM462.1 125.3V123.8h1V125.3zM463.1 126.1V122.8h1V126.1zM464.1 126.8V122.5h1V126.8zM465.1 125.7V118.6h1V125.7zM466.1 126.2V118.5h1V126.2zM468.1 126.4V124.2h1V126.4zM469.1 126.1V121.2h1V126.1zM471.1 126.7V122.2h1V126.7zM472.1 125.4V120.4h1V125.4zM473.1 126.1V120.5h1V126.1zM474.1 126.3V117.5h1V126.3zM475.1 126.4V123.5h1V126.4zM476.1 126V121.4h1V126zM477.1 126.7V120.4h1V126.7zM478.1 125.8V118.9h1V125.8zM479.1 126.6V119.5h1V126.6zM480.1 127V124.1h1V127zM481.1 127.1V122.9h1V127.1zM483.1 126V123.3h1V126zM485.1 125.4V123.9h1V125.4zM486.1 124.9V117.4h1V124.9zM487.1 126.2V123.5h1V126.2zM489.1 125.6V122.3h1V125.6zM490.1 126.5V122.5h1V126.5zM491.1 125.4V117.8h1V125.4zM492.1 126.7V120.2h1V126.7zM493.1 126.6V118.2h1V126.6zM494.1 126.1V119.2h1V126.1zM495.1 126.9V122.1h1V126.9zM497.1 126.4V123.1h1V126.4zM499.1 126.4V121.9h1V126.4zM500.1 126.1V119.9h1V126.1zM501.1 126.5V119.7h1V126.5zM504.1 126.1V119.4h1V126.1zM507.1 126.1V122.5h1V126.1zM508.1 124.8V119.4h1V124.8zM509.1 125.7V120h1V125.7zM512.1 126V121.7h1V126zM513.1 126.9V122.3h1V126.9zM514.1 126.7V119h1V126.7zM515.1 127.3V120.6h1V127.3zM516.1 126.2V122.5h1V126.2zM517.1 127V119h1V127zM518.1 125.9V120.8h1V125.9zM519.1 125.9V116.4h1V125.9zM520.1 125.7V115h1V125.7zM521.1 124.3V120.9h1V124.3zM522.1 123.8V120h1V123.8zM524.1 124.1V114.3h1V124.1zM526.1 125.1V115.3h1V125.1zM527.1 124.5V119.1h1V124.5zM528.1 123.4V119.8h1V123.4zM529.1 123.8V114.1h1V123.8zM530.1 124V109.7h1V124zM532.1 125V115.1h1V125zM533.1 125.6V115.5h1V125.6zM536.1 124.6V114.1h1V124.6zM537.1 125V113h1V125zM538.1 125.6V115.1h1V125.6zM539.1 124.1V118.9h1V124.1zM540.1 126.2V122.1h1V126.2zM541.1 125.7V116.2h1V125.7zM543.1 125.3V116.5h1V125.3zM544.1 126.8V118.5h1V126.8zM545.1 126.3V119.5h1V126.3zM546.1 126.2V121.7h1V126.2zM547.1 126.9V123.6h1V126.9zM548.1 126.5V119.6h1V126.5zM549.1 125.6V120.4h1V125.6zM550.1 125V114.8h1V125zM551.1 126.1V120.2h1V126.1zM552.1 125.8V115.7h1V125.8zM553.1 125.3V116.3h1V125.3zM555.1 123.9V120.7h1V123.9zM556.1 125.6V120.1h1V125.6zM557.1 125.3V116.2h1V125.3zM558.1 126.5V121.1h1V126.5zM560.1 126.5V122.3h1V126.5zM561.1 126.6V121.7h1V126.6zM563.1 125.6V116.4h1V125.6zM564.1 125V122.4h1V125zM566.1 125.2V117.2h1V125.2zM567.1 124.8V119.6h1V124.8zM568.1 123.4V118.4h1V123.4zM570.1 122.9V114.5h1V122.9zM571.1 123.7V110.7h1V123.7zM572.1 123.6V114.3h1V123.6zM573.1 125V120.3h1V125zM574.1 123.8V117.2h1V123.8zM575.1 123V114.1h1V123zM576.1 122.9V117.8h1V122.9zM577.1 124.8V110h1V124.8zM578.1 124.1V120.7h1V124.1zM579.1 124.4V109.4h1V124.4zM580.1 123.8V109.5h1V123.8zM581.1 124.2V112.3h1V124.2zM583.1 124.7V119.1h1V124.7zM584.1 124.9V119.2h1V124.9zM585.1 123.5V114.9h1V123.5zM586.1 124V113.9h1V124zM587.1 124V117.4h1V124zM588.1 124V112.7h1V124zM589.1 124.5V113.9h1V124.5zM590.1 124.4V120.2h1V124.4zM591.1 124.5V115.9h1V124.5zM592.1 125.7V115h1V125.7zM593.1 124.8V113.6h1V124.8zM594.1 125.1V120.5h1V125.1zM595.1 125.8V120.6h1V125.8zM596.1 125.3V117.5h1V125.3zM597.1 125.8V118.4h1V125.8zM598.1 126V123.6h1V126zM599.1 125.6V117.5h1V125.6zM602.1 127.5V123h1V127.5zM603.1 127V121.3h1V127zM604.1 127.2V119.9h1V127.2zM606.1 126.1V118.9h1V126.1zM607.1 125.7V120.1h1V125.7zM608.1 126.2V121.5h1V126.2zM609.1 124.8V115.5h1V124.8zM610.1 124.8V122.8h1V124.8zM611.1 125.2V122.7h1V125.2zM612.1 125.6V115.1h1V125.6zM613.1 124.4V117.2h1V124.4z" fill="#0090ff" fill-opacity="0.2"/>
<path d="M367.1 121.5V111.8h1V121.5zM369.1 123V110.5h1V123zM370.1 125.5V114.2h1V125.5zM371.1 125.6V121h1V125.6zM372.1 126.7V123.9h1V126.7zM373.1 126.6V123h1V126.6zM375.1 127.2V122.6h1V127.2zM379.1 127.1V123.7h1V127.1zM380.1 126V124.5h1V126zM381.1 126.5V118.1h1V126.5zM382.1 127.1V123.1h1V127.1zM383.1 126.6V121.1h1V126.6zM384.1 126.3V123.3h1V126.3zM386.1 126.2V119.1h1V126.2zM389.1 126.3V120.1h1V126.3zM390.1 125.2V121.4h1V125.2zM391.1 125V115.7h1V125zM393.1 125.2V121.9h1V125.2zM394.1 126.3V116.7h1V126.3zM396.1 125V115.3h1V125zM397.1 124V118h1V124zM399.1 124.7V121.7h1V124.7zM402.1 123.6V116.6h1V123.6zM403.1 123.9V113.7h1V123.9zM404.1 125.1V117.2h1V125.1zM405.1 124.5V114.5h1V124.5zM406.1 124.8V109.5h1V124.8zM408.1 124.4V110.1h1V124.4zM410.1 124.1V115.8h1V124.1zM411.1 122.2V114.6h1V122.2zM412.1 122.5V114.1h1V122.5zM413.1 124.3V113.2h1V124.3zM414.1 123.5V113.2h1V123.5zM416.1 123.8V108.6h1V123.8zM418.1 123.4V114.1h1V123.4zM420.1 123.2V112h1V123.2zM421.1 124.4V115.5h1V124.4zM422.1 123.4V119.8h1V123.4zM423.1 124.5V114.2h1V124.5zM426.1 124.2V121.5h1V124.2zM428.1 124.1V112.4h1V124.1zM429.1 124.5V113.9h1V124.5zM430.1 126V118h1V126zM431.1 124.8V121.3h1V124.8zM432.1 124.9V116.3h1V124.9zM433.1 126V118.6h1V126zM436.1 125.4V119.7h1V125.4zM438.1 126.2V121.7h1V126.2zM439.1 126.4V123.9h1V126.4zM440.1 126.6V123.5h1V126.6zM441.1 126.3V117.5h1V126.3zM442.1 125.7V117.5h1V125.7zM443.1 126.4V120.5h1V126.4zM444.1 127V120.4h1V127zM445.1 126.5V121.2h1V126.5zM446.1 125.6V123.8h1V125.6zM447.1 126.2V123.4h1V126.2zM449.1 125.9V123.1h1V125.9zM450.1 124.4V116.7h1V124.4zM451.1 125.3V122.3h1V125.3zM452.1 124.8V113.1h1V124.8zM453.1 124.3V113.8h1V124.3zM454.1 124.3V120.3h1V124.3zM456.1 124V120.7h1V124zM457.1 124.3V120.6h1V124.3zM458.1 124.8V115.4h1V124.8zM460.1 126.1V116.4h1V126.1zM461.1 125.4V119h1V125.4zM462.1 125.2V118.1h1V125.2zM464.1 125.4V120.8h1V125.4zM465.1 125.4V116.8h1V125.4zM466.1 125.6V123.3h1V125.6zM468.1 125.8V122.6h1V125.8zM470.1 126.9V117.2h1V126.9zM471.1 125.6V123.1h1V125.6zM472.1 126.3V116.6h1V126.3zM473.1 125.1V117h1V125.1zM475.1 126.3V122.2h1V126.3zM476.1 125.7V118.2h1V125.7zM477.1 125.7V120.2h1V125.7zM478.1 125.8V121.5h1V125.8zM481.1 126.8V124.7h1V126.8zM482.1 127.2V124.8h1V127.2zM483.1 126.3V121.6h1V126.3zM484.1 127V121.1h1V127zM485.1 125.5V123.1h1V125.5zM487.1 126.3V117.6h1V126.3zM489.1 126.6V118.4h1V126.6zM490.1 125.4V121.7h1V125.4zM492.1 126.7V120.1h1V126.7zM493.1 125.9V121.5h1V125.9zM494.1 126.4V122.3h1V126.4zM496.1 126.6V124.3h1V126.6zM497.1 127.2V124.6h1V127.2zM498.1 125.9V118.9h1V125.9zM499.1 126.1V119.1h1V126.1zM500.1 126.7V119.7h1V126.7zM501.1 126.4V123.3h1V126.4zM502.1 125.8V119.3h1V125.8zM503.1 126.6V120.4h1V126.6zM504.1 125.3V118h1V125.3zM505.1 126.3V120.3h1V126.3zM506.1 125.5V121.7h1V125.5zM507.1 124.8V121.2h1V124.8zM508.1 126.3V117.4h1V126.3zM510.1 125.8V121.6h1V125.8zM511.1 126.8V123.5h1V126.8zM512.1 126.7V120.2h1V126.7zM513.1 127.1V120.6h1V127.1zM514.1 126.5V123.3h1V126.5zM515.1 127.2V119.6h1V127.2zM516.1 126.2V124h1V126.2zM517.1 126.6V119.7h1V126.6zM519.1 125.9V118.6h1V125.9zM521.1 125.2V116.1h1V125.2zM522.1 123.8V114.1h1V123.8zM523.1 125.7V119.1h1V125.7zM527.1 124.8V117.9h1V124.8zM528.1 124.2V115.5h1V124.2zM529.1 124.6V117.5h1V124.6zM531.1 123.9V120.2h1V123.9zM532.1 125.3V114.8h1V125.3zM534.1 124.7V119.8h1V124.7zM535.1 123.9V119.7h1V123.9zM536.1 123.5V116.3h1V123.5zM537.1 124.4V117.7h1V124.4zM539.1 124.2V120.2h1V124.2zM542.1 126.5V117.9h1V126.5zM543.1 125.6V123.5h1V125.6zM544.1 127V117.7h1V127zM546.1 126.9V121.6h1V126.9zM548.1 126.5V121.1h1V126.5zM549.1 125.9V118.3h1V125.9zM550.1 125.7V119.3h1V125.7zM551.1 124.7V115.7h1V124.7zM552.1 124.7V121.2h1V124.7zM553.1 124.9V119.3h1V124.9zM558.1 125.9V118.3h1V125.9zM561.1 127.1V122h1V127.1zM562.1 127V123.6h1V127zM563.1 125V118.4h1V125zM565.1 124.8V120.4h1V124.8zM566.1 125.7V116.3h1V125.7zM569.1 123.4V117.1h1V123.4zM571.1 122.8V112.1h1V122.8zM572.1 123.7V109h1V123.7zM573.1 122.6V118h1V122.6zM574.1 122.9V118.2h1V122.9zM575.1 123V117.3h1V123zM576.1 122.9V112.2h1V122.9zM578.1 125.3V120.7h1V125.3zM579.1 124.7V112.1h1V124.7zM580.1 124.4V112h1V124.4zM581.1 125V115.2h1V125zM582.1 123.1V118.8h1V123.1zM584.1 124.9V118.8h1V124.9zM585.1 123.7V110.7h1V123.7zM586.1 125V113.9h1V125zM587.1 123.3V118.5h1V123.3zM589.1 124.2V113.3h1V124.2zM590.1 125.6V121.5h1V125.6zM591.1 124.2V116.8h1V124.2zM592.1 125.1V116.2h1V125.1zM593.1 124V117.2h1V124zM594.1 123.9V121.8h1V123.9zM595.1 125.9V114.5h1V125.9zM597.1 124.8V116.6h1V124.8zM598.1 126V121.2h1V126zM599.1 125.9V119.9h1V125.9zM600.1 126.4V121.8h1V126.4zM601.1 126.5V120.1h1V126.5zM602.1 126.8V124.6h1V126.8zM603.1 126.6V123.6h1V126.6zM604.1 127.5V122.6h1V127.5zM605.1 127.3V121h1V127.3zM606.1 127.1V119h1V127.1zM607.1 125.6V117.4h1V125.6zM608.1 126.3V119.9h1V126.3zM610.1 125.4V121h1V125.4zM611.1 125.5V116.4h1V125.5zM613.1 124.4V116.1h1V124.4z" fill="#0090ff" fill-opacity="0.2"/>
<path d="M367.1 121.5V109.3h1V121.5zM369.1 123.5V114.3h1V123.5zM373.1 126.7V123.9h1V126.7zM374.1 126.2V123.2h1V126.2zM375.1 126.9V121.5h1V126.9zM376.1 126.9V120.6h1V126.9zM377.1 127V120.7h1V127zM378.1 126.6V124h1V126.6zM379.1 126.4V122.6h1V126.4zM380.1 126.5V121.7h1V126.5zM381.1 126.3V119.1h1V126.3zM382.1 127.1V123.5h1V127.1zM384.1 127.1V120.6h1V127.1zM385.1 126.5V118.6h1V126.5zM387.1 126.7V116.8h1V126.7zM388.1 126.6V117h1V126.6zM389.1 125V117.5h1V125zM391.1 126.1V119h1V126.1zM392.1 126.3V115.9h1V126.3zM393.1 124.7V123h1V124.7zM394.1 125V119.9h1V125zM395.1 125V115.2h1V125zM397.1 125.2V120.2h1V125.2zM398.1 125.5V119.9h1V125.5zM399.1 123.7V113.3h1V123.7zM401.1 125.7V118.7h1V125.7zM403.1 123.1V121.1h1V123.1zM404.1 124.1V113.8h1V124.1zM407.1 122.7V109.3h1V122.7zM408.1 123.1V119.8h1V123.1zM409.1 124.7V114.3h1V124.7zM410.1 122.4V115.8h1V122.4zM413.1 123.1V109.6h1V123.1zM414.1 122.2V118h1V122.2zM415.1 123.8V108h1V123.8zM416.1 123.6V110.9h1V123.6zM417.1 122.2V114.4h1V122.2zM418.1 123.3V110h1V123.3zM420.1 122.8V117.3h1V122.8zM421.1 124.6V119h1V124.6zM422.1 124.5V113.5h1V124.5zM424.1 125V116.7h1V125zM425.1 125.6V119.9h1V125.6zM427.1 125.1V112.3h1V125.1zM430.1 125.6V120.8h1V125.6zM431.1 126.3V119h1V126.3zM433.1 126.4V121.1h1V126.4zM434.1 125.3V119h1V125.3zM436.1 125.6V116.1h1V125.6zM438.1 125.5V118.7h1V125.5zM440.1 126V121.1h1V126zM441.1 126.5V120.9h1V126.5zM442.1 126.5V118.6h1V126.5zM443.1 127V121.9h1V127zM444.1 126.5V119.1h1V126.5zM445.1 126.9V121.2h1V126.9zM446.1 125.6V123.8h1V125.6zM447.1 126.6V120.1h1V126.6zM448.1 126.6V118.1h1V126.6zM449.1 125.8V115.3h1V125.8zM450.1 126V118.8h1V126zM452.1 125V118.8h1V125zM454.1 125V113.6h1V125zM455.1 123.7V110.9h1V123.7zM456.1 123.5V120.8h1V123.5zM457.1 124.6V120.5h1V124.6zM458.1 125.5V120.4h1V125.5zM459.1 126V120.5h1V126zM460.1 125.8V118h1V125.8zM461.1 125.4V122h1V125.4zM462.1 125.8V122.9h1V125.8zM463.1 125.3V123h1V125.3zM465.1 126.3V117.1h1V126.3zM466.1 125.4V123h1V125.4zM467.1 127V120.3h1V127zM468.1 126.1V117.4h1V126.1zM469.1 126.6V122.8h1V126.6zM470.1 125.4V121h1V125.4zM472.1 126.4V121.8h1V126.4zM473.1 125.5V120.8h1V125.5zM476.1 126.4V118.5h1V126.4zM478.1 126.9V122.6h1V126.9zM479.1 126.3V121.6h1V126.3zM480.1 126.9V124h1V126.9zM481.1 126.6V124.2h1V126.6zM482.1 126V124.1h1V126zM484.1 125.9V118.7h1V125.9zM486.1 125.8V121.8h1V125.8zM487.1 125.8V120.7h1V125.8zM489.1 125.4V118.6h1V125.4zM490.1 125.3V118.7h1V125.3zM491.1 125.4V117.1h1V125.4zM493.1 126.1V118.3h1V126.1zM494.1 126.4V119.7h1V126.4zM496.1 126.2V124.8h1V126.2zM497.1 126.2V124.2h1V126.2zM498.1 126.8V121h1V126.8zM499.1 125.9V122.9h1V125.9zM500.1 127.1V123.8h1V127.1zM502.1 126.3V121.4h1V126.3zM503.1 126.9V123.6h1V126.9zM506.1 125.6V120.3h1V125.6zM507.1 124.4V121.8h1V124.4zM508.1 126V121.4h1V126zM509.1 125.8V123h1V125.8zM510.1 126V123.6h1V126zM513.1 127.2V122h1V127.2zM514.1 126.8V125h1V126.8zM515.1 127.3V121h1V127.3zM517.1 126.7V119.3h1V126.7zM519.1 124.9V119.6h1V124.9zM520.1 124.5V114.5h1V124.5zM521.1 125.2V113.7h1V125.2zM522.1 124.8V115.2h1V124.8zM524.1 125.5V119.4h1V125.5zM525.1 124.6V119.2h1V124.6zM526.1 124V117.8h1V124zM527.1 123.7V113.3h1V123.7zM528.1 124.1V119.9h1V124.1zM530.1 124.3V118.4h1V124.3zM531.1 123.6V120.7h1V123.6zM533.1 124V118.6h1V124zM534.1 125.7V116.9h1V125.7zM536.1 124.7V115.3h1V124.7zM538.1 124.1V116.5h1V124.1zM540.1 124.5V117.6h1V124.5zM541.1 126.4V121.8h1V126.4zM543.1 126.4V120.3h1V126.4zM544.1 125.7V121h1V125.7zM545.1 126.9V123.4h1V126.9zM546.1 126.2V120h1V126.2zM547.1 125.9V121.3h1V125.9zM548.1 125.8V120.9h1V125.8zM549.1 125.4V115.9h1V125.4zM550.1 126.3V120.3h1V126.3zM551.1 126V121.8h1V126zM552.1 124.3V121.9h1V124.3zM553.1 124.5V113.7h1V124.5zM555.1 124V112.5h1V124zM556.1 125.8V113.3h1V125.8zM557.1 125V119.1h1V125zM558.1 125.8V121.7h1V125.8zM560.1 126.7V125h1V126.7zM561.1 126.8V121.2h1V126.8zM562.1 125.8V123.7h1V125.8zM564.1 125.5V115.5h1V125.5zM565.1 124.6V120.9h1V124.6zM566.1 125.8V121.8h1V125.8zM568.1 124.2V119.7h1V124.2zM569.1 124.2V116.5h1V124.2zM570.1 122.5V114.3h1V122.5zM571.1 123.7V110h1V123.7zM572.1 124.4V111.2h1V124.4zM574.1 124V115.7h1V124zM575.1 122.7V118.5h1V122.7zM576.1 124.6V120.5h1V124.6zM578.1 125.2V112h1V125.2zM580.1 124.2V113.2h1V124.2zM581.1 125.1V111.2h1V125.1zM583.1 123.4V115.3h1V123.4zM584.1 124.4V119.4h1V124.4zM588.1 123.4V120.6h1V123.4zM589.1 125.5V111.7h1V125.5zM591.1 125.5V118.2h1V125.5zM592.1 125.7V113.6h1V125.7zM593.1 124.1V121.1h1V124.1zM594.1 123.7V118.4h1V123.7zM595.1 124.1V118.6h1V124.1zM597.1 125.8V119.2h1V125.8zM598.1 126.3V118.3h1V126.3zM599.1 125.6V119.5h1V125.6zM600.1 126V123.6h1V126zM601.1 126.1V122.3h1V126.1zM602.1 127.1V124.8h1V127.1zM603.1 126.8V123.6h1V126.8zM604.1 127.2V120.3h1V127.2zM605.1 127.2V124.7h1V127.2zM608.1 125.1V118h1V125.1zM609.1 126.5V118.6h1V126.5zM610.1 125.4V120.9h1V125.4zM611.1 125.7V116h1V125.7zM612.1 124.7V118.1h1V124.7zM613.1 123.8V115.2h1V123.8z" fill="#0090ff" fill-opacity="0.2"/>
<path d="M76.8 127.3L78.5 121L81.2 116.7L84 115.3L87.4 114.9L94.5 116.7L103.4 119.3L110.5 117.5L119.3 116.3L128.2 116.3L137.1 115.8L145.9 116.3L153 116.3L157 114L161.9 111.3L169 113.1L174.3 114L181.4 112.8L186.7 110.4L195.6 110.4L202.7 112.2L213.3 112.2L222 115L231.3 113.4L237 114L242.7 114L248.4 113.1L254 114L261.6 114L269.1 113.1L274.8 112.5L280.5 113.4L286.2 114L295.6 115L305.1 115.3L314.5 114L324 114L333.4 114L342.9 114.6L352.3 114.6L361.8 114.6L366.5 115.5L369.3 120.6L372.3 125.2L378.4 124.9L384.6 124.4L390.7 123.6L398.4 122.1L406.1 120.9L413.8 119.8L418.4 120.3L424.5 121.3L432.2 123.3L439.9 124.4L446 124.4L452.2 122.1L456 120.9L459.8 123.6L467.5 124.4L473.7 123.3L481.4 125.2L486 123.6L489.8 123.8L494.6 125.1L501 124.6L507.3 123L515.3 125.4L521.7 122.3L528.1 120.7L532.8 121.5L539.2 122.3L545.6 125.1L550.4 123L555.2 121.5L560 125.4L564.7 123L569.5 120.7L577.5 120.7L587.1 121.5L595 122.3L603 125.8L607.8 123.8L612.6 122.3L613.8 121.5" stroke="#0090ff" stroke-width="2.6" fill="none" stroke-linejoin="round"/>
<path d="M120.4 129.8v-2.5M120.4 31.8v2.5M169.8 129.8v-2.5M169.8 31.8v2.5M219.1 129.8v-2.5M219.1 31.8v2.5M268.5 129.8v-2.5M268.5 31.8v2.5M317.8 129.8v-2.5M317.8 31.8v2.5M367.2 129.8v-2.5M367.2 31.8v2.5M416.6 129.8v-2.5M416.6 31.8v2.5M465.9 129.8v-2.5M465.9 31.8v2.5M515.3 129.8v-2.5M515.3 31.8v2.5M564.6 129.8v-2.5M564.6 31.8v2.5M614 129.8v-2.5M614 31.8v2.5M76.6 129.8h2.5M613.8 129.8h-2.5M76.6 117.6h2.5M613.8 117.6h-2.5M76.6 105.3h2.5M613.8 105.3h-2.5M76.6 93.1h2.5M613.8 93.1h-2.5M76.6 80.8h2.5M613.8 80.8h-2.5M76.6 68.6h2.5M613.8 68.6h-2.5M76.6 56.3h2.5M613.8 56.3h-2.5M76.6 44.1h2.5M613.8 44.1h-2.5M76.6 31.8h2.5M613.8 31.8h-2.5" stroke="#50c0f0" stroke-width="1.2" fill="none" opacity="0.8"/>
<rect x="76.6" y="31.8" width="537.2" height="98" fill="none" stroke="#50c0f0" stroke-width="2" opacity="0.45"/>
<g font-family="'DejaVu Sans','Liberation Sans',sans-serif" font-size="12.5" fill="#2e2e2e" stroke="#2e2e2e" stroke-width="0.25" filter="url(#tb)"><text transform="translate(64.8 132.2) scale(1 1.07)" text-anchor="end">0</text><text transform="translate(64.8 120) scale(1 1.07)" text-anchor="end">500</text><text transform="translate(64.8 107.7) scale(1 1.07)" text-anchor="end">1000</text><text transform="translate(64.8 95.5) scale(1 1.07)" text-anchor="end">1500</text><text transform="translate(64.8 83.2) scale(1 1.07)" text-anchor="end">2000</text><text transform="translate(64.8 71) scale(1 1.07)" text-anchor="end">2500</text><text transform="translate(64.8 58.7) scale(1 1.07)" text-anchor="end">3000</text><text transform="translate(64.8 46.5) scale(1 1.07)" text-anchor="end">3500</text><text transform="translate(64.8 34.2) scale(1 1.07)" text-anchor="end">4000</text><text transform="translate(137.4 148) scale(1 1.07)" text-anchor="end">Jun 24</text><text transform="translate(137.4 163) scale(1 1.07)" text-anchor="end">18:00</text><text transform="translate(186.8 148) scale(1 1.07)" text-anchor="end">Jun 25</text><text transform="translate(186.8 163) scale(1 1.07)" text-anchor="end">00:00</text><text transform="translate(236.1 148) scale(1 1.07)" text-anchor="end">Jun 25</text><text transform="translate(236.1 163) scale(1 1.07)" text-anchor="end">06:00</text><text transform="translate(285.5 148) scale(1 1.07)" text-anchor="end">Jun 25</text><text transform="translate(285.5 163) scale(1 1.07)" text-anchor="end">12:00</text><text transform="translate(334.8 148) scale(1 1.07)" text-anchor="end">Jun 25</text><text transform="translate(334.8 163) scale(1 1.07)" text-anchor="end">18:00</text><text transform="translate(384.2 148) scale(1 1.07)" text-anchor="end">Jun 26</text><text transform="translate(384.2 163) scale(1 1.07)" text-anchor="end">00:00</text><text transform="translate(433.6 148) scale(1 1.07)" text-anchor="end">Jun 26</text><text transform="translate(433.6 163) scale(1 1.07)" text-anchor="end">06:00</text><text transform="translate(482.9 148) scale(1 1.07)" text-anchor="end">Jun 26</text><text transform="translate(482.9 163) scale(1 1.07)" text-anchor="end">12:00</text><text transform="translate(532.3 148) scale(1 1.07)" text-anchor="end">Jun 26</text><text transform="translate(532.3 163) scale(1 1.07)" text-anchor="end">18:00</text><text transform="translate(581.6 148) scale(1 1.07)" text-anchor="end">Jun 27</text><text transform="translate(581.6 163) scale(1 1.07)" text-anchor="end">00:00</text><text transform="translate(631 148) scale(1 1.07)" text-anchor="end">Jun 27</text><text transform="translate(631 163) scale(1 1.07)" text-anchor="end">06:00</text></g>
<g font-family="'DejaVu Sans','Liberation Sans',sans-serif" font-size="12.8" fill="#2e2e2e" stroke="#2e2e2e" stroke-width="0.25" filter="url(#tb)"><text transform="translate(742.3 42.6) scale(1 1.07)" text-anchor="end">execs/sec</text></g>
<path d="M753.8 39.2H791.4" stroke="#0090ff" stroke-width="2.5"/>
<path d="M129.5 195.5V373.2M177.8 195.5V373.2M226.1 195.5V373.2M274.4 195.5V373.2M322.7 195.5V373.2M371.1 195.5V373.2M419.4 195.5V373.2M467.7 195.5V373.2M516 195.5V373.2M564.3 195.5V373.2M85.7 343.5H612.7M85.7 313.8H612.7M85.7 284.2H612.7M85.7 254.5H612.7M85.7 224.8H612.7" stroke="#d6d6d6" stroke-width="1" stroke-dasharray="1.3 2.1" fill="none"/>
<path d="M85.7 373.2L85.7 372.5L87 369L90 366.2L120 366.2L200 365.8L300 365.4L371.5 365.2L373.4 360L376 345L378.8 325L381.5 311.1L383.2 304.4L388.8 292.6L393.8 280.7L395.6 274L401.4 258.8L405 253.7L410.2 245.3L412.3 235.1L419 232.6L430 229.4L436 226.5L440.3 224.3L444.6 223.2L612.7 223.2L612.7 373.2Z" fill="#000" fill-opacity="0.2"/>
<path d="M85.7 373.2L85.7 372.8L88 369.5L90 367.2L120 367.2L200 366.8L300 366.4L371.5 366L375 361L380.2 356.9L387.8 353.8L392.4 344.7L396.9 328L401.5 308.2L403.8 296L408.9 280.7L412.2 267.2L414.8 255.4L417.3 250.3L420.7 247L425.9 237L427.4 232L431.7 228.5L438 225.5L444.6 223.5L445 223.2L445 356.7L460.9 223.2L462 223.2L462.1 356.7L477.8 223.2L478.2 223.2L478.3 356.7L494.1 223.2L494.7 223.2L494.8 356.7L510.3 223.2L511.2 223.2L511.4 353L514.5 330L518.4 298L522.4 257.2L523.8 253.1L530 250.4L538.5 245L538.6 223.2L540.4 223.2L540.6 356.7L554 223.2L556.1 223.2L556.2 356.7L564.9 298L568.2 253.1L569.6 243.7L579.1 238.3L588.5 232.9L595.6 229.5L595.8 223.2L595.9 356.7L603 310L608.8 245L610.1 243L612.7 242.5L612.7 373.2Z" fill="#f0f0f0" fill-opacity="0.5"/>
<path d="M85.7 373.1H372.6" stroke="#d070d8" stroke-width="3.8"/>
<path d="M372.6 374.3H612.7" stroke="#e080c8" stroke-width="1.6"/>
<path d="M85.8 372.4L87 369L89.3 367.1L101.7 367.6L117 368.9L135 370L150 371.2L165 372.8L200 373L372 373L372.6 370.5L373.4 367.5L374.1 364.5L375.6 361.4L376.4 356.9L377.9 352.3L378.7 347.8L379.4 343.2L380.2 338.6L381 334.1L381.7 331L382.2 325L382.7 314L385.5 311.3L388 306.5L389.5 304.4L390.5 302L391.8 299L393.1 294L394.5 290L396.2 284.1L398 280L401.3 274L403 270L404.6 265.5L406.5 264L408 263L409.5 259L410.5 255.4L412 251L413.1 247L414.3 244.5L415.6 243.6L420 243L425 242.5L430 241.9L435 240.5L440 238.3L445.4 236.9L448.1 237.6L457.6 238.5L467 239L480.5 240.3L494 241.6L503.5 242.3L511.6 243.4L521.1 244L530 244.8L538.5 245.7L552 247.1L565.5 248L576.4 248.8L585.8 250.4L596.6 251.1L606.1 252.5L612.7 252.9" stroke="#0090ff" stroke-width="2.6" fill="none" stroke-linejoin="round"/>
<path d="M372.5 373L374.2 371L380 370.6L400 370.5L415 370.7L423.4 371L425 372.3" stroke="#c00080" stroke-width="2" fill="none"/>
<path d="M85.7 373.1H372.6" stroke="#c000f0" stroke-width="2.2" stroke-opacity="0.72"/>
<path d="M372.6 372.6H612.7" stroke="#b030f0" stroke-width="2.8"/>
<path d="M129.5 373.2v-2.5M129.5 195.5v2.5M177.8 373.2v-2.5M177.8 195.5v2.5M226.1 373.2v-2.5M226.1 195.5v2.5M274.4 373.2v-2.5M274.4 195.5v2.5M322.7 373.2v-2.5M322.7 195.5v2.5M371.1 373.2v-2.5M371.1 195.5v2.5M419.4 373.2v-2.5M419.4 195.5v2.5M467.7 373.2v-2.5M467.7 195.5v2.5M516 373.2v-2.5M516 195.5v2.5M564.3 373.2v-2.5M564.3 195.5v2.5M612.6 373.2v-2.5M612.6 195.5v2.5M85.7 373.2h2.5M612.7 373.2h-2.5M85.7 343.5h2.5M612.7 343.5h-2.5M85.7 313.8h2.5M612.7 313.8h-2.5M85.7 284.2h2.5M612.7 284.2h-2.5M85.7 254.5h2.5M612.7 254.5h-2.5M85.7 224.8h2.5M612.7 224.8h-2.5M85.7 195.1h2.5M612.7 195.1h-2.5" stroke="#50c0f0" stroke-width="1.2" fill="none" opacity="0.8"/>
<rect x="85.7" y="195.5" width="527" height="177.7" fill="none" stroke="#50c0f0" stroke-width="2" opacity="0.45"/>
<g font-family="'DejaVu Sans','Liberation Sans',sans-serif" font-size="12.5" fill="#2e2e2e" stroke="#2e2e2e" stroke-width="0.25" filter="url(#tb)"><text transform="translate(73.4 377.2) scale(1 1.07)" text-anchor="end">0</text><text transform="translate(73.4 347.5) scale(1 1.07)" text-anchor="end">10000</text><text transform="translate(73.4 317.8) scale(1 1.07)" text-anchor="end">20000</text><text transform="translate(73.4 288.2) scale(1 1.07)" text-anchor="end">30000</text><text transform="translate(73.4 258.5) scale(1 1.07)" text-anchor="end">40000</text><text transform="translate(73.4 228.8) scale(1 1.07)" text-anchor="end">50000</text><text transform="translate(73.4 199.1) scale(1 1.07)" text-anchor="end">60000</text><text transform="translate(146.5 391.4) scale(1 1.07)" text-anchor="end">Jun 24</text><text transform="translate(146.5 406.4) scale(1 1.07)" text-anchor="end">18:00</text><text transform="translate(194.8 391.4) scale(1 1.07)" text-anchor="end">Jun 25</text><text transform="translate(194.8 406.4) scale(1 1.07)" text-anchor="end">00:00</text><text transform="translate(243.1 391.4) scale(1 1.07)" text-anchor="end">Jun 25</text><text transform="translate(243.1 406.4) scale(1 1.07)" text-anchor="end">06:00</text><text transform="translate(291.4 391.4) scale(1 1.07)" text-anchor="end">Jun 25</text><text transform="translate(291.4 406.4) scale(1 1.07)" text-anchor="end">12:00</text><text transform="translate(339.7 391.4) scale(1 1.07)" text-anchor="end">Jun 25</text><text transform="translate(339.7 406.4) scale(1 1.07)" text-anchor="end">18:00</text><text transform="translate(388.1 391.4) scale(1 1.07)" text-anchor="end">Jun 26</text><text transform="translate(388.1 406.4) scale(1 1.07)" text-anchor="end">00:00</text><text transform="translate(436.4 391.4) scale(1 1.07)" text-anchor="end">Jun 26</text><text transform="translate(436.4 406.4) scale(1 1.07)" text-anchor="end">06:00</text><text transform="translate(484.7 391.4) scale(1 1.07)" text-anchor="end">Jun 26</text><text transform="translate(484.7 406.4) scale(1 1.07)" text-anchor="end">12:00</text><text transform="translate(533 391.4) scale(1 1.07)" text-anchor="end">Jun 26</text><text transform="translate(533 406.4) scale(1 1.07)" text-anchor="end">18:00</text><text transform="translate(581.3 391.4) scale(1 1.07)" text-anchor="end">Jun 27</text><text transform="translate(581.3 406.4) scale(1 1.07)" text-anchor="end">00:00</text><text transform="translate(629.6 391.4) scale(1 1.07)" text-anchor="end">Jun 27</text><text transform="translate(629.6 406.4) scale(1 1.07)" text-anchor="end">06:00</text></g>
<g font-family="'DejaVu Sans','Liberation Sans',sans-serif" font-size="12.9" fill="#2e2e2e" stroke="#2e2e2e" stroke-width="0.25" filter="url(#tb)"><text transform="translate(742.3 207.1) scale(1 1.07)" text-anchor="end">total paths</text><text transform="translate(742.3 222) scale(1 1.07)" text-anchor="end">current path</text><text transform="translate(742.3 236.9) scale(1 1.07)" text-anchor="end">pending paths</text><text transform="translate(742.3 251.9) scale(1 1.07)" text-anchor="end">pending favs</text><text transform="translate(742.3 266.9) scale(1 1.07)" text-anchor="end">cycles done</text></g>
<rect x="753" y="199.7" width="37.5" height="7.4" fill="#cccccc"/>
<rect x="753" y="214.7" width="37.5" height="7.4" fill="#f6f6f6"/>
<path d="M753 233.6H791.4" stroke="#0090ff" stroke-width="2.5"/>
<path d="M753 248.7H791.4" stroke="#c00080" stroke-width="2.5"/>
<path d="M753 263.7H791.4" stroke="#c000f0" stroke-width="2.5"/>
<path d="M104.7 435.7V533.7M155.6 435.7V533.7M206.5 435.7V533.7M257.4 435.7V533.7M308.3 435.7V533.7M359.2 435.7V533.7M410.2 435.7V533.7M461.1 435.7V533.7M512 435.7V533.7M562.9 435.7V533.7M59.4 521.5H613.8M59.4 509.2H613.8M59.4 497H613.8M59.4 484.7H613.8M59.4 472.5H613.8M59.4 460.2H613.8M59.4 448H613.8" stroke="#d6d6d6" stroke-width="1" stroke-dasharray="1.3 2.1" fill="none"/>
<path d="M59.7 531.7L63.5 530L67.8 528.9L71 527.4L76.3 527L82.7 526.8L88 525.7L90.1 524.7L101.8 524.3L108.2 522.6L116.7 521.5L118.8 520.4L125.2 518.3L129.5 517.2L135.9 516.2L140.1 514L148.6 513L157.1 511.9L161.4 507.7L169.9 505.5L176.3 503.4L182.7 500.2L186.9 499.1L193.3 498.1L197.6 497L203.9 494.9L210.3 493.8L216.7 490.6L223.1 488.5L234.5 487.9L252.2 487.4L254.6 486L260.5 485.6L262.8 484.4L272.3 483.9L275.8 481.5L281.7 480.1L286.5 478.9L293.6 478.5L295.9 477.3L359.8 477.3L360.9 472.6L364.5 470.7L381 469.7L383.4 469L613.8 469L613.8 533.7L59.6 533.7Z" fill="#c00080" fill-opacity="0.2"/>
<path d="M59.7 531.7L63.5 530L67.8 528.9L71 527.4L76.3 527L82.7 526.8L88 525.7L90.1 524.7L101.8 524.3L108.2 522.6L116.7 521.5L118.8 520.4L125.2 518.3L129.5 517.2L135.9 516.2L140.1 514L148.6 513L157.1 511.9L161.4 507.7L169.9 505.5L176.3 503.4L182.7 500.2L186.9 499.1L193.3 498.1L197.6 497L203.9 494.9L210.3 493.8L216.7 490.6L223.1 488.5L234.5 487.9L252.2 487.4L254.6 486L260.5 485.6L262.8 484.4L272.3 483.9L275.8 481.5L281.7 480.1L286.5 478.9L293.6 478.5L295.9 477.3L359.8 477.3L360.9 472.6L364.5 470.7L381 469.7L383.4 469L613.8 469" stroke="#c00080" stroke-width="2.6" fill="none"/>
<path d="M59.7 532.1L61.4 526.8L64.6 524.7L66.7 521.5L67.8 514L71 513L74.1 511.9L75.2 508.7L77.3 508.3L79.5 505.5L82.7 501.3L84.8 496L89 494.9L93.3 493.8L95.4 490.6L99.7 489.6L101.8 484.9L108.2 484.3L116.7 483.2L119.9 480L123.1 478.5L125.2 475.7L126.3 472.6L135.9 472.6L147.6 472.1L149.7 468.3L151.8 465.7L159.3 465.1L161.4 461.9L165.6 460.9L172 459.8L176.3 458.7L182.7 457.7L184.8 456L203.9 456L213.5 455.5L225.2 455.1L227.4 453.6L243.9 453.6L245.1 451.7L252.2 451.7L254.6 450.1L288.8 449.4L291.2 448.4L301.8 448.4L304.2 447L420 447L422.4 446.5L496.8 446.5L498 445.4L539.4 444.9L540.6 444.2L574.8 444.2L576 442.5L613.8 442.5" stroke="#c000f0" stroke-width="2.6" fill="none"/>
<path d="M59.6 533.4L60.5 529.3H560L562 528.9H613.8" stroke="#0090ff" stroke-width="2.6" fill="none"/>
<path d="M104.7 533.7v-2.5M104.7 435.7v2.5M155.6 533.7v-2.5M155.6 435.7v2.5M206.5 533.7v-2.5M206.5 435.7v2.5M257.4 533.7v-2.5M257.4 435.7v2.5M308.3 533.7v-2.5M308.3 435.7v2.5M359.2 533.7v-2.5M359.2 435.7v2.5M410.2 533.7v-2.5M410.2 435.7v2.5M461.1 533.7v-2.5M461.1 435.7v2.5M512 533.7v-2.5M512 435.7v2.5M562.9 533.7v-2.5M562.9 435.7v2.5M613.8 533.7v-2.5M613.8 435.7v2.5M59.4 533.7h2.5M613.8 533.7h-2.5M59.4 521.5h2.5M613.8 521.5h-2.5M59.4 509.2h2.5M613.8 509.2h-2.5M59.4 497h2.5M613.8 497h-2.5M59.4 484.7h2.5M613.8 484.7h-2.5M59.4 472.5h2.5M613.8 472.5h-2.5M59.4 460.2h2.5M613.8 460.2h-2.5M59.4 448h2.5M613.8 448h-2.5M59.4 435.7h2.5M613.8 435.7h-2.5" stroke="#50c0f0" stroke-width="1.2" fill="none" opacity="0.8"/>
<rect x="59.4" y="435.7" width="554.4" height="98" fill="none" stroke="#50c0f0" stroke-width="2" opacity="0.45"/>
<g font-family="'DejaVu Sans','Liberation Sans',sans-serif" font-size="12.5" fill="#2e2e2e" stroke="#2e2e2e" stroke-width="0.25" filter="url(#tb)"><text transform="translate(46.4 536.2) scale(1 1.07)" text-anchor="end">0</text><text transform="translate(46.4 524) scale(1 1.07)" text-anchor="end">10</text><text transform="translate(46.4 511.7) scale(1 1.07)" text-anchor="end">20</text><text transform="translate(46.4 499.5) scale(1 1.07)" text-anchor="end">30</text><text transform="translate(46.4 487.2) scale(1 1.07)" text-anchor="end">40</text><text transform="translate(46.4 475) scale(1 1.07)" text-anchor="end">50</text><text transform="translate(46.4 462.7) scale(1 1.07)" text-anchor="end">60</text><text transform="translate(46.4 450.5) scale(1 1.07)" text-anchor="end">70</text><text transform="translate(46.4 438.2) scale(1 1.07)" text-anchor="end">80</text><text transform="translate(121.7 551.9) scale(1 1.07)" text-anchor="end">Jun 24</text><text transform="translate(121.7 566.9) scale(1 1.07)" text-anchor="end">18:00</text><text transform="translate(172.6 551.9) scale(1 1.07)" text-anchor="end">Jun 25</text><text transform="translate(172.6 566.9) scale(1 1.07)" text-anchor="end">00:00</text><text transform="translate(223.5 551.9) scale(1 1.07)" text-anchor="end">Jun 25</text><text transform="translate(223.5 566.9) scale(1 1.07)" text-anchor="end">06:00</text><text transform="translate(274.4 551.9) scale(1 1.07)" text-anchor="end">Jun 25</text><text transform="translate(274.4 566.9) scale(1 1.07)" text-anchor="end">12:00</text><text transform="translate(325.3 551.9) scale(1 1.07)" text-anchor="end">Jun 25</text><text transform="translate(325.3 566.9) scale(1 1.07)" text-anchor="end">18:00</text><text transform="translate(376.2 551.9) scale(1 1.07)" text-anchor="end">Jun 26</text><text transform="translate(376.2 566.9) scale(1 1.07)" text-anchor="end">00:00</text><text transform="translate(427.2 551.9) scale(1 1.07)" text-anchor="end">Jun 26</text><text transform="translate(427.2 566.9) scale(1 1.07)" text-anchor="end">06:00</text><text transform="translate(478.1 551.9) scale(1 1.07)" text-anchor="end">Jun 26</text><text transform="translate(478.1 566.9) scale(1 1.07)" text-anchor="end">12:00</text><text transform="translate(529 551.9) scale(1 1.07)" text-anchor="end">Jun 26</text><text transform="translate(529 566.9) scale(1 1.07)" text-anchor="end">18:00</text><text transform="translate(579.9 551.9) scale(1 1.07)" text-anchor="end">Jun 27</text><text transform="translate(579.9 566.9) scale(1 1.07)" text-anchor="end">00:00</text><text transform="translate(630.8 551.9) scale(1 1.07)" text-anchor="end">Jun 27</text><text transform="translate(630.8 566.9) scale(1 1.07)" text-anchor="end">06:00</text></g>
<g font-family="'DejaVu Sans','Liberation Sans',sans-serif" font-size="12.7" fill="#2e2e2e" stroke="#2e2e2e" stroke-width="0.25" filter="url(#tb)"><text transform="translate(742.3 447.4) scale(1 1.07)" text-anchor="end">uniq crashes</text><text transform="translate(742.3 462.2) scale(1 1.07)" text-anchor="end">uniq hangs</text><text transform="translate(742.3 477.2) scale(1 1.07)" text-anchor="end">levels</text></g>
<path d="M754.3 443.5H791.4" stroke="#c00080" stroke-width="2.5"/>
<path d="M754.3 458.6H791.4" stroke="#c000f0" stroke-width="2.5"/>
<path d="M754.3 473.7H791.4" stroke="#0090ff" stroke-width="2.5"/>
</svg>
</body></html>
